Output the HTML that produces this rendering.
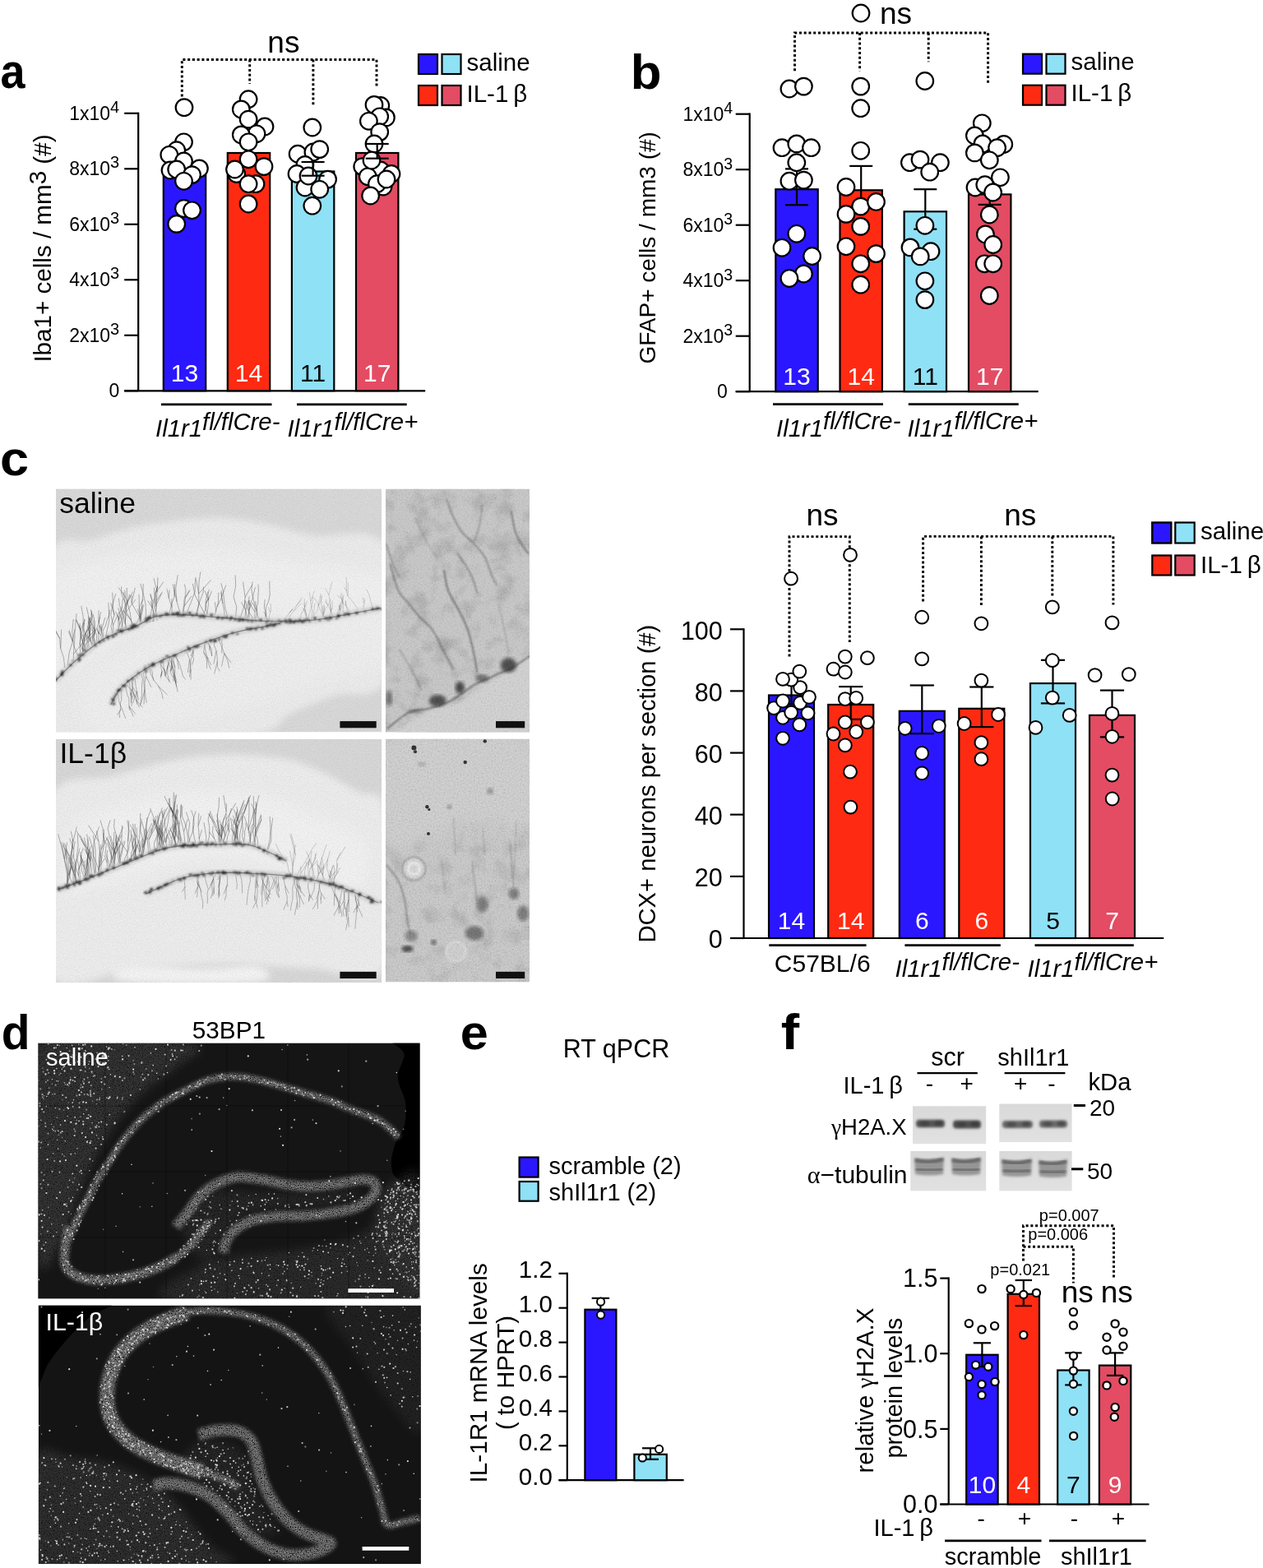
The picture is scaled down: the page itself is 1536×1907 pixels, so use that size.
<!DOCTYPE html><html><head><meta charset="utf-8"><style>html,body{margin:0;padding:0;background:#fff;}svg{display:block;}</style></head><body><svg width="1536" height="1907" viewBox="0 0 1536 1907" font-family="Liberation Sans, Arial, sans-serif"><text x="0.6" y="107.5" font-size="60" font-weight="bold" transform="translate(0.6 0) scale(0.9 1) translate(-0.6 0)">a</text>
<line x1="151.2" y1="475.3" x2="168.2" y2="475.3" stroke="#000" stroke-width="2.2"/>
<text x="145.2" y="483.1" font-size="23" text-anchor="end">0</text>
<line x1="151.2" y1="407.8" x2="168.2" y2="407.8" stroke="#000" stroke-width="2.2"/>
<text x="145.2" y="415.6" font-size="23" text-anchor="end">2x10<tspan font-size="20" dy="-9">3</tspan></text>
<line x1="151.2" y1="340.3" x2="168.2" y2="340.3" stroke="#000" stroke-width="2.2"/>
<text x="145.2" y="348.1" font-size="23" text-anchor="end">4x10<tspan font-size="20" dy="-9">3</tspan></text>
<line x1="151.2" y1="272.8" x2="168.2" y2="272.8" stroke="#000" stroke-width="2.2"/>
<text x="145.2" y="280.6" font-size="23" text-anchor="end">6x10<tspan font-size="20" dy="-9">3</tspan></text>
<line x1="151.2" y1="205.3" x2="168.2" y2="205.3" stroke="#000" stroke-width="2.2"/>
<text x="145.2" y="213.1" font-size="23" text-anchor="end">8x10<tspan font-size="20" dy="-9">3</tspan></text>
<line x1="151.2" y1="137.8" x2="168.2" y2="137.8" stroke="#000" stroke-width="2.2"/>
<text x="145.2" y="145.6" font-size="23" text-anchor="end">1x10<tspan font-size="20" dy="-9">4</tspan></text>
<line x1="168.2" y1="136.7" x2="168.2" y2="475.3" stroke="#000" stroke-width="2.2"/>
<line x1="151.2" y1="475.3" x2="517.2" y2="475.3" stroke="#000" stroke-width="2.2"/>
<text x="62.5" y="440.6" font-size="29.6" transform="rotate(-90 62.5 440.6)">Iba1+ cells / mm<tspan dy="-6">3</tspan><tspan dy="6"> (#)</tspan></text>
<rect x="198.8" y="209" width="51.4" height="266.3" fill="#2b17ff" stroke="#000" stroke-width="2.2"/>
<rect x="276.8" y="186" width="51.4" height="289.3" fill="#ff2a12" stroke="#000" stroke-width="2.2"/>
<rect x="354.9" y="208.5" width="51.4" height="266.8" fill="#8fe1f5" stroke="#000" stroke-width="2.2"/>
<rect x="433" y="186" width="51.4" height="289.3" fill="#e34c63" stroke="#000" stroke-width="2.2"/>
<circle cx="224" cy="130.7" r="10.3" fill="#fff" stroke="#000" stroke-width="2.2"/>
<circle cx="223.5" cy="172.8" r="10.3" fill="#fff" stroke="#000" stroke-width="2.2"/>
<circle cx="214.7" cy="182.7" r="10.3" fill="#fff" stroke="#000" stroke-width="2.2"/>
<circle cx="205.8" cy="188.3" r="10.3" fill="#fff" stroke="#000" stroke-width="2.2"/>
<circle cx="223.5" cy="196" r="10.3" fill="#fff" stroke="#000" stroke-width="2.2"/>
<circle cx="207" cy="207" r="10.3" fill="#fff" stroke="#000" stroke-width="2.2"/>
<circle cx="214.7" cy="206" r="10.3" fill="#fff" stroke="#000" stroke-width="2.2"/>
<circle cx="242.4" cy="204.9" r="10.3" fill="#fff" stroke="#000" stroke-width="2.2"/>
<circle cx="233.5" cy="212.6" r="10.3" fill="#fff" stroke="#000" stroke-width="2.2"/>
<circle cx="223.5" cy="220.3" r="10.3" fill="#fff" stroke="#000" stroke-width="2.2"/>
<circle cx="223.5" cy="253.5" r="10.3" fill="#fff" stroke="#000" stroke-width="2.2"/>
<circle cx="233.5" cy="255.8" r="10.3" fill="#fff" stroke="#000" stroke-width="2.2"/>
<circle cx="214.7" cy="272.4" r="10.3" fill="#fff" stroke="#000" stroke-width="2.2"/>
<circle cx="302.1" cy="120.7" r="10.3" fill="#fff" stroke="#000" stroke-width="2.2"/>
<circle cx="293.3" cy="132.9" r="10.3" fill="#fff" stroke="#000" stroke-width="2.2"/>
<circle cx="302.1" cy="145.1" r="10.3" fill="#fff" stroke="#000" stroke-width="2.2"/>
<circle cx="322" cy="154" r="10.3" fill="#fff" stroke="#000" stroke-width="2.2"/>
<circle cx="312" cy="162.8" r="10.3" fill="#fff" stroke="#000" stroke-width="2.2"/>
<circle cx="293.3" cy="163.9" r="10.3" fill="#fff" stroke="#000" stroke-width="2.2"/>
<circle cx="302.1" cy="172.8" r="10.3" fill="#fff" stroke="#000" stroke-width="2.2"/>
<circle cx="302.1" cy="193.8" r="10.3" fill="#fff" stroke="#000" stroke-width="2.2"/>
<circle cx="287.7" cy="211.5" r="10.3" fill="#fff" stroke="#000" stroke-width="2.2"/>
<circle cx="285.5" cy="206" r="10.3" fill="#fff" stroke="#000" stroke-width="2.2"/>
<circle cx="321" cy="202.6" r="10.3" fill="#fff" stroke="#000" stroke-width="2.2"/>
<circle cx="311" cy="223.7" r="10.3" fill="#fff" stroke="#000" stroke-width="2.2"/>
<circle cx="302.1" cy="223.7" r="10.3" fill="#fff" stroke="#000" stroke-width="2.2"/>
<circle cx="302.1" cy="248" r="10.3" fill="#fff" stroke="#000" stroke-width="2.2"/>
<circle cx="379.8" cy="155" r="10.3" fill="#fff" stroke="#000" stroke-width="2.2"/>
<circle cx="362.1" cy="187.2" r="10.3" fill="#fff" stroke="#000" stroke-width="2.2"/>
<circle cx="380.9" cy="185" r="10.3" fill="#fff" stroke="#000" stroke-width="2.2"/>
<circle cx="388.7" cy="181.6" r="10.3" fill="#fff" stroke="#000" stroke-width="2.2"/>
<circle cx="370.9" cy="200.4" r="10.3" fill="#fff" stroke="#000" stroke-width="2.2"/>
<circle cx="361" cy="211.5" r="10.3" fill="#fff" stroke="#000" stroke-width="2.2"/>
<circle cx="398.6" cy="218.1" r="10.3" fill="#fff" stroke="#000" stroke-width="2.2"/>
<circle cx="371" cy="228" r="10.3" fill="#fff" stroke="#000" stroke-width="2.2"/>
<circle cx="388.7" cy="230.3" r="10.3" fill="#fff" stroke="#000" stroke-width="2.2"/>
<circle cx="379.8" cy="250.2" r="10.3" fill="#fff" stroke="#000" stroke-width="2.2"/>
<circle cx="375" cy="214" r="10.3" fill="#fff" stroke="#000" stroke-width="2.2"/>
<circle cx="462.8" cy="128.5" r="10.3" fill="#fff" stroke="#000" stroke-width="2.2"/>
<circle cx="455" cy="127.4" r="10.3" fill="#fff" stroke="#000" stroke-width="2.2"/>
<circle cx="469.4" cy="142.9" r="10.3" fill="#fff" stroke="#000" stroke-width="2.2"/>
<circle cx="461.7" cy="141.8" r="10.3" fill="#fff" stroke="#000" stroke-width="2.2"/>
<circle cx="448.4" cy="147.3" r="10.3" fill="#fff" stroke="#000" stroke-width="2.2"/>
<circle cx="461.7" cy="160.6" r="10.3" fill="#fff" stroke="#000" stroke-width="2.2"/>
<circle cx="455" cy="175" r="10.3" fill="#fff" stroke="#000" stroke-width="2.2"/>
<circle cx="440.7" cy="202.6" r="10.3" fill="#fff" stroke="#000" stroke-width="2.2"/>
<circle cx="456.2" cy="204.9" r="10.3" fill="#fff" stroke="#000" stroke-width="2.2"/>
<circle cx="462.8" cy="207" r="10.3" fill="#fff" stroke="#000" stroke-width="2.2"/>
<circle cx="476" cy="211.5" r="10.3" fill="#fff" stroke="#000" stroke-width="2.2"/>
<circle cx="447.3" cy="214.8" r="10.3" fill="#fff" stroke="#000" stroke-width="2.2"/>
<circle cx="466.1" cy="227" r="10.3" fill="#fff" stroke="#000" stroke-width="2.2"/>
<circle cx="458.4" cy="223.7" r="10.3" fill="#fff" stroke="#000" stroke-width="2.2"/>
<circle cx="450.6" cy="238" r="10.3" fill="#fff" stroke="#000" stroke-width="2.2"/>
<circle cx="470" cy="218" r="10.3" fill="#fff" stroke="#000" stroke-width="2.2"/>
<circle cx="452" cy="195" r="10.3" fill="#fff" stroke="#000" stroke-width="2.2"/>
<line x1="380.6" y1="197" x2="380.6" y2="213.7" stroke="#000" stroke-width="2.2"/>
<line x1="366.6" y1="197" x2="394.6" y2="197" stroke="#000" stroke-width="2.2"/>
<line x1="366.6" y1="213.7" x2="394.6" y2="213.7" stroke="#000" stroke-width="2.2"/>
<line x1="458.7" y1="175" x2="458.7" y2="192.7" stroke="#000" stroke-width="2.2"/>
<line x1="444.7" y1="175" x2="472.7" y2="175" stroke="#000" stroke-width="2.2"/>
<line x1="444.7" y1="192.7" x2="472.7" y2="192.7" stroke="#000" stroke-width="2.2"/>
<text x="224.5" y="463.7" font-size="30" text-anchor="middle" fill="#fff">13</text>
<text x="302.5" y="463.7" font-size="30" text-anchor="middle" fill="#fff">14</text>
<text x="380.6" y="463.7" font-size="30" text-anchor="middle">11</text>
<text x="458.7" y="463.7" font-size="30" text-anchor="middle" fill="#fff">17</text>
<line x1="196" y1="491.8" x2="330.5" y2="491.8" stroke="#000" stroke-width="2.8"/>
<line x1="361" y1="491.8" x2="494.7" y2="491.8" stroke="#000" stroke-width="2.8"/>
<text x="189" y="530.9" font-size="29.3" font-style="italic">Il1r1<tspan dy="-8.4">fl/flCre-</tspan></text>
<text x="349.5" y="530.9" font-size="29.3" font-style="italic">Il1r1<tspan dy="-8.4">fl/flCre+</tspan></text>
<path d="M221.3 117.4 L221.3 72.5 L458 72.5 L458 105" fill="none" stroke="#000" stroke-width="2.9" stroke-dasharray="3 2.75"/>
<path d="M303.7 72.5 L303.7 102" fill="none" stroke="#000" stroke-width="2.9" stroke-dasharray="3 2.75"/>
<path d="M380.9 72.5 L380.9 127.4" fill="none" stroke="#000" stroke-width="2.9" stroke-dasharray="3 2.75"/>
<text x="344.9" y="64" font-size="37" text-anchor="middle">ns</text>
<rect x="509" y="66" width="23" height="24" fill="#2b17ff" stroke="#000" stroke-width="2.2"/>
<rect x="537.5" y="66" width="23" height="24" fill="#8fe1f5" stroke="#000" stroke-width="2.2"/>
<rect x="509" y="104" width="23" height="24" fill="#ff2a12" stroke="#000" stroke-width="2.2"/>
<rect x="537.5" y="104" width="23" height="24" fill="#e34c63" stroke="#000" stroke-width="2.2"/>
<text x="567.5" y="85.5" font-size="29.5">saline</text>
<text x="567.5" y="123.5" font-size="29.5">IL-1 β</text>
<text x="766.8" y="107.8" font-size="60" font-weight="bold" transform="translate(766.8 0) scale(1.03 1) translate(-766.8 0)">b</text>
<line x1="894.7" y1="476.2" x2="911.7" y2="476.2" stroke="#000" stroke-width="2.2"/>
<text x="884.7" y="484" font-size="23" text-anchor="end">0</text>
<line x1="894.7" y1="408.7" x2="911.7" y2="408.7" stroke="#000" stroke-width="2.2"/>
<text x="891.2" y="416.5" font-size="23" text-anchor="end">2x10<tspan font-size="19.5" dy="-8.5">3</tspan></text>
<line x1="894.7" y1="341.2" x2="911.7" y2="341.2" stroke="#000" stroke-width="2.2"/>
<text x="891.2" y="349" font-size="23" text-anchor="end">4x10<tspan font-size="19.5" dy="-8.5">3</tspan></text>
<line x1="894.7" y1="273.7" x2="911.7" y2="273.7" stroke="#000" stroke-width="2.2"/>
<text x="891.2" y="281.5" font-size="23" text-anchor="end">6x10<tspan font-size="19.5" dy="-8.5">3</tspan></text>
<line x1="894.7" y1="206.2" x2="911.7" y2="206.2" stroke="#000" stroke-width="2.2"/>
<text x="891.2" y="214" font-size="23" text-anchor="end">8x10<tspan font-size="19.5" dy="-8.5">3</tspan></text>
<line x1="894.7" y1="138.7" x2="911.7" y2="138.7" stroke="#000" stroke-width="2.2"/>
<text x="891.2" y="146.5" font-size="23" text-anchor="end">1x10<tspan font-size="19.5" dy="-8.5">4</tspan></text>
<line x1="911.7" y1="137.6" x2="911.7" y2="476.2" stroke="#000" stroke-width="2.2"/>
<line x1="894.7" y1="476.2" x2="1262.7" y2="476.2" stroke="#000" stroke-width="2.2"/>
<text x="796.6" y="442.5" font-size="28" transform="rotate(-90 796.6 442.5)">GFAP+ cells / mm3 (#)</text>
<rect x="943.3" y="230.2" width="51.4" height="246" fill="#2b17ff" stroke="#000" stroke-width="2.2"/>
<rect x="1021.5" y="231.3" width="51.4" height="244.9" fill="#ff2a12" stroke="#000" stroke-width="2.2"/>
<rect x="1099.6" y="257.3" width="51.4" height="218.9" fill="#8fe1f5" stroke="#000" stroke-width="2.2"/>
<rect x="1178" y="236.4" width="51.4" height="239.8" fill="#e34c63" stroke="#000" stroke-width="2.2"/>
<line x1="969" y1="205.4" x2="969" y2="249.3" stroke="#000" stroke-width="2.2"/>
<line x1="955" y1="205.4" x2="983" y2="205.4" stroke="#000" stroke-width="2.2"/>
<line x1="955" y1="249.3" x2="983" y2="249.3" stroke="#000" stroke-width="2.2"/>
<line x1="1047.2" y1="201.9" x2="1047.2" y2="260" stroke="#000" stroke-width="2.2"/>
<line x1="1033.2" y1="201.9" x2="1061.2" y2="201.9" stroke="#000" stroke-width="2.2"/>
<line x1="1125.3" y1="230.2" x2="1125.3" y2="278.7" stroke="#000" stroke-width="2.2"/>
<line x1="1111.3" y1="230.2" x2="1139.3" y2="230.2" stroke="#000" stroke-width="2.2"/>
<line x1="1111.3" y1="278.7" x2="1139.3" y2="278.7" stroke="#000" stroke-width="2.2"/>
<line x1="1203.7" y1="222" x2="1203.7" y2="248.9" stroke="#000" stroke-width="2.2"/>
<line x1="1189.7" y1="222" x2="1217.7" y2="222" stroke="#000" stroke-width="2.2"/>
<line x1="1189.7" y1="248.9" x2="1217.7" y2="248.9" stroke="#000" stroke-width="2.2"/>
<circle cx="959.9" cy="108" r="10.3" fill="#fff" stroke="#000" stroke-width="2.2"/>
<circle cx="977.4" cy="105.1" r="10.3" fill="#fff" stroke="#000" stroke-width="2.2"/>
<circle cx="951" cy="179.7" r="10.3" fill="#fff" stroke="#000" stroke-width="2.2"/>
<circle cx="968.8" cy="174.9" r="10.3" fill="#fff" stroke="#000" stroke-width="2.2"/>
<circle cx="986.5" cy="179.7" r="10.3" fill="#fff" stroke="#000" stroke-width="2.2"/>
<circle cx="968.8" cy="197.7" r="10.3" fill="#fff" stroke="#000" stroke-width="2.2"/>
<circle cx="959.9" cy="220.2" r="10.3" fill="#fff" stroke="#000" stroke-width="2.2"/>
<circle cx="977.4" cy="219.1" r="10.3" fill="#fff" stroke="#000" stroke-width="2.2"/>
<circle cx="968.8" cy="284.3" r="10.3" fill="#fff" stroke="#000" stroke-width="2.2"/>
<circle cx="951" cy="301.3" r="10.3" fill="#fff" stroke="#000" stroke-width="2.2"/>
<circle cx="987.6" cy="311.5" r="10.3" fill="#fff" stroke="#000" stroke-width="2.2"/>
<circle cx="977.4" cy="333" r="10.3" fill="#fff" stroke="#000" stroke-width="2.2"/>
<circle cx="959.9" cy="338.5" r="10.3" fill="#fff" stroke="#000" stroke-width="2.2"/>
<circle cx="1047" cy="16" r="10.3" fill="#fff" stroke="#000" stroke-width="2.2"/>
<circle cx="1046.7" cy="105.1" r="10.3" fill="#fff" stroke="#000" stroke-width="2.2"/>
<circle cx="1046.7" cy="131.7" r="10.3" fill="#fff" stroke="#000" stroke-width="2.2"/>
<circle cx="1046.7" cy="183.3" r="10.3" fill="#fff" stroke="#000" stroke-width="2.2"/>
<circle cx="1029" cy="227.5" r="10.3" fill="#fff" stroke="#000" stroke-width="2.2"/>
<circle cx="1046.7" cy="251.1" r="10.3" fill="#fff" stroke="#000" stroke-width="2.2"/>
<circle cx="1065.5" cy="245.5" r="10.3" fill="#fff" stroke="#000" stroke-width="2.2"/>
<circle cx="1029" cy="260.4" r="10.3" fill="#fff" stroke="#000" stroke-width="2.2"/>
<circle cx="1046.7" cy="275.4" r="10.3" fill="#fff" stroke="#000" stroke-width="2.2"/>
<circle cx="1029" cy="299.8" r="10.3" fill="#fff" stroke="#000" stroke-width="2.2"/>
<circle cx="1065.5" cy="308.6" r="10.3" fill="#fff" stroke="#000" stroke-width="2.2"/>
<circle cx="1046.7" cy="320.8" r="10.3" fill="#fff" stroke="#000" stroke-width="2.2"/>
<circle cx="1046.7" cy="346.2" r="10.3" fill="#fff" stroke="#000" stroke-width="2.2"/>
<circle cx="1124.8" cy="98.5" r="10.3" fill="#fff" stroke="#000" stroke-width="2.2"/>
<circle cx="1106.4" cy="197.7" r="10.3" fill="#fff" stroke="#000" stroke-width="2.2"/>
<circle cx="1119" cy="194.1" r="10.3" fill="#fff" stroke="#000" stroke-width="2.2"/>
<circle cx="1143.4" cy="197.7" r="10.3" fill="#fff" stroke="#000" stroke-width="2.2"/>
<circle cx="1130.7" cy="209.2" r="10.3" fill="#fff" stroke="#000" stroke-width="2.2"/>
<circle cx="1124.9" cy="274.3" r="10.3" fill="#fff" stroke="#000" stroke-width="2.2"/>
<circle cx="1107" cy="300.9" r="10.3" fill="#fff" stroke="#000" stroke-width="2.2"/>
<circle cx="1132" cy="305.7" r="10.3" fill="#fff" stroke="#000" stroke-width="2.2"/>
<circle cx="1119.2" cy="311.9" r="10.3" fill="#fff" stroke="#000" stroke-width="2.2"/>
<circle cx="1124.9" cy="341.8" r="10.3" fill="#fff" stroke="#000" stroke-width="2.2"/>
<circle cx="1124.9" cy="364.6" r="10.3" fill="#fff" stroke="#000" stroke-width="2.2"/>
<circle cx="1194.3" cy="149.8" r="10.3" fill="#fff" stroke="#000" stroke-width="2.2"/>
<circle cx="1185.4" cy="164.9" r="10.3" fill="#fff" stroke="#000" stroke-width="2.2"/>
<circle cx="1195" cy="174.9" r="10.3" fill="#fff" stroke="#000" stroke-width="2.2"/>
<circle cx="1220.8" cy="175.5" r="10.3" fill="#fff" stroke="#000" stroke-width="2.2"/>
<circle cx="1212.6" cy="179.7" r="10.3" fill="#fff" stroke="#000" stroke-width="2.2"/>
<circle cx="1185.4" cy="185.9" r="10.3" fill="#fff" stroke="#000" stroke-width="2.2"/>
<circle cx="1203.3" cy="194.8" r="10.3" fill="#fff" stroke="#000" stroke-width="2.2"/>
<circle cx="1216.4" cy="215.8" r="10.3" fill="#fff" stroke="#000" stroke-width="2.2"/>
<circle cx="1186" cy="228" r="10.3" fill="#fff" stroke="#000" stroke-width="2.2"/>
<circle cx="1197.8" cy="224.7" r="10.3" fill="#fff" stroke="#000" stroke-width="2.2"/>
<circle cx="1207.6" cy="234" r="10.3" fill="#fff" stroke="#000" stroke-width="2.2"/>
<circle cx="1203.3" cy="261" r="10.3" fill="#fff" stroke="#000" stroke-width="2.2"/>
<circle cx="1198.4" cy="284.9" r="10.3" fill="#fff" stroke="#000" stroke-width="2.2"/>
<circle cx="1207.7" cy="297.5" r="10.3" fill="#fff" stroke="#000" stroke-width="2.2"/>
<circle cx="1197.3" cy="320.8" r="10.3" fill="#fff" stroke="#000" stroke-width="2.2"/>
<circle cx="1207.7" cy="320.8" r="10.3" fill="#fff" stroke="#000" stroke-width="2.2"/>
<circle cx="1203.3" cy="359.5" r="10.3" fill="#fff" stroke="#000" stroke-width="2.2"/>
<text x="969" y="467.8" font-size="30" text-anchor="middle" fill="#fff">13</text>
<text x="1047.2" y="467.8" font-size="30" text-anchor="middle" fill="#fff">14</text>
<text x="1125.3" y="467.8" font-size="30" text-anchor="middle">11</text>
<text x="1203.7" y="467.8" font-size="30" text-anchor="middle" fill="#fff">17</text>
<line x1="940" y1="491.7" x2="1073.9" y2="491.7" stroke="#000" stroke-width="2.8"/>
<line x1="1104.8" y1="491.7" x2="1238.7" y2="491.7" stroke="#000" stroke-width="2.8"/>
<text x="944" y="530.8" font-size="29.3" font-style="italic">Il1r1<tspan dy="-8.4">fl/flCre-</tspan></text>
<text x="1103.5" y="530.8" font-size="29.3" font-style="italic">Il1r1<tspan dy="-8.4">fl/flCre+</tspan></text>
<path d="M966.5 86.3 L966.5 40 L1201.6 40 L1201.6 101.8" fill="none" stroke="#000" stroke-width="2.9" stroke-dasharray="3 2.75"/>
<path d="M1045.6 40 L1045.6 86.3" fill="none" stroke="#000" stroke-width="2.9" stroke-dasharray="3 2.75"/>
<path d="M1129.2 40 L1129.2 75.3" fill="none" stroke="#000" stroke-width="2.9" stroke-dasharray="3 2.75"/>
<text x="1089.6" y="29.4" font-size="37" text-anchor="middle">ns</text>
<rect x="1244" y="65.7" width="23" height="24" fill="#2b17ff" stroke="#000" stroke-width="2.2"/>
<rect x="1272.5" y="65.7" width="23" height="24" fill="#8fe1f5" stroke="#000" stroke-width="2.2"/>
<rect x="1244" y="103.7" width="23" height="24" fill="#ff2a12" stroke="#000" stroke-width="2.2"/>
<rect x="1272.5" y="103.7" width="23" height="24" fill="#e34c63" stroke="#000" stroke-width="2.2"/>
<text x="1302.5" y="85.2" font-size="29.5">saline</text>
<text x="1302.5" y="123.2" font-size="29.5">IL-1 β</text>
<line x1="888" y1="1141" x2="904.5" y2="1141" stroke="#000" stroke-width="2.2"/>
<text x="878.8" y="1153.2" font-size="30.5" text-anchor="end">0</text>
<line x1="888" y1="1065.9" x2="904.5" y2="1065.9" stroke="#000" stroke-width="2.2"/>
<text x="878.8" y="1078.1" font-size="30.5" text-anchor="end">20</text>
<line x1="888" y1="990.7" x2="904.5" y2="990.7" stroke="#000" stroke-width="2.2"/>
<text x="878.8" y="1002.9" font-size="30.5" text-anchor="end">40</text>
<line x1="888" y1="915.6" x2="904.5" y2="915.6" stroke="#000" stroke-width="2.2"/>
<text x="878.8" y="927.8" font-size="30.5" text-anchor="end">60</text>
<line x1="888" y1="840.4" x2="904.5" y2="840.4" stroke="#000" stroke-width="2.2"/>
<text x="878.8" y="852.6" font-size="30.5" text-anchor="end">80</text>
<line x1="888" y1="765.3" x2="904.5" y2="765.3" stroke="#000" stroke-width="2.2"/>
<text x="878.8" y="777.5" font-size="30.5" text-anchor="end">100</text>
<line x1="904.5" y1="764.2" x2="904.5" y2="1141" stroke="#000" stroke-width="2.2"/>
<line x1="888" y1="1141" x2="1415.3" y2="1141" stroke="#000" stroke-width="2.2"/>
<text x="796.8" y="1146.6" font-size="29.2" transform="rotate(-90 796.8 1146.6)">DCX+ neurons per section (#)</text>
<path d="M960 798.6 L960 652.6 L1033.3 652.6 L1033.3 781" fill="none" stroke="#000" stroke-width="2.9" stroke-dasharray="3 2.75"/>
<path d="M1122.6 731.4 L1122.6 652.4 L1353.9 652.4 L1353.9 735.5" fill="none" stroke="#000" stroke-width="2.9" stroke-dasharray="3 2.75"/>
<path d="M1193.4 652.4 L1193.4 738.2" fill="none" stroke="#000" stroke-width="2.9" stroke-dasharray="3 2.75"/>
<path d="M1279.8 652.4 L1279.8 726.5" fill="none" stroke="#000" stroke-width="2.9" stroke-dasharray="3 2.75"/>
<text x="1000" y="639" font-size="37" text-anchor="middle">ns</text>
<text x="1240.8" y="639" font-size="37" text-anchor="middle">ns</text>
<rect x="935" y="845.5" width="55" height="295.5" fill="#2b17ff" stroke="#000" stroke-width="2.2"/>
<rect x="1007.2" y="857" width="55" height="284" fill="#ff2a12" stroke="#000" stroke-width="2.2"/>
<rect x="1093.8" y="864.8" width="55" height="276.2" fill="#2b17ff" stroke="#000" stroke-width="2.2"/>
<rect x="1166.3" y="861.8" width="55" height="279.2" fill="#ff2a12" stroke="#000" stroke-width="2.2"/>
<rect x="1253" y="831.1" width="55" height="309.9" fill="#8fe1f5" stroke="#000" stroke-width="2.2"/>
<rect x="1325" y="869.9" width="55" height="271.1" fill="#e34c63" stroke="#000" stroke-width="2.2"/>
<line x1="962.5" y1="832.5" x2="962.5" y2="856.4" stroke="#000" stroke-width="2.2"/>
<line x1="947.9" y1="832.5" x2="977.1" y2="832.5" stroke="#000" stroke-width="2.2"/>
<line x1="947.9" y1="856.4" x2="977.1" y2="856.4" stroke="#000" stroke-width="2.2"/>
<circle cx="962" cy="703.7" r="7.9" fill="#fff" stroke="#000" stroke-width="2.0"/>
<circle cx="952" cy="897.8" r="7.9" fill="#fff" stroke="#000" stroke-width="2.0"/>
<circle cx="972.3" cy="881.4" r="7.9" fill="#fff" stroke="#000" stroke-width="2.0"/>
<circle cx="952" cy="872.8" r="7.9" fill="#fff" stroke="#000" stroke-width="2.0"/>
<circle cx="982.5" cy="867.3" r="7.9" fill="#fff" stroke="#000" stroke-width="2.0"/>
<circle cx="962.2" cy="866.6" r="7.9" fill="#fff" stroke="#000" stroke-width="2.0"/>
<circle cx="941.1" cy="861.1" r="7.9" fill="#fff" stroke="#000" stroke-width="2.0"/>
<circle cx="952" cy="852.5" r="7.9" fill="#fff" stroke="#000" stroke-width="2.0"/>
<circle cx="973.1" cy="854.8" r="7.9" fill="#fff" stroke="#000" stroke-width="2.0"/>
<circle cx="984" cy="847.8" r="7.9" fill="#fff" stroke="#000" stroke-width="2.0"/>
<circle cx="973.1" cy="836.1" r="7.9" fill="#fff" stroke="#000" stroke-width="2.0"/>
<circle cx="962.2" cy="826.7" r="7.9" fill="#fff" stroke="#000" stroke-width="2.0"/>
<circle cx="952" cy="825.9" r="7.9" fill="#fff" stroke="#000" stroke-width="2.0"/>
<circle cx="972.3" cy="816.6" r="7.9" fill="#fff" stroke="#000" stroke-width="2.0"/>
<text x="962.5" y="1130.2" font-size="30" text-anchor="middle" fill="#fff">14</text>
<line x1="1034.7" y1="835.1" x2="1034.7" y2="874.9" stroke="#000" stroke-width="2.2"/>
<line x1="1020.1" y1="835.1" x2="1049.3" y2="835.1" stroke="#000" stroke-width="2.2"/>
<line x1="1020.1" y1="874.9" x2="1049.3" y2="874.9" stroke="#000" stroke-width="2.2"/>
<circle cx="1034" cy="674.9" r="7.9" fill="#fff" stroke="#000" stroke-width="2.0"/>
<circle cx="1027.8" cy="798.6" r="7.9" fill="#fff" stroke="#000" stroke-width="2.0"/>
<circle cx="1054.9" cy="800.2" r="7.9" fill="#fff" stroke="#000" stroke-width="2.0"/>
<circle cx="1013.5" cy="813.7" r="7.9" fill="#fff" stroke="#000" stroke-width="2.0"/>
<circle cx="1027.8" cy="817.5" r="7.9" fill="#fff" stroke="#000" stroke-width="2.0"/>
<circle cx="1027.8" cy="850.1" r="7.9" fill="#fff" stroke="#000" stroke-width="2.0"/>
<circle cx="1041.2" cy="848.9" r="7.9" fill="#fff" stroke="#000" stroke-width="2.0"/>
<circle cx="1027.8" cy="878.3" r="7.9" fill="#fff" stroke="#000" stroke-width="2.0"/>
<circle cx="1054.9" cy="878.3" r="7.9" fill="#fff" stroke="#000" stroke-width="2.0"/>
<circle cx="1013.5" cy="892.5" r="7.9" fill="#fff" stroke="#000" stroke-width="2.0"/>
<circle cx="1041.2" cy="890" r="7.9" fill="#fff" stroke="#000" stroke-width="2.0"/>
<circle cx="1027.8" cy="906.4" r="7.9" fill="#fff" stroke="#000" stroke-width="2.0"/>
<circle cx="1034" cy="938.7" r="7.9" fill="#fff" stroke="#000" stroke-width="2.0"/>
<circle cx="1034.4" cy="981.6" r="7.9" fill="#fff" stroke="#000" stroke-width="2.0"/>
<text x="1034.7" y="1130.2" font-size="30" text-anchor="middle" fill="#fff">14</text>
<line x1="1121.3" y1="833.5" x2="1121.3" y2="892.2" stroke="#000" stroke-width="2.2"/>
<line x1="1106.7" y1="833.5" x2="1135.9" y2="833.5" stroke="#000" stroke-width="2.2"/>
<line x1="1106.7" y1="892.2" x2="1135.9" y2="892.2" stroke="#000" stroke-width="2.2"/>
<circle cx="1121.2" cy="750.7" r="7.9" fill="#fff" stroke="#000" stroke-width="2.0"/>
<circle cx="1121.2" cy="801.4" r="7.9" fill="#fff" stroke="#000" stroke-width="2.0"/>
<circle cx="1100.7" cy="885.8" r="7.9" fill="#fff" stroke="#000" stroke-width="2.0"/>
<circle cx="1141.8" cy="883" r="7.9" fill="#fff" stroke="#000" stroke-width="2.0"/>
<circle cx="1121.2" cy="916" r="7.9" fill="#fff" stroke="#000" stroke-width="2.0"/>
<circle cx="1121.2" cy="940.3" r="7.9" fill="#fff" stroke="#000" stroke-width="2.0"/>
<text x="1121.3" y="1130.2" font-size="30" text-anchor="middle" fill="#fff">6</text>
<line x1="1193.8" y1="835.5" x2="1193.8" y2="884.1" stroke="#000" stroke-width="2.2"/>
<line x1="1179.2" y1="835.5" x2="1208.4" y2="835.5" stroke="#000" stroke-width="2.2"/>
<line x1="1179.2" y1="884.1" x2="1208.4" y2="884.1" stroke="#000" stroke-width="2.2"/>
<circle cx="1193.4" cy="758.3" r="7.9" fill="#fff" stroke="#000" stroke-width="2.0"/>
<circle cx="1193.4" cy="827.6" r="7.9" fill="#fff" stroke="#000" stroke-width="2.0"/>
<circle cx="1214" cy="869" r="7.9" fill="#fff" stroke="#000" stroke-width="2.0"/>
<circle cx="1172.6" cy="880" r="7.9" fill="#fff" stroke="#000" stroke-width="2.0"/>
<circle cx="1193.4" cy="903.1" r="7.9" fill="#fff" stroke="#000" stroke-width="2.0"/>
<circle cx="1193.4" cy="923.2" r="7.9" fill="#fff" stroke="#000" stroke-width="2.0"/>
<text x="1193.8" y="1130.2" font-size="30" text-anchor="middle" fill="#fff">6</text>
<line x1="1280.5" y1="802.8" x2="1280.5" y2="855.4" stroke="#000" stroke-width="2.2"/>
<line x1="1265.9" y1="802.8" x2="1295.1" y2="802.8" stroke="#000" stroke-width="2.2"/>
<line x1="1265.9" y1="855.4" x2="1295.1" y2="855.4" stroke="#000" stroke-width="2.2"/>
<circle cx="1279.8" cy="738.4" r="7.9" fill="#fff" stroke="#000" stroke-width="2.0"/>
<circle cx="1279.8" cy="803.2" r="7.9" fill="#fff" stroke="#000" stroke-width="2.0"/>
<circle cx="1279.8" cy="848.6" r="7.9" fill="#fff" stroke="#000" stroke-width="2.0"/>
<circle cx="1300.7" cy="869.9" r="7.9" fill="#fff" stroke="#000" stroke-width="2.0"/>
<circle cx="1259.5" cy="884.9" r="7.9" fill="#fff" stroke="#000" stroke-width="2.0"/>
<text x="1280.5" y="1130.2" font-size="30" text-anchor="middle">5</text>
<line x1="1352.5" y1="839.6" x2="1352.5" y2="896.4" stroke="#000" stroke-width="2.2"/>
<line x1="1337.9" y1="839.6" x2="1367.1" y2="839.6" stroke="#000" stroke-width="2.2"/>
<line x1="1337.9" y1="896.4" x2="1367.1" y2="896.4" stroke="#000" stroke-width="2.2"/>
<circle cx="1352.5" cy="757.4" r="7.9" fill="#fff" stroke="#000" stroke-width="2.0"/>
<circle cx="1331.6" cy="821.1" r="7.9" fill="#fff" stroke="#000" stroke-width="2.0"/>
<circle cx="1372.8" cy="820.1" r="7.9" fill="#fff" stroke="#000" stroke-width="2.0"/>
<circle cx="1352.5" cy="867.9" r="7.9" fill="#fff" stroke="#000" stroke-width="2.0"/>
<circle cx="1352.5" cy="895.8" r="7.9" fill="#fff" stroke="#000" stroke-width="2.0"/>
<circle cx="1352.5" cy="942.6" r="7.9" fill="#fff" stroke="#000" stroke-width="2.0"/>
<circle cx="1352.7" cy="971.5" r="7.9" fill="#fff" stroke="#000" stroke-width="2.0"/>
<text x="1352.5" y="1130.2" font-size="30" text-anchor="middle" fill="#fff">7</text>
<line x1="935.3" y1="1149.6" x2="1053.5" y2="1149.6" stroke="#000" stroke-width="2.8"/>
<line x1="1100.4" y1="1149.6" x2="1216.8" y2="1149.6" stroke="#000" stroke-width="2.8"/>
<line x1="1258.5" y1="1149.6" x2="1378.8" y2="1149.6" stroke="#000" stroke-width="2.8"/>
<text x="1000.2" y="1182" font-size="30" text-anchor="middle">C57BL/6</text>
<text x="1088.5" y="1188" font-size="29.3" font-style="italic">Il1r1<tspan dy="-8.4">fl/flCre-</tspan></text>
<text x="1249.5" y="1188" font-size="29.3" font-style="italic">Il1r1<tspan dy="-8.4">fl/flCre+</tspan></text>
<rect x="1401.3" y="635.5" width="23" height="25" fill="#2b17ff" stroke="#000" stroke-width="2.4"/>
<rect x="1429.3" y="635.5" width="23.4" height="25" fill="#8fe1f5" stroke="#000" stroke-width="2.2"/>
<rect x="1401.3" y="675.5" width="23" height="24" fill="#ff2a12" stroke="#000" stroke-width="2.2"/>
<rect x="1429.3" y="675.5" width="23.4" height="24" fill="#e34c63" stroke="#000" stroke-width="2.2"/>
<text x="1460" y="655.8" font-size="29.5">saline</text>
<text x="1460" y="697" font-size="29.5">IL-1 β</text>
<text x="0" y="578.5" font-size="60" font-weight="bold" transform="scale(1.05 1)">c</text>
<text x="559.8" y="1276.4" font-size="60" font-weight="bold" transform="translate(559.8 0) scale(1.02 1) translate(-559.8 0)">e</text>
<text x="749.5" y="1285.5" font-size="30.5" text-anchor="middle">RT qPCR</text>
<rect x="631.6" y="1407.5" width="23" height="24.1" fill="#2b17ff" stroke="#000" stroke-width="2.2"/>
<rect x="631.6" y="1437" width="23" height="23.7" fill="#8fe1f5" stroke="#000" stroke-width="2.2"/>
<text x="667.5" y="1427.5" font-size="29">scramble (2)</text>
<text x="667.5" y="1459.5" font-size="29">shIl1r1 (2)</text>
<line x1="679.5" y1="1800.2" x2="689.8" y2="1800.2" stroke="#000" stroke-width="2.2"/>
<text x="671.8" y="1805.8" font-size="29.5" text-anchor="end">0.0</text>
<line x1="679.5" y1="1758.3" x2="689.8" y2="1758.3" stroke="#000" stroke-width="2.2"/>
<text x="671.8" y="1763.9" font-size="29.5" text-anchor="end">0.2</text>
<line x1="679.5" y1="1716.4" x2="689.8" y2="1716.4" stroke="#000" stroke-width="2.2"/>
<text x="671.8" y="1722" font-size="29.5" text-anchor="end">0.4</text>
<line x1="679.5" y1="1674.5" x2="689.8" y2="1674.5" stroke="#000" stroke-width="2.2"/>
<text x="671.8" y="1680.1" font-size="29.5" text-anchor="end">0.6</text>
<line x1="679.5" y1="1632.6" x2="689.8" y2="1632.6" stroke="#000" stroke-width="2.2"/>
<text x="671.8" y="1638.2" font-size="29.5" text-anchor="end">0.8</text>
<line x1="679.5" y1="1590.7" x2="689.8" y2="1590.7" stroke="#000" stroke-width="2.2"/>
<text x="671.8" y="1596.3" font-size="29.5" text-anchor="end">1.0</text>
<line x1="679.5" y1="1548.8" x2="689.8" y2="1548.8" stroke="#000" stroke-width="2.2"/>
<text x="671.8" y="1554.4" font-size="29.5" text-anchor="end">1.2</text>
<line x1="689.8" y1="1547.7" x2="689.8" y2="1800.2" stroke="#000" stroke-width="2.2"/>
<line x1="679.5" y1="1800.2" x2="831.6" y2="1800.2" stroke="#000" stroke-width="2.2"/>
<text x="592.2" y="1803.5" font-size="29.7" transform="rotate(-90 592.2 1803.5)">IL-1R1 mRNA levels</text>
<text x="624.5" y="1739" font-size="29.2" transform="rotate(-90 624.5 1739)">( to HPRT)</text>
<rect x="711.4" y="1592.7" width="38" height="207.5" fill="#2b17ff" stroke="#000" stroke-width="2.2"/>
<rect x="771.4" y="1768.8" width="39.4" height="31.4" fill="#8fe1f5" stroke="#000" stroke-width="2.2"/>
<line x1="730.4" y1="1578.9" x2="730.4" y2="1600" stroke="#000" stroke-width="2.2"/>
<line x1="719.7" y1="1578.9" x2="741.1" y2="1578.9" stroke="#000" stroke-width="2.2"/>
<circle cx="730.6" cy="1583.2" r="4.6" fill="#fff" stroke="#000" stroke-width="2"/>
<circle cx="730.6" cy="1599.1" r="4.6" fill="#fff" stroke="#000" stroke-width="2"/>
<line x1="791" y1="1761.3" x2="791" y2="1774.8" stroke="#000" stroke-width="2.2"/>
<line x1="781" y1="1761.3" x2="801" y2="1761.3" stroke="#000" stroke-width="2.2"/>
<line x1="781" y1="1774.8" x2="801" y2="1774.8" stroke="#000" stroke-width="2.2"/>
<circle cx="781.3" cy="1773" r="4.6" fill="#fff" stroke="#000" stroke-width="2"/>
<circle cx="801.6" cy="1762.4" r="4.6" fill="#fff" stroke="#000" stroke-width="2"/>
<text x="949.8" y="1276" font-size="61" font-weight="bold" transform="translate(949.8 0) scale(1.1 1) translate(-949.8 0)">f</text>
<text x="1152.7" y="1296.3" font-size="30.5" text-anchor="middle">scr</text>
<text x="1256.8" y="1296.1" font-size="29" text-anchor="middle">shIl1r1</text>
<line x1="1115.5" y1="1305.1" x2="1188.8" y2="1305.1" stroke="#000" stroke-width="2.4"/>
<line x1="1221.6" y1="1305.1" x2="1295.4" y2="1305.1" stroke="#000" stroke-width="2.4"/>
<text x="1098" y="1330.2" font-size="29" text-anchor="end">IL-1 β</text>
<text x="1130.5" y="1327" font-size="28" text-anchor="middle">-</text>
<text x="1175.6" y="1327" font-size="28" text-anchor="middle">+</text>
<text x="1241.3" y="1327" font-size="28" text-anchor="middle">+</text>
<text x="1279" y="1327" font-size="28" text-anchor="middle">-</text>
<text x="1323.5" y="1325.8" font-size="29.2">kDa</text>
<defs><filter id="blur2" x="-20%" y="-50%" width="140%" height="200%"><feGaussianBlur stdDeviation="1.6"/></filter></defs>
<defs><linearGradient id="blg" x1="0" y1="0" x2="0" y2="1"><stop offset="0" stop-color="#d9d9d9"/><stop offset="1" stop-color="#e1e1e1"/></linearGradient></defs>
<rect x="1110" y="1345.3" width="89.2" height="45.9" fill="url(#blg)"/>
<rect x="1215.3" y="1342.5" width="88.3" height="46.5" fill="url(#blg)"/>
<rect x="1107.3" y="1400" width="91.9" height="48.4" fill="url(#blg)"/>
<rect x="1215.3" y="1400" width="88.3" height="48.4" fill="url(#blg)"/>
<rect x="1114" y="1361.8" width="35" height="9.5" rx="4" fill="#555" filter="url(#blur2)"/>
<ellipse cx="1124.5" cy="1366.5" rx="6" ry="3" fill="#333" opacity="0.5" filter="url(#blur2)"/>
<ellipse cx="1141.3" cy="1366" rx="5" ry="3" fill="#2a2a2a" opacity="0.5" filter="url(#blur2)"/>
<rect x="1159" y="1362.5" width="34" height="10" rx="4" fill="#505050" filter="url(#blur2)"/>
<ellipse cx="1169.2" cy="1367.5" rx="6" ry="3" fill="#333" opacity="0.5" filter="url(#blur2)"/>
<ellipse cx="1185.5" cy="1367" rx="5" ry="3" fill="#2a2a2a" opacity="0.5" filter="url(#blur2)"/>
<rect x="1219" y="1363" width="37" height="9" rx="4" fill="#666" filter="url(#blur2)"/>
<ellipse cx="1230.1" cy="1367.5" rx="6" ry="3" fill="#333" opacity="0.5" filter="url(#blur2)"/>
<ellipse cx="1247.9" cy="1367" rx="5" ry="3" fill="#2a2a2a" opacity="0.5" filter="url(#blur2)"/>
<rect x="1264" y="1362.5" width="34" height="9" rx="4" fill="#6a6a6a" filter="url(#blur2)"/>
<ellipse cx="1274.2" cy="1367" rx="6" ry="3" fill="#333" opacity="0.5" filter="url(#blur2)"/>
<ellipse cx="1290.5" cy="1366.5" rx="5" ry="3" fill="#2a2a2a" opacity="0.5" filter="url(#blur2)"/>
<path d="M1112 1408 Q1130.0 1413 1148 1407 L1147 1428 Q1130.0 1431 1113 1428 Z" fill="#959595" filter="url(#blur2)"/>
<path d="M1113 1411 Q1130.0 1415 1147 1410" fill="none" stroke="#626262" stroke-width="4" filter="url(#blur2)"/>
<path d="M1114 1422 Q1130.0 1424.5 1146 1422" fill="none" stroke="#6e6e6e" stroke-width="4.5" filter="url(#blur2)"/>
<path d="M1157 1408 Q1175.0 1413 1193 1407 L1192 1428 Q1175.0 1431 1158 1428 Z" fill="#959595" filter="url(#blur2)"/>
<path d="M1158 1411 Q1175.0 1415 1192 1410" fill="none" stroke="#626262" stroke-width="4" filter="url(#blur2)"/>
<path d="M1159 1422 Q1175.0 1424.5 1191 1422" fill="none" stroke="#6e6e6e" stroke-width="4.5" filter="url(#blur2)"/>
<path d="M1218 1409.5 Q1236.5 1414.5 1255 1408.5 L1254 1429.5 Q1236.5 1432.5 1219 1429.5 Z" fill="#959595" filter="url(#blur2)"/>
<path d="M1219 1412.5 Q1236.5 1416.5 1254 1411.5" fill="none" stroke="#626262" stroke-width="4" filter="url(#blur2)"/>
<path d="M1220 1423.5 Q1236.5 1426.0 1253 1423.5" fill="none" stroke="#6e6e6e" stroke-width="4.5" filter="url(#blur2)"/>
<path d="M1263 1410.5 Q1280.5 1415.5 1298 1409.5 L1297 1430.5 Q1280.5 1433.5 1264 1430.5 Z" fill="#959595" filter="url(#blur2)"/>
<path d="M1264 1413.5 Q1280.5 1417.5 1297 1412.5" fill="none" stroke="#626262" stroke-width="4" filter="url(#blur2)"/>
<path d="M1265 1424.5 Q1280.5 1427.0 1296 1424.5" fill="none" stroke="#6e6e6e" stroke-width="4.5" filter="url(#blur2)"/>
<text x="1102.6" y="1380" font-size="27.5" text-anchor="end"><tspan font-family="Liberation Serif, serif">γ</tspan>H2A.X</text>
<text x="1103.5" y="1438.5" font-size="30" text-anchor="end"><tspan font-family="Liberation Serif, serif">α</tspan>−tubulin</text>
<line x1="1305.8" y1="1344.5" x2="1320" y2="1344.5" stroke="#000" stroke-width="3"/>
<text x="1325" y="1357" font-size="28">20</text>
<line x1="1303" y1="1421.8" x2="1317.3" y2="1421.8" stroke="#000" stroke-width="3"/>
<text x="1322" y="1433.6" font-size="28">50</text>
<line x1="1143.3" y1="1829.5" x2="1153.7" y2="1829.5" stroke="#000" stroke-width="2.2"/>
<text x="1140.5" y="1840.3" font-size="30.5" text-anchor="end">0.0</text>
<line x1="1143.3" y1="1737.9" x2="1153.7" y2="1737.9" stroke="#000" stroke-width="2.2"/>
<text x="1140.5" y="1748.7" font-size="30.5" text-anchor="end">0.5</text>
<line x1="1143.3" y1="1646.2" x2="1153.7" y2="1646.2" stroke="#000" stroke-width="2.2"/>
<text x="1140.5" y="1657" font-size="30.5" text-anchor="end">1.0</text>
<line x1="1143.3" y1="1554.6" x2="1153.7" y2="1554.6" stroke="#000" stroke-width="2.2"/>
<text x="1140.5" y="1565.4" font-size="30.5" text-anchor="end">1.5</text>
<line x1="1153.7" y1="1553.5" x2="1153.7" y2="1829.5" stroke="#000" stroke-width="2.2"/>
<line x1="1143.3" y1="1829.5" x2="1397.5" y2="1829.5" stroke="#000" stroke-width="2.2"/>
<text x="1062" y="1791.5" font-size="29.4" transform="rotate(-90 1062 1791.5)">relative <tspan font-family="Liberation Serif, serif">γ</tspan>H2A.X</text>
<text x="1096.6" y="1773.5" font-size="29" transform="rotate(-90 1096.6 1773.5)">protein levels</text>
<path d="M1244.5 1533.6 L1244.5 1490.7 L1354.5 1490.7 L1354.5 1556.1" fill="none" stroke="#000" stroke-width="2.9" stroke-dasharray="3 2.75"/>
<path d="M1244.5 1516.2 L1305.4 1516.2 L1305.4 1560.6" fill="none" stroke="#000" stroke-width="2.9" stroke-dasharray="3 2.75"/>
<text x="1300.3" y="1484.5" font-size="20" text-anchor="middle">p=0.007</text>
<text x="1286.7" y="1508.4" font-size="20" text-anchor="middle">p=0.006</text>
<text x="1240.8" y="1550.6" font-size="20" text-anchor="middle">p=0.021</text>
<text x="1310.2" y="1584" font-size="37" text-anchor="middle">ns</text>
<text x="1358.2" y="1584" font-size="37" text-anchor="middle">ns</text>
<rect x="1175.2" y="1647.7" width="38.4" height="181.8" fill="#2b17ff" stroke="#000" stroke-width="2.2"/>
<rect x="1225.6" y="1573.8" width="38.4" height="255.7" fill="#ff2a12" stroke="#000" stroke-width="2.2"/>
<rect x="1286.2" y="1666.5" width="38.4" height="163" fill="#8fe1f5" stroke="#000" stroke-width="2.2"/>
<rect x="1336.9" y="1660.6" width="38.4" height="168.9" fill="#e34c63" stroke="#000" stroke-width="2.2"/>
<line x1="1194.4" y1="1633.3" x2="1194.4" y2="1662" stroke="#000" stroke-width="2.2"/>
<line x1="1183.8" y1="1633.3" x2="1205" y2="1633.3" stroke="#000" stroke-width="2.2"/>
<line x1="1183.8" y1="1662" x2="1205" y2="1662" stroke="#000" stroke-width="2.2"/>
<line x1="1244.8" y1="1557" x2="1244.8" y2="1588.1" stroke="#000" stroke-width="2.2"/>
<line x1="1234.6" y1="1557" x2="1255" y2="1557" stroke="#000" stroke-width="2.2"/>
<line x1="1234.6" y1="1588.1" x2="1255" y2="1588.1" stroke="#000" stroke-width="2.2"/>
<line x1="1305.4" y1="1645.4" x2="1305.4" y2="1684.4" stroke="#000" stroke-width="2.2"/>
<line x1="1295.2" y1="1645.4" x2="1315.6" y2="1645.4" stroke="#000" stroke-width="2.2"/>
<line x1="1295.2" y1="1684.4" x2="1315.6" y2="1684.4" stroke="#000" stroke-width="2.2"/>
<line x1="1356.1" y1="1645.4" x2="1356.1" y2="1672.9" stroke="#000" stroke-width="2.2"/>
<line x1="1345.9" y1="1645.4" x2="1366.3" y2="1645.4" stroke="#000" stroke-width="2.2"/>
<line x1="1345.9" y1="1672.9" x2="1366.3" y2="1672.9" stroke="#000" stroke-width="2.2"/>
<circle cx="1194" cy="1567.6" r="4.6" fill="#fff" stroke="#000" stroke-width="2.2"/>
<circle cx="1178.4" cy="1609.6" r="4.6" fill="#fff" stroke="#000" stroke-width="2.2"/>
<circle cx="1194" cy="1616.9" r="4.6" fill="#fff" stroke="#000" stroke-width="2.2"/>
<circle cx="1209.6" cy="1612.6" r="4.6" fill="#fff" stroke="#000" stroke-width="2.2"/>
<circle cx="1186.6" cy="1660.1" r="4.6" fill="#fff" stroke="#000" stroke-width="2.2"/>
<circle cx="1201.8" cy="1662.2" r="4.6" fill="#fff" stroke="#000" stroke-width="2.2"/>
<circle cx="1178.4" cy="1674.5" r="4.6" fill="#fff" stroke="#000" stroke-width="2.2"/>
<circle cx="1194" cy="1683.5" r="4.6" fill="#fff" stroke="#000" stroke-width="2.2"/>
<circle cx="1210" cy="1680.6" r="4.6" fill="#fff" stroke="#000" stroke-width="2.2"/>
<circle cx="1194" cy="1696.8" r="4.6" fill="#fff" stroke="#000" stroke-width="2.2"/>
<circle cx="1229.1" cy="1567.7" r="4.6" fill="#fff" stroke="#000" stroke-width="2.2"/>
<circle cx="1244.8" cy="1574.5" r="4.6" fill="#fff" stroke="#000" stroke-width="2.2"/>
<circle cx="1260.4" cy="1572.4" r="4.6" fill="#fff" stroke="#000" stroke-width="2.2"/>
<circle cx="1244.8" cy="1623.6" r="4.6" fill="#fff" stroke="#000" stroke-width="2.2"/>
<circle cx="1305.4" cy="1595.6" r="4.6" fill="#fff" stroke="#000" stroke-width="2.2"/>
<circle cx="1305.4" cy="1612" r="4.6" fill="#fff" stroke="#000" stroke-width="2.2"/>
<circle cx="1305.4" cy="1649.1" r="4.6" fill="#fff" stroke="#000" stroke-width="2.2"/>
<circle cx="1305.4" cy="1667.1" r="4.6" fill="#fff" stroke="#000" stroke-width="2.2"/>
<circle cx="1305.4" cy="1683.2" r="4.6" fill="#fff" stroke="#000" stroke-width="2.2"/>
<circle cx="1305.4" cy="1716.2" r="4.6" fill="#fff" stroke="#000" stroke-width="2.2"/>
<circle cx="1305.6" cy="1746.4" r="4.6" fill="#fff" stroke="#000" stroke-width="2.2"/>
<circle cx="1356.1" cy="1609.9" r="4.6" fill="#fff" stroke="#000" stroke-width="2.2"/>
<circle cx="1366" cy="1620.1" r="4.6" fill="#fff" stroke="#000" stroke-width="2.2"/>
<circle cx="1346" cy="1626.3" r="4.6" fill="#fff" stroke="#000" stroke-width="2.2"/>
<circle cx="1366" cy="1637.2" r="4.6" fill="#fff" stroke="#000" stroke-width="2.2"/>
<circle cx="1346" cy="1642" r="4.6" fill="#fff" stroke="#000" stroke-width="2.2"/>
<circle cx="1366" cy="1679.4" r="4.6" fill="#fff" stroke="#000" stroke-width="2.2"/>
<circle cx="1346" cy="1684.9" r="4.6" fill="#fff" stroke="#000" stroke-width="2.2"/>
<circle cx="1356.1" cy="1711.5" r="4.6" fill="#fff" stroke="#000" stroke-width="2.2"/>
<circle cx="1355.3" cy="1723.3" r="4.6" fill="#fff" stroke="#000" stroke-width="2.2"/>
<text x="1194.4" y="1815.5" font-size="30" text-anchor="middle" fill="#fff">10</text>
<text x="1244.8" y="1815.5" font-size="30" text-anchor="middle" fill="#fff">4</text>
<text x="1305.4" y="1815.5" font-size="30" text-anchor="middle">7</text>
<text x="1356.1" y="1815.5" font-size="30" text-anchor="middle" fill="#fff">9</text>
<text x="1135" y="1867.7" font-size="29" text-anchor="end">IL-1 β</text>
<text x="1193.1" y="1856" font-size="28" text-anchor="middle">-</text>
<text x="1246" y="1856" font-size="28" text-anchor="middle">+</text>
<text x="1306.3" y="1856" font-size="28" text-anchor="middle">-</text>
<text x="1359.9" y="1856" font-size="28" text-anchor="middle">+</text>
<line x1="1149.1" y1="1873.9" x2="1266.5" y2="1873.9" stroke="#000" stroke-width="2.8"/>
<line x1="1276" y1="1873.9" x2="1393.6" y2="1873.9" stroke="#000" stroke-width="2.8"/>
<text x="1207.7" y="1903" font-size="29" text-anchor="middle">scramble</text>
<text x="1333.4" y="1903" font-size="29" text-anchor="middle">shIl1r1</text>
<defs><clipPath id="cdt"><rect x="46.3" y="1268.7" width="464.2" height="310.7"/></clipPath><clipPath id="cdb"><rect x="46.9" y="1587.8" width="465" height="314.2"/></clipPath></defs>
<text x="1.8" y="1276.2" font-size="60" font-weight="bold" transform="translate(1.8 0) scale(0.95 1) translate(-1.8 0)">d</text>
<text x="278.4" y="1263" font-size="29.7" text-anchor="middle">53BP1</text>
<defs><filter id="grainD" x="0" y="0" width="100%" height="100%"><feTurbulence type="fractalNoise" baseFrequency="0.75" numOctaves="2" seed="5"/><feColorMatrix type="matrix" values="2 0 0 0 -0.55  2 0 0 0 -0.55  2 0 0 0 -0.55  0 0 0 0 1"/></filter><filter id="bl3"><feGaussianBlur stdDeviation="3"/></filter><filter id="bl2"><feGaussianBlur stdDeviation="2"/></filter><filter id="bl6"><feGaussianBlur stdDeviation="6"/></filter><mask id="mbt"><g filter="url(#bl2)"><path d="M485.3 1383.4 C481.4 1380.1 471 1368.6 461.9 1363.1 C452.8 1357.7 441 1354.8 430.6 1350.6 C420.2 1346.5 409.8 1341.8 399.4 1338.1 C389 1334.5 378.5 1331.9 368.1 1328.8 C357.7 1325.6 347.3 1322.2 336.9 1319.4 C326.5 1316.5 315.5 1313.2 305.6 1311.6 C295.7 1309.9 286.4 1309 277.5 1309.4 C268.6 1309.7 260.8 1311.1 252.5 1313.8 C244.2 1316.4 235.8 1320.9 227.5 1325 C219.2 1329.1 209.8 1333.8 202.5 1338.1 C195.2 1342.5 190 1346.1 183.8 1351.2 C177.5 1356.4 171.2 1362 165 1368.8 C158.8 1375.5 152 1384 146.2 1391.9 C140.5 1399.8 135.8 1408 130.6 1416.2 C125.4 1424.5 119.7 1432.9 115 1441.2 C110.3 1449.6 106.7 1457.9 102.5 1466.2 C98.3 1474.6 93.5 1483.4 90 1491.2 C86.5 1499.1 83.2 1506.4 81.2 1513.1 C79.3 1519.9 77.2 1526 78.1 1531.9 C79.1 1537.7 81.8 1544.1 86.9 1548.1 C92 1552.2 99.9 1555 108.8 1556.2 C117.6 1557.5 129.6 1556.8 140 1555.6 C150.4 1554.4 161.9 1551.7 171.2 1549.1 C180.6 1546.4 189 1543.1 196.2 1539.7 C203.5 1536.3 209.3 1532.7 215 1528.8 C220.7 1524.8 225.9 1520.9 230.6 1516.2 C235.3 1511.6 239 1505.8 243.1 1500.6 C247.3 1495.4 253.5 1487.6 255.6 1485" fill="none" stroke="#fff" stroke-width="8"/><path d="M83.8 1491.2 C82.8 1498 77.6 1522.4 78.1 1531.9 C78.6 1541.4 81.8 1544.1 86.9 1548.1 C92 1552.2 99.9 1555 108.8 1556.2 C117.6 1557.5 129.6 1556.8 140 1555.6 C150.4 1554.4 161.9 1551.7 171.2 1549.1 C180.6 1546.4 189 1543.1 196.2 1539.7 C203.5 1536.3 211.9 1530.6 215 1528.8" fill="none" stroke="#fff" stroke-width="11"/><path d="M213.4 1491.9 C215.8 1489.2 222.6 1481.9 227.5 1475.6 C232.4 1469.4 236.9 1460.5 243.1 1454.4 C249.4 1448.2 257.2 1442.6 265 1438.8 C272.8 1434.9 280.6 1431.9 290 1431.2 C299.4 1430.6 310.8 1433.3 321.2 1435 C331.7 1436.7 342.1 1439.9 352.5 1441.2 C362.9 1442.6 373.3 1443.2 383.8 1442.8 C394.2 1442.4 405.6 1440.2 415 1438.8 C424.4 1437.3 433.3 1434.5 440 1434.4 C446.7 1434.3 452.3 1435.4 455 1438.1 C457.7 1440.8 457.8 1446.7 456.2 1450.6 C454.7 1454.5 449.9 1458.4 445.6 1461.6 C441.4 1464.7 438.3 1467 430.6 1469.4 C422.9 1471.7 409.8 1474.1 399.4 1475.6 C389 1477.2 378.5 1478.1 368.1 1478.8 C357.7 1479.4 346.8 1478.5 336.9 1479.4 C327 1480.2 317.1 1481.1 308.8 1483.8 C300.4 1486.4 292.5 1490.6 286.9 1495 C281.2 1499.4 277.5 1505.2 275 1510 C272.5 1514.8 272.4 1521.7 271.9 1524.1" fill="none" stroke="#fff" stroke-width="12"/></g></mask><mask id="mht"><g filter="url(#bl6)"><path d="M46.2 1269.4 C77.5 1226.1 205.6 1264.7 233.8 1269.4 C261.9 1274.1 224.4 1288.1 215 1297.5 C205.6 1306.9 189.5 1314.7 177.5 1325.6 C165.5 1336.6 153.5 1349.1 143.1 1363.1 C132.7 1377.2 123.3 1393.9 115 1410 C106.7 1426.1 99.9 1443.3 93.1 1460 C86.4 1476.7 82.2 1498.5 74.4 1510 C66.6 1521.5 50.9 1568.9 46.2 1528.8 C41.6 1488.6 15 1312.6 46.2 1269.4Z" fill="#fff"/><path d="M208.8 1581.9 C163.4 1575.1 228.5 1550.1 240 1541.2 C251.5 1532.4 261.4 1531.9 277.5 1528.8 C293.6 1525.6 316.6 1525.1 336.9 1522.5 C357.2 1519.9 381.1 1517.3 399.4 1513.1 C417.6 1509 433.8 1505.3 446.2 1497.5 C458.8 1489.7 468.1 1476.7 474.4 1466.2 C480.6 1455.8 477.5 1440.2 483.8 1435 C490 1429.8 507.2 1410.5 511.9 1435 C516.6 1459.5 562.4 1557.4 511.9 1581.9 C461.4 1606.4 254.1 1588.6 208.8 1581.9Z" fill="#bbb"/><path d="M465 1453.8 C469.7 1443.3 475.9 1438.1 483.8 1435 C491.6 1431.9 507.2 1412.1 511.9 1435 C516.6 1457.9 517.6 1554.8 511.9 1572.5 C506.1 1590.2 486.9 1553.8 477.5 1541.2 C468.1 1528.8 457.7 1512.1 455.6 1497.5 C453.5 1482.9 460.3 1464.2 465 1453.8Z" fill="#fff"/><path d="M227.5 1478.8 C232.2 1470.4 244.2 1459 252.5 1453.8 C260.8 1448.5 266 1448 277.5 1447.5 C289 1447 303.5 1449.8 321.2 1450.6 C339 1451.4 365.5 1452.7 383.8 1452.2 C402 1451.7 422.3 1446.2 430.6 1447.5 C439 1448.8 441.6 1456.6 433.8 1460 C425.9 1463.4 402.5 1465.7 383.8 1467.8 C365 1469.9 337.4 1469.6 321.2 1472.5 C305.1 1475.4 295.7 1478.8 286.9 1485 C278 1491.2 272.8 1502.7 268.1 1510 C263.4 1517.3 263.4 1525.6 258.8 1528.8 C254.1 1531.9 245.7 1532.9 240 1528.8 C234.3 1524.6 226.5 1512.1 224.4 1503.8 C222.3 1495.4 222.8 1487.1 227.5 1478.8Z" fill="#999"/></g></mask><mask id="mhb"><g filter="url(#bl6)"><path d="M43.1 1771.2 C50.4 1749.3 71.8 1771.7 86.9 1773.1 C102 1774.6 119.7 1776.2 133.8 1780 C147.8 1783.8 160.8 1790.4 171.2 1795.6 C181.7 1800.8 188.7 1805.5 196.2 1811.2 C203.8 1817 210.1 1822.7 216.6 1830 C223.1 1837.3 228.8 1846.7 235.3 1855 C241.8 1863.3 249.6 1871.7 255.6 1880 C261.6 1888.3 306.7 1900.8 271.2 1905 C235.8 1909.2 81.1 1927.3 43.1 1905 C5.1 1882.7 35.8 1793.2 43.1 1771.2Z" fill="#fff"/><path d="M240 1755 C250.4 1749.8 267.1 1751.9 277.5 1755 C287.9 1758.1 297.3 1765.4 302.5 1773.8 C307.7 1782.1 305.6 1794.6 308.8 1805 C311.9 1815.4 316 1826.9 321.2 1836.2 C326.5 1845.6 341 1856 340 1861.2 C339 1866.5 323.9 1870.1 315 1867.5 C306.1 1864.9 295.2 1853.4 286.9 1845.6 C278.5 1837.8 272.8 1828.4 265 1820.6 C257.2 1812.8 248.3 1804.5 240 1798.8 C231.7 1793 215 1793.5 215 1786.2 C215 1779 229.6 1760.2 240 1755Z" fill="#aaa"/><path d="M399.4 1586.2 C413.4 1576.9 495.7 1561.2 515 1586.2 C534.3 1611.2 521.2 1715.4 515 1736.2 C508.8 1757.1 491.6 1726.9 477.5 1711.2 C463.4 1695.6 443.6 1663.3 430.6 1642.5 C417.6 1621.7 385.3 1595.6 399.4 1586.2Z" fill="#888"/></g></mask><mask id="mbb"><g filter="url(#bl2)"><path d="M510.3 1846.2 C506.9 1847.1 496.5 1849.9 490 1851.2 C483.5 1852.6 475.4 1856.9 471.2 1854.4 C467.1 1851.9 467.6 1844.5 465 1836.2 C462.4 1828 459.3 1815.4 455.6 1805 C452 1794.6 447.3 1784.2 443.1 1773.8 C439 1763.3 434.8 1752.9 430.6 1742.5 C426.5 1732.1 422.3 1721.1 418.1 1711.2 C414 1701.4 410.3 1692 405.6 1683.1 C400.9 1674.3 396.2 1666.4 390 1658.1 C383.8 1649.9 376.5 1641 368.1 1633.8 C359.8 1626.5 349.9 1619.7 340 1614.4 C330.1 1609.1 319.2 1605 308.8 1601.9 C298.3 1598.8 287.9 1596.9 277.5 1595.6 C267.1 1594.3 256.7 1593.5 246.2 1594.1 C235.8 1594.6 224.4 1595.9 215 1598.8 C205.6 1601.6 198.3 1606.6 190 1611.2 C181.7 1615.9 172.3 1621 165 1626.9 C157.7 1632.7 151.4 1639 146.2 1646.2 C141.1 1653.5 137.1 1661.9 134.4 1670.6 C131.7 1679.4 130 1689.9 130 1698.8 C130 1707.6 131.6 1716.4 134.4 1723.8 C137.2 1731.1 141.8 1737.4 146.9 1743.1 C152 1748.9 157.8 1753.5 165 1758.1 C172.2 1762.7 181.1 1766.9 190 1770.6 C198.9 1774.4 208.8 1777.4 218.1 1780.6 C227.5 1783.9 236.9 1786.9 246.2 1790 C255.6 1793.1 267.1 1796.2 274.4 1799.4 C281.7 1802.5 287.4 1807.2 290 1808.8" fill="none" stroke="#fff" stroke-width="8"/><path d="M227.5 1596.2 C221.2 1598.8 200.4 1606.1 190 1611.2 C179.6 1616.4 172.3 1621 165 1626.9 C157.7 1632.7 151.4 1639 146.2 1646.2 C141.1 1653.5 137.1 1661.9 134.4 1670.6 C131.7 1679.4 130 1689.9 130 1698.8 C130 1707.6 131.6 1716.4 134.4 1723.8 C137.2 1731.1 141.8 1737.4 146.9 1743.1 C152 1748.9 157.8 1753.5 165 1758.1 C172.2 1762.7 181.1 1766.9 190 1770.6 C198.9 1774.4 208.8 1777.4 218.1 1780.6 C227.5 1783.9 241.6 1788.4 246.2 1790" fill="none" stroke="#fff" stroke-width="18"/><path d="M241.6 1745 C245.5 1744.1 256.9 1740.1 265 1739.4 C273.1 1738.7 283.2 1738.8 290 1740.9 C296.8 1743.1 301.9 1746.9 305.6 1752.5 C309.4 1758.1 310.3 1766.6 312.5 1774.4 C314.7 1782.2 315.7 1791 318.8 1799.4 C321.8 1807.7 325.5 1816.1 330.6 1824.4 C335.7 1832.6 342.6 1842.1 349.4 1848.8 C356.1 1855.4 364.1 1860.5 371.2 1864.4 C378.4 1868.3 387.4 1870 392.5 1872.2 C397.6 1874.4 403.3 1874.9 401.9 1877.5 C400.4 1880.1 392 1885.6 383.8 1887.8 C375.5 1890.1 362.9 1892.1 352.5 1890.9 C342.1 1889.7 330.6 1885.5 321.2 1880.6 C311.9 1875.8 304.1 1869.2 296.2 1861.9 C288.4 1854.6 281.7 1844.2 274.4 1836.9 C267.1 1829.6 260.3 1823 252.5 1818.1 C244.7 1813.2 235.8 1809.9 227.5 1807.5 C219.2 1805.1 209.3 1803.9 202.5 1803.8 C195.7 1803.6 189.5 1806.1 186.9 1806.6" fill="none" stroke="#fff" stroke-width="14"/></g></mask></defs>
<rect x="46.3" y="1268.7" width="464.2" height="310.7" fill="#151515"/>
<path d="M477.5 1266.2 C481.4 1263.6 508.8 1237.9 515 1266.2 C521.2 1294.6 520.2 1408.7 515 1436.6 C509.8 1464.4 490.3 1436.8 483.8 1433.4 C477.2 1430.1 476.5 1423.3 475.9 1416.2 C475.4 1409.2 478 1399.1 480.6 1391.2 C483.2 1383.4 489.5 1377.7 491.6 1369.4 C493.6 1361 494.4 1351.1 493.1 1341.2 C491.8 1331.4 484 1319.9 483.8 1310 C483.5 1300.1 492.6 1289.2 491.6 1281.9 C490.5 1274.6 473.6 1268.9 477.5 1266.2Z" fill="#000" clip-path="url(#cdt)"/>
<rect x="46.3" y="1268.7" width="464.2" height="310.7" filter="url(#grainD)" mask="url(#mht)" opacity="0.16"/>
<rect x="46.3" y="1268.7" width="464.2" height="310.7" filter="url(#grainD)" mask="url(#mbt)" opacity="0.5"/>
<g clip-path="url(#cdt)"><path d="M490.6 1373.3h0M83.3 1341.0h0M125.7 1495.2h0M414.0 1399.9h0M170.2 1467.8h0M453.9 1562.9h0M249.7 1429.5h0M304.3 1491.9h0M119.4 1567.2h0M354.2 1560.4h0M415.5 1339.4h0M493.1 1351.2h0M233.1 1360.6h0M186.0 1438.9h0M394.9 1508.0h0M58.9 1468.4h0M80.7 1464.3h0M127.0 1292.0h0M83.8 1457.7h0M49.9 1500.8h0M72.0 1307.3h0M86.6 1476.6h0M149.7 1269.8h0M53.6 1332.7h0M72.3 1271.6h0M90.6 1432.8h0M171.5 1309.9h0M85.6 1310.3h0M71.2 1380.3h0M77.6 1350.2h0M60.0 1481.0h0M93.2 1362.5h0M139.0 1276.7h0M130.4 1299.0h0M75.5 1383.5h0M76.0 1337.6h0M83.5 1320.6h0M51.9 1299.1h0M117.5 1342.6h0M112.4 1339.1h0M65.2 1370.6h0M108.8 1299.6h0M63.5 1318.2h0M112.1 1305.0h0M81.8 1282.7h0M486.1 1524.6h0M391.1 1551.2h0M489.7 1537.7h0M504.5 1522.4h0M336.2 1538.5h0M490.8 1521.2h0M301.0 1540.5h0M489.2 1447.9h0M392.3 1515.5h0M242.7 1562.4h0M391.6 1548.6h0M379.3 1551.7h0M456.8 1524.3h0M435.0 1539.2h0M288.4 1572.5h0M498.4 1487.0h0M444.1 1553.7h0M374.8 1554.7h0M467.9 1519.9h0M440.3 1569.2h0M242.5 1569.1h0M380.4 1521.2h0M344.3 1540.8h0M464.0 1541.0h0M478.1 1499.5h0M507.3 1496.0h0M444.9 1577.1h0M249.4 1570.7h0M338.5 1538.8h0M446.7 1518.4h0M447.1 1532.9h0M260.9 1567.7h0M279.8 1534.8h0M460.5 1490.0h0M499.4 1475.0h0M504.8 1544.1h0M466.6 1508.7h0M491.6 1551.9h0M507.3 1449.2h0M467.6 1479.4h0M487.1 1442.3h0M487.0 1468.5h0M505.0 1473.9h0M463.9 1468.3h0M479.0 1485.8h0M480.5 1440.6h0M491.2 1450.0h0M501.5 1478.3h0M492.9 1547.2h0M500.8 1537.7h0M489.0 1521.7h0M497.1 1508.1h0M458.6 1501.1h0M505.1 1518.6h0M504.7 1500.8h0M464.9 1511.0h0M507.1 1567.1h0M476.8 1530.7h0M468.3 1463.8h0M494.9 1482.2h0M468.8 1485.8h0M346.8 1467.8h0M239.9 1483.9h0M258.8 1454.7h0M307.5 1466.0h0M231.3 1506.7h0M276.2 1492.6h0M299.9 1469.5h0M302.5 1454.3h0M279.7 1484.8h0M279.7 1465.7h0M478.6 1380.7h0M380.5 1333.6h0M299.3 1310.8h0M248.2 1313.3h0M222.8 1324.6h0M217.4 1327.8h0M216.4 1328.0h0M158.1 1377.3h0M136.3 1413.6h0M131.0 1412.8h0M125.0 1419.9h0M124.6 1434.2h0M119.6 1432.2h0M111.2 1442.8h0M109.6 1459.4h0M104.0 1461.2h0M100.1 1463.9h0M80.0 1517.3h0M74.7 1516.9h0M75.1 1518.2h0M108.2 1559.8h0M134.0 1558.7h0M151.7 1549.9h0M175.7 1548.4h0M193.6 1543.1h0M195.2 1534.7h0M222.3 1528.3h0M218.7 1521.7h0M227.6 1511.9h0M239.0 1515.4h0" stroke="#878787" stroke-width="1.6" stroke-linecap="round" fill="none"/><path d="M88.5 1283.3h0M46.6 1369.4h0M242.9 1354.7h0M244.8 1271.7h0M234.9 1461.5h0M415.8 1321.4h0M163.4 1294.1h0M55.8 1316.0h0M96.6 1341.3h0M85.7 1285.0h0M116.3 1287.9h0M151.5 1311.4h0M208.6 1277.0h0M66.6 1330.7h0M102.6 1331.1h0M55.1 1366.2h0M50.6 1445.2h0M82.6 1444.0h0M67.3 1375.7h0M49.4 1440.1h0M58.5 1378.7h0M110.3 1387.9h0M66.1 1411.9h0M93.3 1332.6h0M88.6 1437.8h0M151.3 1352.1h0M184.9 1302.3h0M67.6 1319.7h0M117.6 1368.9h0M110.8 1320.2h0M72.3 1348.9h0M59.0 1304.8h0M133.5 1274.7h0M110.1 1328.7h0M46.4 1314.3h0M108.6 1291.0h0M135.9 1276.1h0M49.2 1324.4h0M48.4 1341.9h0M105.0 1349.6h0M118.0 1337.4h0M103.7 1303.0h0M90.3 1373.4h0M52.7 1303.5h0M344.1 1549.1h0M437.6 1551.6h0M324.3 1574.1h0M506.1 1532.9h0M316.7 1575.6h0M361.2 1575.8h0M494.6 1547.6h0M469.7 1472.0h0M261.3 1543.7h0M497.4 1447.9h0M341.7 1572.4h0M435.7 1503.2h0M381.6 1518.0h0M409.9 1576.0h0M246.6 1578.1h0M498.9 1507.0h0M417.0 1531.6h0M489.2 1447.5h0M478.4 1450.4h0M502.7 1552.9h0M461.9 1502.4h0M500.2 1440.6h0M485.1 1522.5h0M483.8 1480.6h0M470.6 1524.8h0M492.4 1480.2h0M469.2 1469.3h0M495.5 1483.8h0M468.2 1498.6h0M479.7 1535.2h0M478.5 1488.9h0M478.7 1450.0h0M496.0 1454.1h0M483.9 1545.6h0M494.0 1490.4h0M496.3 1554.1h0M472.3 1461.3h0M252.4 1476.9h0M246.2 1500.2h0M351.6 1468.1h0M262.3 1482.9h0M288.5 1453.4h0M229.7 1479.0h0M417.8 1460.0h0M254.7 1467.5h0M227.1 1489.0h0M248.7 1475.1h0M460.6 1365.2h0M434.0 1350.5h0M402.2 1339.3h0M379.2 1330.6h0M345.3 1319.4h0M336.1 1322.2h0M324.8 1316.8h0M266.0 1308.7h0M252.6 1310.3h0M242.9 1314.1h0M222.9 1327.1h0M214.9 1334.2h0M211.7 1336.9h0M202.4 1340.1h0M199.3 1337.3h0M117.4 1428.5h0M108.6 1455.5h0M98.0 1486.4h0M88.4 1502.3h0M81.7 1506.1h0M80.3 1509.9h0M111.1 1551.0h0M111.9 1551.3h0M130.3 1551.1h0M163.0 1548.5h0M166.8 1547.4h0M178.9 1541.2h0M189.9 1541.8h0M195.1 1544.0h0M197.7 1535.1h0M199.0 1532.9h0M208.3 1532.9h0M223.1 1515.2h0M235.3 1516.4h0M242.5 1503.9h0M244.3 1496.0h0" stroke="#878787" stroke-width="2.2" stroke-linecap="round" fill="none"/><path d="M343.1 1276.5h0M420.4 1485.6h0M373.4 1282.9h0M341.4 1382.1h0M437.6 1509.8h0M470.8 1411.3h0M454.2 1527.1h0M203.2 1451.5h0M91.3 1402.6h0M134.6 1408.1h0M271.7 1335.1h0M322.5 1478.5h0M141.1 1491.2h0M455.2 1541.9h0M149.6 1522.4h0M390.7 1477.1h0M380.4 1362.0h0M358.6 1338.5h0M82.3 1357.5h0M148.7 1336.9h0M69.6 1386.5h0M163.0 1306.2h0M177.7 1299.9h0M64.8 1402.9h0M112.7 1412.0h0M113.5 1309.1h0M53.2 1514.1h0M49.9 1362.4h0M78.0 1406.1h0M72.4 1426.3h0M120.0 1384.5h0M97.9 1358.2h0M53.9 1428.8h0M80.2 1287.3h0M109.9 1372.2h0M98.6 1319.2h0M68.9 1498.8h0M95.8 1270.3h0M75.7 1403.8h0M112.1 1365.6h0M123.3 1312.0h0M192.3 1312.1h0M49.3 1396.1h0M162.1 1289.8h0M117.6 1380.8h0M63.8 1330.7h0M99.2 1301.7h0M215.0 1285.6h0M149.0 1335.0h0M121.4 1335.3h0M125.0 1279.9h0M79.4 1319.0h0M153.6 1270.9h0M78.3 1316.9h0M123.7 1324.7h0M118.1 1280.4h0M69.2 1359.2h0M59.8 1323.3h0M100.9 1315.1h0M95.5 1285.4h0M128.3 1280.9h0M62.4 1367.2h0M73.8 1305.6h0M52.8 1336.1h0M91.5 1375.9h0M90.5 1287.0h0M71.0 1314.9h0M65.1 1374.9h0M218.7 1576.6h0M323.8 1529.5h0M423.6 1525.8h0M398.6 1543.3h0M434.0 1535.5h0M493.4 1460.1h0M324.6 1572.2h0M378.9 1547.4h0M242.0 1576.1h0M500.1 1470.0h0M432.2 1558.2h0M495.5 1473.3h0M393.9 1557.7h0M443.7 1519.9h0M496.4 1463.5h0M490.7 1455.8h0M508.3 1485.2h0M284.8 1564.6h0M314.5 1566.8h0M448.7 1523.2h0M318.5 1533.4h0M459.8 1509.2h0M303.0 1563.5h0M390.6 1556.6h0M384.1 1560.7h0M365.2 1544.4h0M444.8 1505.0h0M346.3 1566.7h0M240.0 1577.5h0M421.1 1540.5h0M360.0 1533.5h0M460.6 1503.5h0M422.3 1546.2h0M264.9 1553.7h0M302.3 1562.8h0M374.2 1531.2h0M484.1 1477.9h0M509.5 1560.6h0M401.8 1517.7h0M363.0 1527.9h0M476.8 1501.5h0M481.3 1555.0h0M265.4 1534.7h0M367.8 1523.5h0M497.5 1546.4h0M500.7 1551.6h0M510.1 1542.7h0M505.7 1465.1h0M489.7 1439.4h0M484.2 1518.4h0M485.7 1443.6h0M470.6 1457.8h0M506.4 1504.0h0M492.8 1450.7h0M481.3 1482.1h0M470.1 1484.7h0M483.5 1446.1h0M498.5 1487.5h0M498.3 1466.2h0M497.7 1476.4h0M475.3 1515.7h0M481.3 1484.9h0M507.5 1551.0h0M481.2 1473.7h0M499.6 1530.2h0M496.5 1473.7h0M484.6 1534.3h0M485.3 1515.1h0M481.2 1460.5h0M495.9 1496.1h0M481.1 1532.1h0M491.7 1481.6h0M492.7 1509.2h0M474.9 1458.2h0M497.9 1499.5h0M501.5 1454.7h0M468.7 1490.0h0M466.6 1486.3h0M465.6 1513.8h0M499.2 1472.2h0M470.8 1487.4h0M458.1 1500.1h0M495.0 1552.5h0M476.9 1505.3h0M490.8 1488.2h0M480.6 1509.7h0M485.7 1484.3h0M499.7 1504.5h0M489.1 1491.7h0M301.9 1466.8h0M262.1 1510.9h0M337.7 1457.5h0M350.9 1465.2h0M240.9 1484.6h0M235.6 1488.0h0M238.4 1470.3h0M307.7 1464.9h0M425.7 1457.5h0M335.5 1471.0h0M422.9 1453.2h0M262.1 1500.1h0M413.2 1454.7h0M393.5 1458.6h0M267.2 1465.6h0M323.9 1462.1h0M399.8 1454.9h0M409.5 1458.2h0M252.8 1475.8h0M471.1 1371.3h0M458.7 1364.8h0M404.9 1343.3h0M335.2 1317.9h0M327.4 1315.1h0M323.3 1318.4h0M267.4 1311.5h0M240.3 1318.3h0M239.7 1321.7h0M237.4 1321.6h0M207.4 1333.1h0M191.7 1341.1h0M153.7 1380.5h0M131.9 1408.5h0M133.6 1410.8h0M124.6 1416.0h0M130.0 1428.0h0M115.6 1452.1h0M96.7 1465.7h0M97.1 1467.0h0M98.7 1484.4h0M96.5 1491.1h0M89.8 1489.0h0M84.2 1538.1h0M86.1 1550.5h0M87.6 1550.0h0M103.7 1552.9h0M114.9 1561.2h0M117.3 1552.5h0M118.2 1555.0h0M138.5 1561.4h0M149.1 1559.8h0M165.3 1553.6h0M169.6 1550.2h0M172.9 1546.8h0M174.3 1547.5h0M178.0 1552.1h0M178.7 1543.8h0M205.8 1534.7h0M210.8 1535.1h0M213.3 1528.0h0M213.7 1526.9h0M224.6 1522.9h0M225.5 1519.3h0M224.5 1515.3h0M231.8 1517.5h0M245.5 1507.4h0M251.9 1493.2h0" stroke="#a3a3a3" stroke-width="1.6" stroke-linecap="round" fill="none"/><path d="M242.2 1278.0h0M295.2 1571.0h0M192.7 1351.9h0M266.9 1439.5h0M79.3 1464.8h0M445.3 1290.7h0M162.3 1555.6h0M222.2 1574.8h0M358.1 1361.9h0M80.3 1334.9h0M96.0 1440.6h0M115.0 1308.3h0M57.8 1497.6h0M225.1 1447.8h0M354.6 1371.3h0M251.6 1335.1h0M238.7 1464.4h0M162.0 1532.3h0M266.6 1349.2h0M297.0 1311.7h0M374.2 1288.7h0M239.3 1333.0h0M222.9 1270.5h0M96.5 1276.7h0M65.0 1503.7h0M52.8 1435.4h0M199.3 1306.7h0M99.8 1275.2h0M83.5 1474.0h0M81.1 1466.8h0M58.5 1440.8h0M91.2 1358.9h0M110.4 1333.1h0M101.2 1364.0h0M72.5 1425.3h0M149.0 1314.0h0M117.0 1371.2h0M50.5 1425.8h0M91.0 1315.0h0M82.0 1319.2h0M82.0 1346.9h0M57.7 1301.2h0M73.9 1377.7h0M123.1 1391.8h0M86.3 1403.7h0M172.2 1292.9h0M172.5 1291.9h0M88.6 1345.8h0M176.2 1311.3h0M129.8 1367.8h0M88.2 1341.0h0M103.8 1278.2h0M202.1 1296.4h0M110.1 1330.9h0M127.4 1281.0h0M50.4 1476.5h0M48.5 1345.2h0M78.2 1296.7h0M95.7 1291.2h0M132.6 1300.5h0M50.2 1389.5h0M53.3 1352.5h0M51.5 1331.2h0M105.5 1360.1h0M126.3 1284.2h0M102.4 1312.6h0M109.9 1326.5h0M58.8 1269.5h0M85.8 1313.2h0M55.5 1370.0h0M76.2 1331.9h0M99.0 1328.3h0M392.8 1562.0h0M461.4 1544.9h0M254.8 1537.9h0M493.5 1478.5h0M247.1 1577.9h0M491.8 1503.1h0M502.1 1455.0h0M457.3 1492.0h0M311.5 1559.4h0M464.1 1496.5h0M229.0 1562.5h0M497.7 1484.2h0M319.0 1575.8h0M467.2 1475.3h0M325.7 1538.7h0M498.7 1488.5h0M452.2 1567.6h0M447.4 1577.6h0M506.0 1557.4h0M302.4 1536.5h0M383.0 1576.2h0M348.7 1557.7h0M438.5 1564.5h0M491.5 1577.2h0M353.3 1572.1h0M453.0 1500.2h0M390.3 1571.1h0M305.7 1566.2h0M467.4 1567.8h0M436.5 1555.6h0M482.9 1555.3h0M483.3 1511.1h0M361.2 1535.1h0M387.3 1576.0h0M250.0 1543.8h0M295.0 1535.8h0M387.9 1515.0h0M338.2 1557.0h0M298.9 1574.2h0M286.0 1560.9h0M422.7 1516.1h0M284.9 1534.1h0M492.0 1505.4h0M392.3 1578.2h0M457.8 1510.2h0M285.0 1564.3h0M233.9 1569.7h0M485.3 1528.6h0M503.8 1465.4h0M504.5 1525.5h0M471.1 1499.9h0M475.6 1469.2h0M506.3 1450.0h0M491.1 1451.5h0M467.5 1492.6h0M505.5 1442.9h0M508.7 1494.2h0M494.0 1516.2h0M470.7 1467.5h0M484.4 1517.0h0M476.7 1446.1h0M476.3 1486.8h0M493.5 1516.7h0M482.6 1447.6h0M466.8 1516.5h0M479.2 1454.6h0M485.1 1501.2h0M491.8 1466.9h0M475.5 1450.5h0M486.4 1525.7h0M470.3 1502.9h0M490.3 1461.8h0M469.9 1499.4h0M499.5 1447.2h0M505.7 1523.3h0M469.1 1503.3h0M506.6 1465.3h0M503.7 1553.7h0M487.4 1515.2h0M507.8 1485.3h0M499.5 1556.5h0M487.2 1468.6h0M294.6 1468.9h0M234.8 1489.6h0M259.9 1523.3h0M372.7 1466.4h0M412.1 1456.5h0M337.9 1463.9h0M347.1 1466.3h0M246.5 1500.5h0M360.4 1465.0h0M237.5 1484.1h0M300.0 1471.1h0M260.5 1509.6h0M377.4 1464.2h0M232.5 1512.4h0M302.8 1463.0h0M289.4 1478.0h0M296.0 1469.3h0M233.9 1501.0h0M290.7 1474.9h0M296.0 1470.0h0M272.3 1501.3h0M456.6 1362.8h0M449.5 1359.3h0M412.3 1344.0h0M410.8 1339.6h0M405.9 1343.7h0M369.2 1332.3h0M367.6 1330.4h0M342.2 1319.4h0M337.9 1319.6h0M333.4 1316.5h0M315.4 1316.6h0M297.5 1308.7h0M284.2 1310.5h0M273.6 1312.9h0M269.4 1311.1h0M268.1 1308.9h0M240.7 1321.5h0M229.3 1321.8h0M223.3 1330.2h0M215.6 1328.9h0M206.9 1334.2h0M196.0 1340.2h0M190.0 1349.1h0M181.4 1353.0h0M166.0 1365.2h0M143.2 1391.0h0M140.0 1407.4h0M136.2 1408.7h0M131.4 1421.6h0M117.8 1437.1h0M103.2 1459.7h0M100.8 1460.8h0M104.2 1464.8h0M94.2 1470.2h0M94.7 1471.7h0M89.9 1484.6h0M91.0 1490.6h0M78.5 1506.0h0M76.8 1509.7h0M79.8 1523.6h0M83.3 1537.5h0M87.3 1540.3h0M82.8 1549.0h0M100.4 1552.8h0M116.1 1556.9h0M119.2 1554.0h0M120.2 1551.8h0M121.2 1558.7h0M155.6 1553.3h0M159.7 1552.4h0M173.6 1553.0h0M182.3 1544.7h0M213.2 1533.3h0M224.5 1524.4h0M240.1 1500.8h0M250.6 1498.1h0M248.5 1486.4h0M254.9 1490.3h0" stroke="#a3a3a3" stroke-width="2.2" stroke-linecap="round" fill="none"/><path d="M453.1 1366.5h0M184.8 1467.2h0M379.4 1332.0h0M245.9 1448.9h0M275.8 1344.5h0M127.9 1566.3h0M401.8 1430.7h0M89.5 1337.6h0M129.6 1273.1h0M142.8 1334.3h0M170.4 1324.8h0M76.9 1298.1h0M162.2 1303.9h0M120.4 1370.4h0M173.2 1306.6h0M70.7 1397.1h0M51.6 1471.8h0M115.9 1370.6h0M84.7 1278.3h0M212.6 1288.4h0M79.2 1387.7h0M84.6 1435.4h0M75.9 1490.0h0M94.1 1447.0h0M120.1 1365.4h0M62.7 1488.7h0M87.2 1459.6h0M106.1 1387.9h0M124.7 1382.6h0M183.4 1280.9h0M88.1 1427.7h0M93.9 1396.8h0M88.5 1456.4h0M108.8 1423.7h0M58.0 1313.9h0M133.1 1322.7h0M131.7 1289.9h0M81.3 1274.5h0M91.7 1310.3h0M51.8 1334.2h0M148.8 1284.4h0M107.7 1294.3h0M106.8 1310.6h0M56.9 1333.6h0M56.3 1345.6h0M107.4 1331.7h0M69.0 1314.8h0M98.1 1323.0h0M94.2 1291.4h0M63.4 1312.7h0M140.2 1308.2h0M67.4 1347.5h0M106.2 1330.7h0M291.3 1554.7h0M503.7 1511.7h0M267.5 1548.8h0M232.4 1554.9h0M323.9 1562.6h0M398.6 1555.0h0M470.2 1493.1h0M348.5 1556.6h0M318.4 1548.6h0M444.2 1549.9h0M390.1 1559.9h0M484.0 1528.8h0M386.4 1520.5h0M361.0 1576.4h0M365.7 1565.3h0M351.4 1523.6h0M322.3 1532.7h0M504.1 1516.8h0M507.0 1452.4h0M430.0 1505.9h0M449.2 1564.7h0M425.4 1523.5h0M430.9 1517.7h0M410.4 1530.6h0M415.5 1547.9h0M506.0 1528.2h0M500.6 1534.7h0M345.8 1546.2h0M501.8 1519.9h0M221.6 1575.9h0M487.2 1454.5h0M500.2 1485.7h0M264.8 1571.2h0M470.9 1471.7h0M336.6 1563.2h0M396.8 1515.6h0M509.2 1465.1h0M410.9 1573.4h0M327.0 1551.4h0M495.5 1464.9h0M407.5 1513.9h0M438.9 1512.0h0M502.8 1534.7h0M509.4 1456.2h0M501.7 1512.4h0M486.1 1494.8h0M500.4 1462.6h0M484.0 1492.1h0M497.8 1486.2h0M479.9 1538.6h0M488.5 1515.6h0M504.8 1558.9h0M501.5 1446.3h0M470.0 1497.6h0M506.9 1479.6h0M461.2 1483.4h0M509.8 1540.0h0M477.3 1470.6h0M478.4 1488.8h0M501.1 1481.5h0M489.0 1470.9h0M493.2 1479.3h0M480.9 1501.1h0M474.8 1467.6h0M476.4 1447.5h0M510.1 1550.8h0M482.7 1503.9h0M492.4 1445.4h0M503.3 1449.2h0M498.2 1518.6h0M494.2 1540.9h0M480.3 1486.0h0M477.9 1456.6h0M504.0 1498.5h0M494.5 1458.4h0M482.1 1535.2h0M282.2 1488.6h0M261.2 1487.5h0M251.3 1520.5h0M268.9 1470.3h0M259.2 1511.3h0M333.5 1451.9h0M260.0 1515.0h0M318.1 1459.6h0M282.2 1461.0h0M311.2 1452.5h0M373.0 1465.5h0M282.0 1489.9h0M326.9 1452.1h0M485.0 1380.2h0M433.4 1355.1h0M415.6 1346.8h0M412.6 1340.7h0M411.7 1339.9h0M377.1 1330.6h0M362.5 1326.1h0M347.6 1326.0h0M303.0 1314.2h0M302.8 1309.0h0M300.3 1311.0h0M281.3 1308.2h0M248.1 1316.0h0M180.0 1354.4h0M174.3 1361.5h0M169.8 1359.8h0M139.7 1398.7h0M123.5 1421.3h0M127.1 1428.5h0M118.0 1447.6h0M110.6 1447.3h0M110.0 1448.1h0M102.6 1462.8h0M87.8 1504.3h0M78.0 1526.2h0M80.0 1533.5h0M81.2 1534.2h0M78.6 1547.5h0M87.8 1551.5h0M88.9 1553.6h0M93.3 1556.7h0M96.3 1555.0h0M124.4 1561.4h0M127.6 1559.2h0M128.5 1556.2h0M136.5 1551.6h0M156.1 1550.7h0M156.9 1549.4h0M162.7 1556.1h0M167.0 1544.3h0M212.6 1536.1h0M217.9 1531.2h0M220.4 1529.2h0M223.4 1518.3h0M240.9 1511.5h0M240.7 1500.0h0M248.1 1503.3h0M241.2 1496.4h0M251.5 1494.4h0" stroke="#bfbfbf" stroke-width="1.6" stroke-linecap="round" fill="none"/><path d="M58.6 1330.5h0M170.2 1559.7h0M505.6 1467.5h0M306.9 1350.3h0M51.6 1492.6h0M242.7 1334.5h0M496.0 1448.7h0M72.8 1450.2h0M459.6 1345.2h0M240.9 1450.0h0M433.3 1487.3h0M342.0 1350.1h0M384.5 1366.2h0M47.1 1556.3h0M356.2 1575.6h0M460.1 1459.1h0M132.2 1335.9h0M123.3 1364.3h0M180.3 1307.3h0M63.5 1424.8h0M69.1 1457.1h0M127.8 1309.8h0M109.3 1409.6h0M127.2 1285.0h0M114.3 1330.0h0M200.7 1282.5h0M207.6 1288.9h0M59.5 1282.8h0M210.1 1284.4h0M108.3 1316.3h0M159.0 1331.9h0M54.3 1521.3h0M84.4 1316.6h0M99.2 1443.9h0M51.2 1349.1h0M127.3 1318.5h0M47.4 1509.2h0M116.6 1396.6h0M86.5 1299.9h0M98.6 1423.9h0M102.0 1317.7h0M139.8 1309.2h0M46.9 1388.6h0M125.3 1385.4h0M156.6 1284.1h0M174.1 1313.4h0M212.8 1277.7h0M105.9 1389.1h0M99.9 1378.1h0M54.1 1477.9h0M103.5 1270.3h0M101.0 1270.9h0M131.7 1275.9h0M119.5 1297.1h0M90.7 1381.1h0M75.7 1376.0h0M89.2 1285.8h0M131.4 1298.1h0M96.5 1346.6h0M91.0 1292.5h0M111.5 1303.5h0M84.5 1317.7h0M100.5 1322.1h0M123.4 1316.1h0M69.9 1271.1h0M107.2 1359.9h0M97.8 1301.6h0M250.6 1558.0h0M346.1 1537.8h0M361.0 1576.9h0M257.0 1560.1h0M484.3 1509.7h0M509.6 1578.9h0M482.3 1451.2h0M324.8 1573.6h0M371.5 1537.6h0M469.1 1500.5h0M328.2 1568.4h0M401.1 1542.7h0M349.8 1539.0h0M361.9 1540.9h0M499.7 1444.2h0M456.8 1519.6h0M504.2 1560.4h0M279.4 1538.3h0M499.3 1577.5h0M393.1 1522.2h0M305.6 1539.9h0M361.6 1533.8h0M356.2 1566.7h0M387.0 1555.8h0M486.4 1549.7h0M502.7 1447.7h0M462.9 1547.8h0M308.2 1547.5h0M469.8 1507.0h0M485.2 1527.7h0M375.6 1550.1h0M370.7 1552.3h0M429.5 1528.1h0M510.0 1455.0h0M391.2 1543.2h0M416.9 1514.2h0M329.5 1577.2h0M255.8 1542.3h0M468.2 1486.3h0M500.8 1500.7h0M500.0 1459.4h0M469.9 1455.0h0M497.7 1513.2h0M503.7 1456.6h0M475.0 1456.7h0M483.8 1440.2h0M490.7 1537.1h0M509.6 1500.1h0M491.7 1447.2h0M478.6 1534.6h0M482.5 1543.6h0M495.2 1476.8h0M459.9 1478.2h0M499.9 1480.7h0M493.7 1445.6h0M468.7 1493.3h0M504.2 1564.0h0M478.6 1453.5h0M506.0 1535.3h0M471.6 1461.6h0M505.1 1476.6h0M470.1 1498.2h0M508.1 1502.5h0M478.8 1514.5h0M509.6 1528.4h0M485.4 1439.7h0M502.9 1446.7h0M478.4 1536.1h0M460.1 1492.4h0M481.2 1465.5h0M500.8 1476.7h0M498.1 1476.1h0M494.4 1492.2h0M419.6 1460.0h0M372.4 1453.2h0M258.4 1519.4h0M281.9 1448.2h0M426.0 1451.4h0M257.0 1484.5h0M402.4 1462.4h0M241.8 1517.1h0M386.2 1457.0h0M363.3 1465.1h0M246.3 1492.4h0M288.8 1461.1h0M322.6 1459.0h0M322.0 1471.0h0M371.3 1462.1h0M261.8 1485.5h0M244.4 1472.5h0M250.2 1459.0h0M480.1 1380.5h0M472.5 1373.1h0M447.9 1354.8h0M408.0 1341.2h0M358.1 1323.1h0M321.4 1313.5h0M291.9 1312.5h0M269.9 1306.6h0M243.4 1317.8h0M231.2 1320.8h0M148.3 1387.0h0M147.9 1388.0h0M141.0 1395.8h0M137.8 1410.9h0M118.3 1425.3h0M110.5 1441.2h0M104.0 1459.0h0M96.8 1478.8h0M85.2 1502.1h0M89.6 1507.1h0M78.1 1520.1h0M82.8 1534.7h0M77.1 1538.7h0M97.6 1548.9h0M100.9 1555.0h0M103.7 1557.6h0M105.1 1556.9h0M190.8 1541.4h0M225.0 1528.5h0M219.6 1519.7h0M235.8 1501.4h0M254.4 1486.5h0" stroke="#bfbfbf" stroke-width="2.2" stroke-linecap="round" fill="none"/><path d="M388.2 1479.0h0M148.6 1451.8h0M256.9 1565.1h0M78.4 1505.0h0M265.7 1512.5h0M384.7 1477.9h0M233.2 1374.1h0M496.1 1556.5h0M349.9 1271.1h0M273.1 1550.0h0M415.9 1536.1h0M418.7 1537.2h0M198.7 1537.3h0M482.3 1304.5h0M160.0 1416.3h0M222.2 1277.6h0M131.9 1284.7h0M203.5 1304.5h0M134.4 1306.7h0M142.5 1335.8h0M96.9 1425.2h0M99.2 1427.1h0M130.0 1335.2h0M63.8 1373.3h0M164.0 1273.7h0M209.5 1281.9h0M190.7 1305.2h0M88.5 1427.3h0M96.0 1363.4h0M75.3 1300.3h0M68.8 1299.6h0M90.7 1310.2h0M56.4 1288.7h0M133.2 1355.7h0M55.6 1511.1h0M186.2 1295.6h0M121.0 1337.3h0M88.6 1313.9h0M58.5 1392.1h0M87.7 1271.2h0M70.8 1375.4h0M107.8 1356.0h0M85.5 1313.8h0M121.5 1291.7h0M101.7 1354.8h0M73.5 1368.0h0M59.4 1282.7h0M103.7 1297.8h0M68.1 1274.3h0M338.7 1539.3h0M370.1 1544.5h0M308.9 1548.4h0M328.5 1538.1h0M290.4 1551.5h0M507.0 1440.5h0M455.9 1516.3h0M399.2 1523.4h0M325.8 1564.4h0M504.4 1505.3h0M477.5 1549.2h0M294.9 1531.9h0M479.5 1468.5h0M364.1 1539.1h0M369.7 1541.9h0M305.5 1566.2h0M442.4 1570.6h0M305.9 1530.2h0M300.3 1569.8h0M472.2 1555.3h0M328.5 1543.2h0M395.9 1544.5h0M257.5 1569.5h0M249.6 1547.4h0M361.0 1535.4h0M448.7 1554.1h0M401.9 1553.4h0M491.9 1436.4h0M247.5 1558.4h0M281.9 1545.2h0M452.4 1501.9h0M494.6 1506.9h0M499.8 1466.9h0M349.4 1543.0h0M390.4 1539.8h0M250.6 1572.3h0M494.4 1499.2h0M483.7 1458.1h0M462.1 1503.2h0M490.1 1521.8h0M485.5 1447.0h0M475.0 1531.7h0M495.0 1521.3h0M496.3 1506.8h0M478.7 1456.0h0M474.2 1463.7h0M506.9 1515.9h0M476.2 1516.7h0M496.8 1557.1h0M490.3 1495.4h0M474.5 1452.5h0M508.7 1441.6h0M505.5 1563.0h0M482.7 1524.1h0M470.1 1501.7h0M492.0 1513.6h0M485.2 1499.2h0M471.7 1447.8h0M494.6 1507.8h0M509.3 1500.7h0M502.1 1454.5h0M490.7 1536.8h0M491.9 1520.0h0M469.3 1459.3h0M485.4 1488.5h0M303.5 1477.9h0M239.3 1495.8h0M252.8 1455.0h0M287.5 1484.4h0M266.1 1481.9h0M256.5 1468.9h0M317.3 1466.8h0M232.1 1509.0h0M289.5 1466.9h0M326.5 1459.8h0M363.9 1466.8h0M322.3 1464.9h0M255.6 1462.0h0M475.7 1377.9h0M475.7 1374.7h0M466.8 1367.5h0M451.4 1360.0h0M425.8 1348.9h0M424.5 1349.3h0M420.3 1348.8h0M381.2 1334.7h0M371.3 1328.9h0M354.7 1327.3h0M355.0 1322.9h0M350.2 1324.7h0M330.3 1316.3h0M318.6 1316.3h0M286.2 1308.5h0M250.3 1313.3h0M243.0 1319.2h0M240.4 1316.1h0M238.3 1321.2h0M214.3 1328.6h0M214.0 1334.7h0M170.6 1363.7h0M161.6 1377.6h0M159.2 1376.9h0M151.6 1382.9h0M150.2 1384.5h0M116.5 1431.5h0M114.4 1433.9h0M120.6 1442.2h0M110.3 1454.0h0M101.5 1466.9h0M96.9 1480.0h0M93.5 1482.9h0M78.4 1544.6h0M87.2 1546.2h0M107.5 1556.4h0M114.0 1560.6h0M133.1 1560.7h0M139.4 1559.8h0M197.7 1537.6h0M229.2 1512.2h0M229.0 1509.5h0M247.2 1496.9h0M247.5 1494.1h0M246.9 1492.2h0" stroke="#dbdbdb" stroke-width="1.6" stroke-linecap="round" fill="none"/><path d="M439.7 1456.3h0M431.3 1460.9h0M231.7 1336.8h0M508.7 1433.1h0M278.7 1324.2h0M400.3 1436.3h0M139.7 1365.6h0M145.7 1309.8h0M301.8 1284.4h0M257.5 1400.1h0M80.0 1411.1h0M465.9 1438.2h0M162.1 1300.6h0M447.6 1572.0h0M411.8 1302.3h0M344.1 1392.9h0M482.8 1479.1h0M340.1 1372.8h0M431.9 1438.9h0M317.4 1484.8h0M78.1 1464.8h0M125.2 1293.2h0M50.7 1518.7h0M149.1 1288.3h0M204.0 1270.6h0M65.9 1274.5h0M112.0 1377.4h0M220.3 1277.5h0M110.2 1357.8h0M83.1 1348.2h0M104.1 1383.0h0M86.3 1364.8h0M189.5 1275.9h0M73.1 1412.4h0M73.6 1279.2h0M86.1 1460.9h0M139.5 1366.3h0M50.6 1484.8h0M111.2 1272.4h0M56.5 1451.0h0M93.4 1417.7h0M133.5 1334.4h0M59.7 1328.6h0M47.6 1477.4h0M76.7 1477.0h0M86.9 1285.6h0M109.6 1390.2h0M101.2 1340.3h0M96.7 1331.6h0M55.5 1306.4h0M104.7 1341.0h0M132.4 1274.5h0M79.0 1363.1h0M98.5 1285.6h0M92.5 1366.7h0M101.3 1367.4h0M95.9 1326.1h0M78.6 1302.5h0M124.8 1284.7h0M66.2 1305.4h0M57.6 1410.0h0M66.0 1302.2h0M502.6 1518.9h0M297.4 1566.4h0M461.9 1487.2h0M483.2 1572.3h0M415.6 1539.9h0M369.7 1528.6h0M274.4 1556.3h0M510.2 1522.5h0M244.9 1558.1h0M367.4 1539.6h0M503.3 1473.5h0M244.9 1561.3h0M285.4 1578.8h0M389.3 1564.1h0M453.4 1533.9h0M497.3 1435.7h0M474.9 1554.5h0M471.6 1474.3h0M475.7 1535.0h0M408.4 1512.9h0M345.1 1534.7h0M465.4 1576.2h0M376.0 1545.6h0M342.8 1568.7h0M502.5 1523.6h0M313.7 1556.8h0M313.4 1533.8h0M393.3 1544.7h0M460.9 1555.4h0M505.3 1502.8h0M452.9 1564.1h0M261.2 1559.6h0M292.6 1543.1h0M497.1 1524.5h0M453.6 1505.8h0M474.5 1544.2h0M405.2 1547.7h0M326.3 1576.2h0M360.5 1538.1h0M259.5 1552.3h0M402.1 1512.9h0M501.8 1471.7h0M308.7 1571.4h0M473.9 1520.6h0M488.4 1515.0h0M463.8 1460.3h0M484.9 1494.1h0M506.5 1468.5h0M467.7 1470.7h0M482.9 1438.4h0M476.1 1472.3h0M489.8 1496.4h0M474.5 1469.2h0M484.2 1477.0h0M478.5 1449.2h0M484.4 1444.7h0M490.7 1462.0h0M483.0 1481.5h0M489.1 1477.5h0M485.7 1517.1h0M475.9 1520.6h0M495.6 1519.1h0M474.0 1522.2h0M481.8 1463.9h0M489.6 1470.3h0M466.0 1510.0h0M483.4 1479.9h0M471.0 1456.1h0M499.7 1510.0h0M504.2 1555.5h0M500.0 1482.5h0M492.7 1465.8h0M490.9 1553.0h0M468.6 1454.5h0M480.8 1519.4h0M467.0 1491.4h0M501.7 1542.0h0M234.5 1484.5h0M239.1 1484.2h0M361.5 1464.8h0M319.0 1459.9h0M268.0 1496.3h0M305.9 1462.7h0M239.8 1490.4h0M331.1 1457.4h0M279.4 1471.6h0M244.5 1483.6h0M429.1 1455.1h0M410.2 1455.5h0M407.7 1460.1h0M379.3 1464.3h0M236.9 1504.9h0M260.7 1524.5h0M481.3 1376.5h0M478.7 1373.2h0M465.1 1366.0h0M459.0 1362.3h0M455.5 1362.7h0M450.4 1359.7h0M436.5 1352.5h0M430.2 1349.0h0M403.9 1337.4h0M389.5 1331.8h0M382.1 1335.2h0M363.7 1325.9h0M360.4 1329.6h0M346.5 1322.6h0M325.8 1317.3h0M221.9 1329.7h0M213.6 1329.5h0M209.9 1331.3h0M195.5 1345.0h0M189.8 1345.5h0M169.2 1363.7h0M141.4 1397.4h0M139.3 1405.8h0M131.5 1416.8h0M125.3 1418.9h0M108.8 1449.9h0M113.6 1456.8h0M112.3 1459.5h0M96.7 1468.0h0M97.1 1469.4h0M95.9 1488.7h0M93.6 1496.5h0M81.9 1496.1h0M88.0 1499.9h0M79.6 1504.3h0M123.4 1562.5h0M131.4 1551.8h0M141.2 1557.4h0M142.3 1550.0h0M149.8 1557.5h0M150.6 1555.6h0M152.1 1557.7h0M152.8 1550.1h0M165.8 1551.6h0M177.5 1543.6h0M180.6 1543.0h0M184.0 1546.3h0M185.2 1540.7h0M193.0 1536.9h0M202.8 1531.5h0M207.4 1535.5h0M228.0 1525.5h0M232.0 1507.2h0M252.8 1491.2h0" stroke="#dbdbdb" stroke-width="2.2" stroke-linecap="round" fill="none"/></g>
<line x1="128" y1="1269" x2="128" y2="1579" stroke="#000" stroke-width="1.2" opacity="0.3"/>
<line x1="202" y1="1269" x2="202" y2="1579" stroke="#000" stroke-width="1.2" opacity="0.3"/>
<line x1="276" y1="1269" x2="276" y2="1579" stroke="#000" stroke-width="1.2" opacity="0.3"/>
<line x1="350" y1="1269" x2="350" y2="1579" stroke="#000" stroke-width="1.2" opacity="0.3"/>
<line x1="424" y1="1269" x2="424" y2="1579" stroke="#000" stroke-width="1.2" opacity="0.3"/>
<line x1="46.3" y1="1345" x2="510.5" y2="1345" stroke="#000" stroke-width="1.2" opacity="0.3"/>
<line x1="46.3" y1="1425" x2="510.5" y2="1425" stroke="#000" stroke-width="1.2" opacity="0.3"/>
<line x1="46.3" y1="1505" x2="510.5" y2="1505" stroke="#000" stroke-width="1.2" opacity="0.3"/>
<text x="56" y="1296" font-size="29" fill="#fff">saline</text>
<rect x="423.4" y="1567.2" width="55.6" height="4.8" fill="#fff"/>
<rect x="46.9" y="1587.8" width="465" height="314.2" fill="#141414"/>
<path d="M43.1 1584.7 C58.2 1567.8 122.8 1581.8 133.8 1584.7 C144.7 1587.6 117.6 1594.3 108.8 1601.9 C99.9 1609.4 89 1620.6 80.6 1630 C72.3 1639.4 65 1648.8 58.8 1658.1 C52.5 1667.5 45.7 1698.5 43.1 1686.2 C40.5 1674 28 1601.6 43.1 1584.7Z" fill="#000" clip-path="url(#cdb)"/>
<rect x="46.9" y="1587.8" width="465" height="314.2" filter="url(#grainD)" mask="url(#mhb)" opacity="0.14"/>
<rect x="46.9" y="1587.8" width="465" height="314.2" filter="url(#grainD)" mask="url(#mbb)" opacity="0.5"/>
<g clip-path="url(#cdb)"><path d="M120.3 1880.1h0M91.4 1828.0h0M351.7 1601.3h0M81.4 1796.7h0M50.5 1744.1h0M324.3 1702.1h0M180.0 1677.7h0M137.3 1672.7h0M182.0 1634.1h0M186.5 1662.5h0M396.8 1789.4h0M402.5 1766.9h0M430.9 1708.4h0M69.0 1844.8h0M173.7 1799.1h0M94.5 1887.7h0M163.2 1890.3h0M172.4 1855.1h0M243.3 1865.0h0M133.3 1801.3h0M154.9 1859.5h0M125.5 1795.6h0M181.9 1859.6h0M242.0 1881.0h0M166.5 1890.4h0M227.7 1858.6h0M197.1 1837.4h0M160.8 1898.7h0M150.6 1860.4h0M118.0 1883.5h0M203.8 1888.0h0M158.4 1884.8h0M166.9 1815.1h0M103.7 1895.9h0M174.7 1824.4h0M55.5 1874.3h0M116.0 1847.3h0M143.2 1848.9h0M133.0 1868.9h0M75.7 1784.1h0M121.0 1832.0h0M226.3 1897.9h0M127.7 1791.7h0M98.6 1894.5h0M232.8 1866.4h0M82.6 1864.9h0M149.1 1850.3h0M117.3 1794.5h0M156.6 1896.8h0M208.3 1840.9h0M273.0 1826.5h0M277.3 1822.9h0M305.5 1796.3h0M294.1 1782.2h0M296.7 1838.0h0M328.6 1847.6h0M316.4 1863.2h0M285.5 1831.7h0M286.8 1810.9h0M321.0 1839.5h0M318.0 1830.4h0M236.8 1786.1h0M307.8 1850.1h0M308.1 1809.8h0M265.1 1788.5h0M316.4 1850.6h0M283.3 1760.7h0M509.3 1602.7h0M452.0 1608.5h0M507.5 1631.2h0M470.0 1614.6h0M214.0 1609.2h0M193.4 1612.0h0M186.2 1613.9h0M182.6 1620.6h0M168.0 1617.8h0M165.9 1623.3h0M142.9 1642.5h0M135.7 1675.1h0M126.1 1677.1h0M131.1 1683.6h0M125.4 1694.6h0M126.1 1708.7h0M134.4 1710.7h0M126.1 1726.8h0M142.1 1734.3h0M162.2 1747.7h0M167.3 1749.0h0M181.7 1760.6h0M208.8 1769.4h0M212.6 1777.5h0M215.4 1782.4h0M220.8 1772.9h0M233.9 1780.6h0M237.1 1781.9h0M464.5 1836.4h0M459.8 1825.0h0M421.5 1718.5h0M398.0 1664.0h0M390.1 1658.1h0M384.4 1653.7h0M368.1 1638.3h0M295.3 1595.0h0M282.5 1596.3h0M175.5 1616.9h0M160.2 1634.2h0M146.0 1640.8h0M142.5 1736.4h0M158.4 1754.4h0M167.3 1760.0h0M290.3 1805.1h0" stroke="#878787" stroke-width="1.6" stroke-linecap="round" fill="none"/><path d="M485.2 1781.4h0M330.5 1841.4h0M50.5 1589.6h0M371.4 1759.5h0M155.6 1592.7h0M302.0 1765.2h0M137.8 1708.2h0M315.5 1875.0h0M256.1 1684.1h0M117.8 1652.4h0M457.1 1897.3h0M304.6 1813.6h0M176.2 1865.4h0M85.7 1770.4h0M98.5 1871.1h0M159.8 1894.3h0M169.4 1832.5h0M101.3 1832.9h0M104.0 1779.7h0M119.7 1845.7h0M162.3 1843.1h0M71.0 1879.0h0M107.7 1788.6h0M60.9 1821.0h0M111.0 1784.5h0M224.8 1884.3h0M208.1 1865.8h0M81.1 1869.3h0M196.3 1822.7h0M94.3 1866.9h0M146.0 1872.3h0M63.4 1896.0h0M129.2 1794.5h0M215.3 1890.5h0M179.6 1805.2h0M101.7 1790.4h0M116.6 1872.6h0M89.0 1798.7h0M218.2 1901.3h0M109.3 1786.2h0M193.1 1830.8h0M193.3 1845.9h0M83.9 1900.7h0M152.9 1813.3h0M80.7 1894.9h0M281.4 1808.5h0M292.9 1832.5h0M241.0 1756.5h0M308.2 1825.7h0M274.4 1777.3h0M299.7 1798.0h0M305.1 1792.8h0M234.4 1765.9h0M315.9 1832.0h0M279.8 1826.6h0M290.7 1773.6h0M264.4 1813.1h0M255.4 1788.1h0M225.4 1781.3h0M309.2 1819.6h0M271.1 1755.2h0M285.8 1810.6h0M310.2 1811.1h0M300.7 1827.9h0M474.6 1625.9h0M468.1 1681.5h0M507.6 1730.3h0M488.9 1689.1h0M473.6 1614.8h0M491.5 1699.5h0M511.4 1611.4h0M507.3 1713.5h0M444.1 1593.0h0M470.8 1646.2h0M494.0 1642.4h0M225.2 1593.3h0M218.8 1606.0h0M200.3 1615.1h0M191.9 1611.1h0M175.8 1615.0h0M174.1 1628.1h0M159.8 1642.3h0M147.8 1638.2h0M153.0 1645.1h0M153.5 1649.1h0M147.2 1649.3h0M138.8 1657.0h0M137.2 1671.5h0M136.0 1678.3h0M131.0 1681.4h0M133.3 1685.0h0M135.4 1693.3h0M129.8 1720.0h0M136.6 1728.4h0M141.9 1733.3h0M153.1 1741.3h0M146.2 1752.5h0M152.7 1758.3h0M157.1 1756.2h0M155.1 1760.8h0M159.8 1757.9h0M167.5 1759.6h0M168.2 1764.3h0M176.0 1763.0h0M179.9 1764.4h0M181.6 1763.4h0M185.9 1766.6h0M193.0 1779.6h0M203.2 1782.7h0M212.6 1771.2h0M211.5 1787.5h0M221.6 1780.5h0M232.7 1780.4h0M236.2 1794.7h0M245.9 1782.8h0M459.2 1828.4h0M410.8 1689.6h0M408.4 1687.4h0M390.7 1662.8h0M387.7 1653.7h0M326.0 1610.6h0M310.9 1601.6h0M265.6 1591.6h0M248.3 1596.6h0M206.6 1600.6h0M146.3 1648.7h0M143.3 1649.1h0M161.0 1758.2h0M175.2 1766.8h0M205.5 1775.7h0" stroke="#878787" stroke-width="2.2" stroke-linecap="round" fill="none"/><path d="M118.2 1770.0h0M365.8 1801.1h0M103.7 1774.7h0M434.6 1645.3h0M220.2 1610.7h0M464.4 1804.6h0M209.8 1811.3h0M92.8 1734.6h0M490.1 1590.0h0M182.3 1879.7h0M277.8 1666.5h0M469.0 1628.8h0M120.2 1847.5h0M261.2 1797.8h0M439.6 1845.7h0M318.7 1694.1h0M251.7 1794.3h0M361.7 1628.9h0M387.8 1718.6h0M151.9 1661.5h0M455.0 1616.7h0M131.5 1656.0h0M469.0 1792.8h0M126.7 1689.7h0M53.9 1781.8h0M122.3 1834.9h0M113.5 1789.4h0M59.9 1838.4h0M158.3 1881.3h0M161.3 1815.9h0M168.1 1845.0h0M97.7 1889.1h0M91.0 1821.9h0M117.7 1829.6h0M103.1 1870.7h0M62.2 1843.3h0M77.7 1900.0h0M219.2 1875.4h0M156.6 1841.1h0M90.3 1881.8h0M70.9 1782.2h0M229.8 1899.5h0M137.6 1844.0h0M58.9 1898.3h0M191.3 1881.7h0M100.1 1878.4h0M256.6 1894.6h0M185.5 1894.8h0M180.2 1820.1h0M72.6 1895.4h0M131.5 1886.2h0M68.0 1778.2h0M66.2 1848.4h0M151.6 1793.7h0M108.5 1891.9h0M143.3 1801.6h0M129.3 1792.6h0M117.9 1834.3h0M226.5 1851.1h0M194.0 1877.3h0M122.8 1897.3h0M164.8 1901.5h0M83.7 1877.0h0M214.4 1850.5h0M206.9 1825.5h0M77.4 1810.5h0M262.9 1899.5h0M62.4 1830.3h0M172.6 1893.8h0M57.4 1811.9h0M171.1 1822.3h0M228.1 1884.7h0M143.9 1830.0h0M213.3 1885.9h0M82.9 1869.3h0M93.3 1782.7h0M172.4 1805.4h0M64.5 1838.1h0M119.3 1846.9h0M202.4 1877.5h0M109.8 1813.6h0M250.7 1878.2h0M213.2 1886.4h0M109.2 1889.3h0M174.9 1813.0h0M109.2 1794.0h0M186.8 1828.0h0M61.9 1880.0h0M124.9 1842.4h0M283.7 1800.1h0M288.5 1791.5h0M301.5 1777.6h0M295.1 1773.9h0M236.7 1792.6h0M285.5 1807.1h0M264.5 1773.0h0M250.7 1784.5h0M277.4 1762.2h0M294.1 1833.5h0M237.3 1789.7h0M261.6 1761.1h0M265.1 1787.2h0M241.9 1783.5h0M256.9 1787.0h0M295.0 1814.8h0M294.0 1834.8h0M296.2 1781.0h0M249.5 1756.2h0M265.1 1791.8h0M297.7 1835.9h0M291.5 1817.3h0M263.7 1784.2h0M300.2 1796.4h0M490.5 1667.6h0M483.5 1630.3h0M479.3 1617.7h0M498.2 1613.1h0M406.0 1595.6h0M482.1 1647.6h0M499.3 1668.9h0M508.2 1697.9h0M511.5 1619.1h0M459.0 1645.8h0M227.4 1597.5h0M219.6 1593.9h0M214.7 1592.3h0M212.6 1602.2h0M206.2 1595.4h0M201.1 1598.9h0M198.7 1616.7h0M190.7 1606.0h0M178.8 1609.6h0M177.5 1615.9h0M172.6 1617.6h0M161.1 1620.3h0M159.7 1633.6h0M160.8 1634.9h0M153.0 1634.2h0M139.2 1642.6h0M136.9 1646.3h0M133.9 1673.6h0M128.3 1675.4h0M133.3 1682.9h0M124.3 1685.8h0M133.2 1690.1h0M124.6 1690.3h0M133.0 1694.1h0M129.7 1703.0h0M121.6 1704.6h0M136.1 1712.4h0M124.3 1717.0h0M141.4 1717.6h0M136.6 1724.0h0M138.9 1730.5h0M149.8 1733.2h0M147.1 1736.5h0M158.3 1746.6h0M168.2 1754.8h0M172.8 1754.3h0M182.2 1764.5h0M186.5 1760.2h0M188.9 1762.6h0M191.4 1762.0h0M189.4 1777.3h0M197.6 1767.8h0M198.8 1779.3h0M204.1 1776.7h0M209.2 1784.4h0M220.0 1781.6h0M221.1 1789.1h0M239.6 1781.1h0M241.6 1784.8h0M241.0 1795.2h0M245.8 1787.6h0M509.8 1849.3h0M483.0 1855.3h0M471.1 1854.7h0M460.2 1830.1h0M443.2 1778.1h0M441.9 1772.0h0M423.5 1718.8h0M412.9 1695.3h0M403.1 1674.0h0M386.8 1659.3h0M326.6 1611.8h0M200.1 1601.7h0M186.5 1611.1h0M179.2 1619.0h0M168.9 1625.6h0M160.2 1629.5h0M141.0 1660.3h0M129.9 1688.7h0M132.4 1700.8h0M139.2 1732.6h0M150.8 1744.9h0M150.4 1751.1h0M158.4 1751.0h0M196.7 1773.0h0M230.2 1783.2h0M257.9 1795.8h0" stroke="#a3a3a3" stroke-width="1.6" stroke-linecap="round" fill="none"/><path d="M214.4 1751.2h0M442.2 1894.2h0M316.3 1647.7h0M206.3 1889.3h0M249.3 1624.0h0M292.9 1872.3h0M144.0 1857.1h0M204.9 1748.0h0M345.1 1896.3h0M193.3 1608.6h0M424.5 1726.0h0M416.9 1714.1h0M209.7 1660.1h0M116.1 1781.7h0M498.5 1736.5h0M170.2 1768.7h0M156.0 1694.5h0M383.7 1616.6h0M150.8 1862.9h0M105.0 1803.0h0M55.5 1824.2h0M51.2 1779.0h0M58.3 1802.9h0M115.6 1820.0h0M69.7 1847.1h0M144.9 1788.7h0M199.9 1816.4h0M184.4 1901.9h0M138.9 1828.2h0M168.6 1863.9h0M66.8 1807.5h0M226.4 1885.4h0M127.2 1784.3h0M221.1 1868.6h0M200.6 1881.9h0M109.5 1779.5h0M76.9 1827.6h0M179.8 1897.6h0M168.5 1827.5h0M182.4 1865.0h0M49.0 1803.6h0M115.0 1888.9h0M220.9 1895.9h0M89.0 1782.0h0M253.2 1877.8h0M197.9 1827.0h0M192.8 1894.2h0M48.4 1872.1h0M121.6 1879.5h0M166.5 1835.5h0M239.1 1896.5h0M129.6 1862.1h0M70.6 1848.7h0M185.2 1891.9h0M158.2 1795.6h0M126.8 1798.9h0M180.5 1869.1h0M92.7 1786.3h0M97.6 1899.4h0M90.2 1798.0h0M154.3 1873.8h0M178.2 1810.1h0M115.4 1829.9h0M74.0 1856.7h0M124.1 1879.5h0M103.5 1777.5h0M84.4 1869.5h0M47.8 1867.0h0M301.0 1843.2h0M298.8 1819.5h0M339.1 1861.4h0M315.2 1845.2h0M252.3 1767.9h0M288.8 1804.5h0M263.1 1775.5h0M276.5 1789.4h0M288.8 1841.2h0M303.3 1808.0h0M281.9 1823.4h0M229.3 1787.5h0M261.2 1799.7h0M277.8 1814.9h0M275.1 1831.8h0M272.5 1776.9h0M289.9 1789.2h0M268.3 1807.1h0M291.8 1839.2h0M323.4 1854.7h0M242.6 1781.4h0M319.4 1859.9h0M338.1 1861.7h0M288.5 1841.4h0M268.6 1768.4h0M248.5 1794.9h0M292.5 1843.9h0M262.9 1784.7h0M258.7 1810.7h0M280.1 1780.5h0M489.6 1627.6h0M454.5 1616.1h0M483.7 1670.0h0M488.8 1710.7h0M472.7 1634.7h0M464.5 1661.5h0M495.4 1668.2h0M417.3 1593.9h0M438.3 1628.0h0M480.9 1662.2h0M465.8 1672.4h0M462.4 1594.2h0M485.2 1607.8h0M445.3 1599.9h0M447.8 1662.8h0M217.0 1607.6h0M213.3 1600.9h0M186.3 1606.4h0M186.7 1619.6h0M185.4 1619.4h0M183.7 1620.5h0M174.0 1623.2h0M161.0 1627.1h0M157.9 1633.2h0M156.2 1633.0h0M152.2 1643.2h0M136.0 1652.0h0M132.2 1656.2h0M128.2 1661.7h0M136.2 1668.0h0M139.6 1670.3h0M133.3 1692.1h0M128.6 1696.8h0M137.6 1700.7h0M123.1 1702.2h0M121.6 1705.8h0M136.4 1712.4h0M131.6 1718.5h0M127.4 1721.8h0M138.2 1719.5h0M126.7 1724.3h0M143.0 1726.1h0M131.0 1736.4h0M143.1 1737.2h0M148.2 1736.9h0M156.2 1761.1h0M170.5 1766.7h0M174.2 1764.2h0M183.9 1768.5h0M198.5 1771.0h0M200.3 1781.4h0M225.3 1787.6h0M235.0 1784.7h0M485.2 1850.7h0M478.7 1852.6h0M473.7 1852.4h0M437.1 1758.6h0M435.9 1758.0h0M415.8 1705.3h0M406.4 1686.1h0M401.4 1673.8h0M401.9 1670.0h0M369.7 1635.1h0M363.1 1629.0h0M345.6 1614.8h0M300.4 1600.8h0M244.3 1595.0h0M235.2 1597.3h0M232.9 1595.5h0M229.7 1595.6h0M192.8 1611.9h0M130.7 1699.8h0M132.1 1708.0h0M150.4 1746.6h0M151.7 1752.7h0M192.5 1769.7h0M197.4 1776.8h0M204.7 1774.9h0M260.8 1797.5h0M283.6 1807.0h0" stroke="#a3a3a3" stroke-width="2.2" stroke-linecap="round" fill="none"/><path d="M240.8 1615.0h0M450.9 1758.9h0M304.2 1612.8h0M441.3 1664.7h0M483.5 1854.8h0M178.5 1811.9h0M142.2 1623.4h0M221.1 1776.4h0M276.7 1596.1h0M282.7 1862.6h0M214.8 1649.8h0M195.6 1753.6h0M235.5 1649.1h0M411.4 1701.2h0M319.2 1660.9h0M252.5 1667.4h0M350.0 1783.2h0M471.4 1775.6h0M67.4 1873.7h0M200.7 1846.4h0M200.8 1844.7h0M195.6 1901.7h0M179.7 1897.0h0M78.2 1809.9h0M185.5 1822.4h0M106.7 1885.9h0M87.2 1871.5h0M158.0 1804.8h0M99.1 1819.0h0M177.3 1830.3h0M80.6 1823.5h0M56.4 1894.0h0M244.2 1877.9h0M121.2 1849.2h0M83.7 1852.8h0M192.1 1890.8h0M96.5 1840.6h0M113.7 1856.1h0M169.6 1836.8h0M98.8 1895.3h0M219.6 1881.3h0M145.3 1872.8h0M67.6 1774.7h0M225.8 1892.4h0M132.4 1888.2h0M127.7 1896.4h0M143.2 1898.8h0M98.1 1797.0h0M115.2 1853.5h0M213.8 1854.4h0M169.3 1875.2h0M114.6 1858.6h0M219.0 1871.4h0M190.9 1859.6h0M76.1 1815.8h0M121.0 1847.8h0M142.4 1886.5h0M228.9 1870.3h0M218.8 1855.1h0M177.1 1887.0h0M135.2 1856.3h0M76.3 1872.7h0M241.4 1863.3h0M105.1 1871.5h0M116.5 1858.9h0M166.6 1843.7h0M60.8 1820.4h0M297.8 1771.1h0M285.9 1825.9h0M242.0 1798.1h0M258.1 1790.1h0M292.5 1817.0h0M283.1 1802.2h0M334.3 1857.6h0M309.9 1817.0h0M280.9 1836.8h0M300.6 1827.4h0M256.9 1807.9h0M323.5 1856.8h0M306.5 1804.7h0M228.8 1781.3h0M250.1 1755.1h0M319.6 1832.1h0M267.1 1809.9h0M309.7 1827.0h0M232.8 1779.2h0M304.3 1849.9h0M224.3 1788.0h0M240.3 1787.2h0M232.2 1770.3h0M248.6 1803.6h0M300.9 1821.7h0M329.6 1856.3h0M233.0 1792.5h0M297.7 1837.5h0M326.1 1843.2h0M425.7 1612.5h0M503.5 1630.1h0M498.7 1677.4h0M455.2 1632.3h0M420.4 1613.5h0M466.8 1600.6h0M501.8 1698.7h0M475.2 1696.9h0M506.6 1638.6h0M440.8 1612.2h0M492.4 1592.9h0M472.7 1622.7h0M496.4 1634.5h0M466.6 1613.6h0M222.7 1590.5h0M212.6 1605.4h0M207.9 1609.6h0M197.1 1604.6h0M196.5 1608.8h0M194.0 1608.6h0M195.8 1615.0h0M190.7 1612.7h0M172.9 1612.4h0M171.1 1620.5h0M171.2 1627.2h0M159.9 1622.3h0M148.2 1655.5h0M137.9 1654.2h0M139.3 1661.7h0M145.5 1665.5h0M143.1 1672.4h0M137.4 1672.6h0M134.6 1675.9h0M126.8 1678.4h0M131.9 1680.5h0M126.5 1707.6h0M124.0 1718.2h0M137.3 1716.9h0M136.0 1726.4h0M130.5 1730.1h0M136.5 1740.8h0M144.2 1741.5h0M148.5 1739.1h0M147.2 1746.9h0M158.8 1749.0h0M172.1 1753.6h0M175.0 1754.2h0M175.7 1754.9h0M184.7 1759.3h0M192.7 1774.6h0M198.5 1783.3h0M207.7 1775.9h0M218.1 1783.9h0M220.1 1788.4h0M226.2 1777.4h0M229.6 1778.6h0M227.1 1786.0h0M227.4 1792.8h0M235.9 1789.1h0M240.7 1793.4h0M507.8 1848.1h0M465.1 1827.7h0M457.9 1814.4h0M449.6 1791.0h0M430.4 1745.9h0M416.2 1699.5h0M396.1 1667.7h0M375.0 1635.7h0M361.0 1630.0h0M352.2 1625.1h0M315.0 1605.4h0M307.9 1601.0h0M299.6 1599.8h0M275.4 1596.0h0M210.3 1601.3h0M187.9 1615.7h0M132.4 1723.4h0M137.1 1735.2h0M152.1 1750.7h0M154.2 1753.1h0M173.9 1762.5h0M207.5 1776.6h0" stroke="#bfbfbf" stroke-width="1.6" stroke-linecap="round" fill="none"/><path d="M363.2 1838.0h0M342.5 1713.1h0M71.7 1783.6h0M288.5 1858.3h0M264.7 1848.4h0M388.1 1763.5h0M349.3 1711.2h0M353.9 1595.7h0M60.4 1739.9h0M367.6 1755.0h0M260.1 1641.7h0M146.9 1815.5h0M426.1 1664.0h0M137.8 1778.3h0M227.0 1643.7h0M467.3 1662.8h0M240.2 1721.6h0M177.4 1853.9h0M205.5 1841.8h0M169.9 1897.7h0M243.6 1865.7h0M97.1 1778.2h0M212.2 1838.9h0M159.0 1795.5h0M58.8 1875.7h0M51.1 1896.9h0M93.5 1848.1h0M78.4 1878.4h0M118.7 1817.6h0M90.7 1879.8h0M142.5 1869.6h0M121.9 1818.1h0M171.2 1900.4h0M254.0 1883.0h0M113.3 1791.3h0M127.5 1881.2h0M57.5 1895.7h0M187.9 1879.1h0M226.2 1862.9h0M128.9 1834.1h0M183.1 1894.4h0M51.8 1892.4h0M137.8 1880.7h0M99.6 1786.3h0M133.3 1809.0h0M199.5 1847.0h0M218.9 1835.8h0M168.4 1892.1h0M132.6 1782.1h0M113.7 1858.9h0M55.2 1782.3h0M209.8 1895.1h0M177.2 1876.3h0M98.0 1825.8h0M191.2 1884.4h0M89.0 1887.0h0M142.5 1863.9h0M135.0 1836.4h0M152.1 1861.1h0M112.3 1791.9h0M55.7 1900.0h0M75.0 1891.4h0M174.6 1886.1h0M73.6 1779.7h0M144.8 1848.0h0M161.9 1899.1h0M146.0 1849.8h0M99.2 1884.3h0M97.9 1816.8h0M103.7 1896.8h0M193.1 1818.3h0M212.9 1892.9h0M101.2 1780.9h0M204.3 1876.1h0M246.2 1876.5h0M118.0 1888.7h0M172.5 1892.3h0M246.7 1874.3h0M101.4 1808.7h0M269.9 1811.4h0M289.4 1823.0h0M273.5 1806.4h0M297.1 1784.0h0M252.9 1785.4h0M307.0 1830.2h0M254.5 1803.2h0M258.4 1758.7h0M251.2 1807.3h0M245.2 1790.4h0M292.2 1806.3h0M253.0 1788.2h0M320.1 1845.6h0M291.5 1820.3h0M227.4 1785.2h0M279.9 1773.0h0M244.5 1766.3h0M279.5 1795.4h0M290.2 1828.2h0M271.2 1790.7h0M279.7 1809.2h0M301.7 1779.4h0M307.7 1839.9h0M289.8 1794.3h0M446.7 1646.5h0M445.3 1600.1h0M494.6 1620.6h0M467.3 1675.9h0M477.5 1639.6h0M429.1 1638.6h0M439.9 1589.5h0M457.0 1680.8h0M443.1 1596.3h0M483.7 1682.4h0M490.6 1699.6h0M433.5 1637.5h0M467.0 1641.6h0M226.9 1605.9h0M224.2 1601.2h0M218.1 1607.3h0M207.7 1602.6h0M204.6 1604.5h0M205.0 1611.8h0M198.7 1599.1h0M191.5 1602.7h0M189.0 1607.1h0M189.2 1615.0h0M183.2 1605.7h0M174.8 1619.1h0M165.5 1621.2h0M163.5 1631.7h0M159.3 1628.4h0M161.4 1639.9h0M161.6 1640.1h0M156.9 1644.8h0M139.1 1648.9h0M144.9 1655.8h0M145.5 1659.3h0M144.4 1660.9h0M139.9 1660.9h0M139.5 1665.0h0M136.3 1697.9h0M127.2 1699.8h0M129.2 1709.4h0M133.0 1725.4h0M149.5 1740.8h0M148.9 1744.0h0M153.4 1750.7h0M159.5 1758.4h0M159.3 1762.6h0M168.7 1752.4h0M176.6 1769.0h0M182.1 1767.3h0M195.9 1769.4h0M198.9 1775.9h0M220.8 1782.7h0M223.5 1789.1h0M231.6 1779.9h0M234.1 1783.6h0M240.6 1784.8h0M242.4 1795.9h0M469.0 1849.5h0M464.5 1849.9h0M460.5 1812.4h0M459.4 1807.1h0M450.7 1791.7h0M445.9 1787.0h0M439.5 1765.3h0M438.6 1762.4h0M422.0 1711.8h0M359.0 1622.5h0M350.1 1622.9h0M301.4 1601.1h0M278.6 1594.7h0M191.4 1611.6h0M174.4 1617.1h0M166.0 1629.9h0M137.5 1657.5h0M132.3 1668.9h0M132.8 1680.7h0M127.9 1684.1h0M132.4 1707.0h0M135.8 1723.2h0M169.2 1758.7h0M174.5 1766.0h0M219.8 1781.9h0M223.8 1779.7h0M253.0 1793.2h0" stroke="#bfbfbf" stroke-width="2.2" stroke-linecap="round" fill="none"/><path d="M421.0 1790.6h0M510.8 1823.0h0M148.6 1859.2h0M491.1 1837.0h0M451.5 1734.4h0M338.5 1639.1h0M228.4 1637.5h0M175.2 1702.1h0M269.2 1678.5h0M122.0 1622.8h0M47.9 1733.8h0M503.3 1792.3h0M456.5 1634.0h0M204.1 1721.3h0M161.6 1853.0h0M239.0 1883.0h0M142.6 1801.1h0M120.0 1880.8h0M105.6 1804.4h0M49.5 1885.1h0M193.6 1835.2h0M119.5 1892.6h0M209.3 1862.7h0M73.4 1819.3h0M105.0 1883.0h0M165.6 1810.9h0M109.9 1859.5h0M166.6 1808.2h0M134.5 1881.0h0M114.4 1878.6h0M161.9 1831.6h0M163.0 1825.9h0M129.4 1879.5h0M149.6 1817.3h0M105.3 1794.5h0M219.8 1836.5h0M160.1 1875.0h0M108.2 1881.0h0M69.6 1896.8h0M63.0 1774.4h0M154.7 1878.6h0M61.4 1856.9h0M196.2 1854.8h0M126.2 1868.2h0M101.2 1785.2h0M79.0 1774.8h0M67.5 1852.2h0M61.3 1834.8h0M151.8 1822.9h0M101.9 1783.6h0M307.3 1854.0h0M323.0 1855.4h0M261.5 1787.0h0M260.0 1776.9h0M300.5 1791.1h0M267.3 1819.0h0M250.9 1786.5h0M302.1 1790.3h0M290.3 1784.3h0M312.2 1854.9h0M286.7 1779.1h0M271.1 1763.6h0M282.3 1784.9h0M229.1 1788.9h0M301.9 1791.1h0M298.7 1818.2h0M305.3 1810.9h0M250.1 1771.2h0M275.1 1831.7h0M292.6 1787.9h0M297.3 1830.1h0M264.1 1760.3h0M306.0 1814.0h0M240.8 1785.2h0M299.6 1804.1h0M272.5 1767.4h0M294.8 1843.4h0M259.0 1760.5h0M278.1 1820.7h0M296.4 1794.9h0M460.9 1665.3h0M470.6 1675.4h0M493.0 1640.7h0M493.1 1616.6h0M505.6 1614.0h0M486.1 1707.2h0M470.8 1687.5h0M476.7 1611.8h0M499.9 1610.1h0M477.6 1600.1h0M223.6 1591.1h0M218.8 1594.5h0M221.9 1605.5h0M212.4 1608.3h0M203.8 1614.9h0M192.3 1601.9h0M189.0 1621.7h0M175.1 1617.8h0M174.9 1622.9h0M168.4 1621.7h0M167.8 1627.3h0M167.4 1633.2h0M159.7 1635.1h0M154.6 1638.7h0M147.8 1642.2h0M146.7 1650.1h0M148.7 1652.5h0M128.9 1659.5h0M133.5 1664.9h0M129.8 1664.6h0M140.2 1674.4h0M123.5 1684.5h0M122.2 1686.6h0M134.9 1696.1h0M130.6 1714.5h0M128.4 1718.2h0M139.0 1724.1h0M141.3 1745.2h0M144.6 1746.6h0M148.1 1747.5h0M150.1 1749.9h0M156.9 1743.9h0M150.2 1757.9h0M163.9 1757.8h0M173.2 1763.8h0M178.0 1761.3h0M189.4 1764.0h0M186.9 1775.2h0M188.3 1774.6h0M194.3 1768.1h0M201.3 1781.7h0M213.5 1784.7h0M215.9 1783.8h0M241.1 1783.1h0M239.6 1793.8h0M246.5 1787.6h0M426.9 1734.0h0M411.6 1699.2h0M336.0 1611.0h0M310.6 1599.3h0M281.3 1598.1h0M221.0 1599.0h0M205.9 1606.3h0M171.4 1623.9h0M130.5 1672.7h0M133.3 1677.6h0M134.4 1683.1h0M132.0 1686.9h0M132.2 1717.3h0M139.0 1730.4h0M171.2 1765.3h0M184.3 1770.2h0M207.7 1779.1h0M257.3 1790.4h0" stroke="#dbdbdb" stroke-width="1.6" stroke-linecap="round" fill="none"/><path d="M327.8 1897.3h0M495.9 1777.1h0M478.5 1664.0h0M112.3 1891.7h0M254.3 1622.6h0M185.9 1739.7h0M173.9 1886.6h0M84.2 1665.2h0M145.4 1641.6h0M100.0 1596.1h0M239.0 1823.4h0M240.2 1900.4h0M125.8 1809.2h0M160.4 1830.6h0M110.1 1806.9h0M119.5 1863.1h0M165.8 1867.6h0M77.1 1838.9h0M202.6 1876.4h0M205.0 1831.9h0M185.1 1842.6h0M247.6 1897.2h0M68.9 1874.5h0M131.0 1841.0h0M160.1 1797.3h0M250.5 1899.1h0M116.0 1807.7h0M161.4 1829.1h0M204.6 1898.9h0M107.4 1838.9h0M142.0 1793.3h0M121.3 1877.5h0M51.5 1891.0h0M232.8 1884.8h0M53.4 1773.2h0M174.2 1863.3h0M175.3 1866.0h0M150.5 1897.5h0M48.0 1804.6h0M74.4 1829.1h0M134.6 1829.8h0M170.7 1850.0h0M72.7 1892.3h0M156.1 1878.5h0M110.4 1836.9h0M223.3 1861.8h0M126.4 1792.1h0M208.4 1857.9h0M92.0 1851.8h0M158.9 1811.4h0M69.1 1877.2h0M183.4 1808.1h0M53.3 1831.3h0M167.1 1873.2h0M67.6 1845.4h0M234.8 1873.0h0M136.3 1851.3h0M166.0 1829.2h0M165.6 1794.2h0M48.2 1870.7h0M155.9 1862.0h0M100.7 1900.2h0M284.1 1776.8h0M231.5 1773.4h0M313.9 1860.3h0M304.4 1801.2h0M237.9 1772.7h0M298.4 1841.8h0M275.7 1818.8h0M263.7 1776.6h0M276.6 1792.7h0M328.4 1854.6h0M266.9 1771.2h0M264.0 1781.9h0M272.4 1804.8h0M298.8 1804.2h0M292.1 1822.9h0M251.1 1799.8h0M262.3 1781.3h0M222.8 1786.6h0M298.0 1834.9h0M250.1 1764.7h0M303.7 1833.8h0M302.9 1842.2h0M241.4 1791.4h0M257.0 1776.0h0M242.4 1761.9h0M274.0 1799.1h0M309.7 1814.3h0M474.2 1658.6h0M488.9 1703.8h0M466.1 1624.2h0M487.0 1617.8h0M463.6 1602.0h0M420.7 1589.3h0M504.1 1623.5h0M510.6 1710.1h0M463.9 1622.0h0M489.6 1640.8h0M414.3 1593.5h0M417.0 1596.9h0M429.2 1627.3h0M222.9 1600.1h0M218.9 1600.4h0M209.0 1609.3h0M203.6 1611.4h0M202.4 1614.5h0M189.3 1620.0h0M179.5 1617.2h0M180.4 1626.1h0M173.5 1617.1h0M163.5 1625.0h0M155.0 1625.2h0M161.6 1634.2h0M150.4 1630.1h0M156.0 1641.4h0M148.9 1636.2h0M143.8 1640.5h0M142.9 1643.8h0M148.4 1656.7h0M132.9 1657.7h0M131.2 1670.7h0M133.6 1686.1h0M126.7 1688.3h0M128.3 1698.7h0M130.3 1706.1h0M125.7 1711.0h0M133.6 1710.9h0M134.3 1711.8h0M135.4 1722.4h0M139.4 1723.9h0M132.8 1732.7h0M137.1 1733.9h0M137.3 1735.0h0M133.9 1741.3h0M144.9 1743.5h0M153.0 1744.0h0M156.4 1745.9h0M168.5 1756.1h0M180.6 1758.3h0M183.3 1767.2h0M187.9 1778.3h0M197.6 1770.5h0M199.4 1771.6h0M203.3 1782.4h0M208.6 1776.5h0M207.5 1783.1h0M211.2 1784.9h0M226.4 1780.5h0M226.5 1791.4h0M437.5 1765.0h0M431.9 1754.1h0M430.7 1735.9h0M419.4 1715.0h0M410.2 1694.3h0M385.6 1654.0h0M373.1 1641.9h0M315.8 1606.1h0M273.5 1594.6h0M253.3 1591.5h0M240.3 1597.4h0M203.4 1603.4h0M192.7 1607.5h0M144.1 1644.7h0M145.5 1647.0h0M138.9 1736.5h0M161.2 1756.0h0M161.9 1758.8h0M281.6 1804.3h0" stroke="#dbdbdb" stroke-width="2.2" stroke-linecap="round" fill="none"/></g>
<text x="55.5" y="1617.9" font-size="30.3" fill="#fff">IL-1β</text>
<rect x="440.6" y="1881" width="56.7" height="4.7" fill="#fff"/>
<defs><clipPath id="cc1"><rect x="68" y="594.4" width="396.2" height="296"/></clipPath><clipPath id="cc2"><rect x="68" y="899" width="396.2" height="296"/></clipPath><clipPath id="cc3"><rect x="469" y="594.6" width="175" height="296"/></clipPath><clipPath id="cc4"><rect x="469" y="898.8" width="175" height="295.6"/></clipPath><filter id="b1"><feGaussianBlur stdDeviation="1"/></filter><filter id="b2"><feGaussianBlur stdDeviation="2"/></filter><filter id="b4"><feGaussianBlur stdDeviation="4"/></filter><filter id="b8"><feGaussianBlur stdDeviation="8"/></filter><filter id="grain" x="0" y="0" width="100%" height="100%"><feTurbulence type="fractalNoise" baseFrequency="0.9" numOctaves="2" seed="3"/><feColorMatrix type="matrix" values="0 0 0 0 0  0 0 0 0 0  0 0 0 0 0  0 0 0 -1.2 0.75"/></filter></defs>
<g clip-path="url(#cc1)">
<rect x="68" y="594.4" width="396.2" height="296" fill="#d9d9d9"/>
<path d="M60 680.8 C68.9 641.2 95.6 663.4 113.4 656.7 C131.2 650.1 149 644.7 166.8 640.7 C184.6 636.7 202.4 634.5 220.2 632.7 C238 630.9 255.8 629.2 273.6 630 C291.4 630.9 309.2 634.5 327 638.1 C344.7 641.6 356.8 646.9 380.3 651.4 C403.9 655.8 453.8 635.8 468.4 664.7 C483.1 693.7 478.7 794.7 468.4 824.9 C458.2 855.2 426.2 839.2 407 846.3 C387.9 853.4 371.4 859.6 353.6 867.6 C335.8 875.6 349.2 889.9 300.3 894.3 C251.3 898.8 100 929.9 60 894.3 C20 858.7 51.1 720.4 60 680.8Z" fill="#ececec" filter="url(#b4)"/>
<path d="M60 710.1 C73.3 685.7 113.4 685.2 140.1 678.1 C166.8 671 193.5 668.8 220.2 667.4 C246.9 666.1 273.6 667 300.3 670.1 C327 673.2 352.3 680.8 380.3 686.1 C408.4 691.4 453.8 693.2 468.4 702.1 C483.1 711 487.6 731.5 468.4 739.5 C449.3 747.5 390.6 748.4 353.6 750.2 C316.7 752 278 747.5 246.9 750.2 C215.7 752.8 197.9 753.7 166.8 766.2 C135.6 778.6 77.8 834.3 60 824.9 C42.2 815.6 46.7 734.6 60 710.1Z" fill="#f1f1f1" filter="url(#b8)"/>
<path d="M100 830.3 C108.9 811.6 142.3 793.8 166.8 782.2 C191.3 770.6 220.2 765.3 246.9 760.8 C273.6 756.4 300.3 757.3 327 755.5 C353.6 753.7 383.5 752 407 750.2 C430.6 748.4 458.2 735.9 468.4 744.8 C478.7 753.7 483.1 789.3 468.4 803.6 C453.8 817.8 408.4 821.4 380.3 830.3 C352.3 839.2 331.4 848.1 300.3 857 C269.1 865.8 224.6 877.4 193.5 883.6 C162.3 889.9 129 903.2 113.4 894.3 C97.8 885.4 91.1 848.9 100 830.3Z" fill="#efefef" filter="url(#b8)"/>
<path d="M226.3 747.8 L231.9 733.6 L237.1 719.3 L237.5 704.0M300.4 752.9 L299.9 747.1 L298.4 741.4 L297.5 735.7 L298.2 729.9M298.4 741.4L293.6 732.4M105.8 790.8 L102.4 783.6 L98.5 776.7 L98.6 768.7 L95.5 761.4 L92.5 754.0 L93.1 746.1M137.2 774.2 L135.0 760.9 L139.0 748.1 L136.9 734.9 L140.9 722.1M139.0 748.1L134.6 733.1M103.2 792.9 L102.8 785.7 L102.8 778.5 L100.2 771.8M102.8 778.5L104.7 772.4M186.1 756.0 L187.2 747.6 L185.2 739.3 L183.5 730.9M185.2 739.3L187.2 727.7M185.2 739.3L179.7 730.5M314.7 754.3 L313.8 750.5 L312.8 746.7 L312.3 742.8 L312.4 738.9 L310.9 735.3 L310.9 731.3M312.3 742.8L306.9 732.5M115.6 783.9 L114.0 774.6 L115.6 765.4 L115.1 756.0 L113.2 746.8M115.6 765.4L108.0 752.1M252.5 749.1 L249.9 739.4 L250.4 729.3 L252.8 719.5M123.3 780.4 L125.3 773.9 L125.1 767.2 L128.3 761.2 L130.1 754.7 L132.6 748.4 L133.3 741.7M100.4 795.1 L100.7 787.5 L102.4 780.1 L102.8 772.6 L106.3 765.9 L107.4 758.4 L109.2 751.0M102.4 780.1L115.6 766.2M102.8 772.6L111.6 758.4M300.7 752.9 L302.3 747.3 L303.4 741.6 L303.9 735.8 L303.6 730.0M303.9 735.8L308.1 726.2M154.9 766.2 L152.1 758.6 L150.8 750.7 L147.6 743.3 L145.3 735.6 L144.4 727.6M147.6 743.3L149.5 727.5M152.1 758.6L153.2 746.1M239.3 748.5 L240.0 741.3 L241.9 734.4 L244.3 727.7 L247.0 721.0 L247.7 713.9M292.2 752.0 L294.7 743.6 L297.4 735.3 L298.1 726.5 L302.2 718.8 L306.8 711.3M298.1 726.5L295.6 707.7M108.1 789.0 L107.6 781.2 L108.2 773.3 L110.3 765.8 L109.6 757.9 L112.3 750.5 L111.2 742.8M109.6 757.9L105.3 738.5M107.6 781.2L114.7 769.4M298.0 752.6 L298.4 748.8 L298.4 744.9 L299.4 741.2 L300.2 737.4 L301.5 733.7 L302.8 730.1M251.6 749.1 L252.4 742.6 L253.3 736.1 L253.4 729.6 L253.0 723.1 L254.3 716.7M253.4 729.6L248.9 718.1M253.4 729.6L257.5 718.8M277.0 750.5 L274.0 740.4 L272.5 729.9 L271.5 719.4 L268.8 709.2M222.4 747.6 L224.2 737.2 L225.6 726.6 L230.5 717.3M224.2 737.2L233.0 725.0M225.6 726.6L230.8 718.4M137.8 773.9 L137.6 760.4 L134.7 747.2 L137.6 734.0 L136.6 720.5M137.6 760.4L144.7 744.2M308.1 753.6 L306.4 749.9 L304.2 746.5 L302.2 743.0 L300.9 739.1 L299.7 735.3 L298.7 731.3M309.6 753.8 L310.1 744.3 L309.9 734.9 L307.3 725.8 L305.8 716.5 L307.2 707.2M310.1 744.3L301.7 731.5M307.3 725.8L310.5 714.2M153.4 766.9 L152.4 756.0 L152.8 745.1 L154.5 734.4 L159.2 724.5M154.5 734.4L154.2 715.0M152.8 745.1L164.9 729.1M187.0 755.8 L187.9 747.1 L190.4 738.8 L190.5 730.0 L189.1 721.4 L191.7 713.1M190.5 730.0L197.6 719.8M189.1 721.4L198.9 707.8M173.6 759.1 L169.7 750.3 L164.9 741.9 L160.0 733.6 L160.0 724.0M160.0 733.6L164.3 714.8M247.2 748.9 L248.6 743.8 L250.6 739.0 L250.5 733.7 L252.7 729.0M250.5 733.7L254.2 726.1M170.5 759.9 L171.4 751.6 L172.8 743.4 L174.6 735.3M171.4 751.6L167.3 740.6M101.1 794.5 L100.4 788.8 L101.3 783.1 L100.2 777.4 L98.1 772.0 L98.1 766.2 L96.3 760.7M98.1 766.2L102.9 753.6M98.1 766.2L93.0 753.8M127.8 778.4 L130.1 767.1 L132.7 755.8 L132.5 744.3 L131.8 732.8M250.4 749.0 L243.6 736.5 L237.1 723.8 L234.4 709.9M164.1 762.1 L169.3 751.4 L169.3 739.4 L174.0 728.5M286.4 751.5 L287.8 738.3 L284.0 725.6 L286.7 712.6 L286.1 699.4M102.1 793.7 L99.9 783.6 L101.7 773.3 L102.1 762.9 L103.0 752.6M99.9 783.6L105.6 765.7M175.7 758.6 L177.6 746.4 L176.9 733.9 L174.1 721.9 L170.8 709.9M112.6 785.5 L112.3 778.2 L114.1 771.0 L117.6 764.6 L120.0 757.6 L121.6 750.5M120.0 757.6L120.0 742.4M89.3 803.8 L89.4 795.4 L90.0 787.0 L90.8 778.7 L90.9 770.3 L91.7 762.0 L92.2 753.6M89.4 795.4L100.5 782.2M310.3 753.8 L312.6 746.9 L311.8 739.6 L313.8 732.6 L313.8 725.3 L314.4 718.0 L314.0 710.7M82.3 809.3 L84.0 794.5 L88.3 780.2 L90.8 765.5M88.3 780.2L84.1 766.4M88.3 780.2L83.3 768.0M115.7 783.8 L114.8 779.8 L113.9 775.7 L114.9 771.6 L115.0 767.5 L114.1 763.4M114.9 771.6L112.7 765.6M115.0 767.5L112.7 762.5M125.0 779.7 L122.7 773.0 L123.7 766.1 L123.0 759.1M122.7 773.0L119.4 767.7M123.7 766.1L121.3 760.9M143.8 771.2 L144.3 765.4 L145.6 759.8 L144.8 754.1 L143.3 748.5M145.6 759.8L149.2 750.2M144.8 754.1L140.6 743.9M142.1 772.0 L144.1 763.4 L143.9 754.5 L145.5 745.9 L148.7 737.6M143.9 754.5L149.6 742.2M185.9 756.1 L186.4 745.0 L188.3 734.2 L188.6 723.1 L191.9 712.6M188.3 734.2L187.5 714.6M161.4 763.3 L159.5 754.1 L158.1 744.9 L155.8 735.8 L152.7 727.0 L151.7 717.7M159.5 754.1L149.8 742.9M152.7 727.0L144.1 714.4M101.7 794.1 L97.2 782.6 L97.9 770.2 L97.0 757.9M98.7 796.4 L102.3 788.1 L106.4 780.1 L108.7 771.4 L109.0 762.5 L110.4 753.6 L111.4 744.7M108.7 771.4L107.6 749.6M106.5 790.3 L105.7 776.7 L101.0 764.0 L101.2 750.4 L98.8 737.0M105.7 776.7L109.7 751.0M183.0 756.8 L182.9 748.1 L185.0 739.7 L185.2 731.0 L182.9 722.6M185.2 731.0L182.7 722.7M302.6 753.1 L302.9 747.5 L302.7 742.0 L302.6 736.5 L302.3 731.0 L303.2 725.5M302.7 742.0L306.3 734.2M322.2 755.0 L323.4 746.9 L323.4 738.7 L326.7 731.2 L328.3 723.1 L327.8 714.9 L327.9 706.7M261.1 749.5 L262.5 743.9 L263.9 738.2 L265.5 732.5 L265.5 726.6 L265.9 720.8M262.5 743.9L261.4 732.3M263.9 738.2L269.3 727.1M222.9 747.6 L222.7 741.4 L223.8 735.2 L224.1 728.9 L225.7 722.9 L225.9 716.6 L224.3 710.6M273.2 750.2 L272.6 742.1 L271.0 734.2 L269.5 726.3 L269.2 718.3M269.5 726.3L274.8 711.7M271.0 734.2L268.7 720.3M238.8 748.4 L241.8 735.4 L241.7 722.0 L241.9 708.7 L243.8 695.5M241.7 722.0L256.6 705.4M241.7 722.0L237.9 702.0M115.3 784.0 L112.4 775.8 L112.4 767.1 L111.8 758.5 L112.0 749.8 L110.4 741.2M116.8 783.4 L117.8 773.3 L114.4 763.9 L113.8 753.8M120.0 781.9 L119.9 778.3 L119.9 774.8 L120.1 771.2 L121.1 767.7 L120.8 764.2 L120.5 760.6M120.1 771.2L118.4 765.3M120.1 771.2L118.1 764.4M95.1 799.2 L89.5 784.5 L87.7 768.8 L89.3 753.1M145.0 770.7 L148.9 758.9 L150.9 746.6 L154.1 734.6 L157.7 722.8M112.2 785.8 L110.2 779.9 L109.7 773.8 L108.4 767.7 L106.7 761.7M110.2 779.9L104.3 770.4M112.5 785.5 L109.0 775.9 L109.7 765.6 L107.5 755.6M98.0 797.0 L96.9 783.5 L99.6 770.2 L102.2 757.0M191.0 754.8 L189.2 737.3 L191.2 719.8 L191.9 702.3M189.2 737.3L196.4 721.9M191.2 719.8L187.0 703.2M149.9 768.4 L147.4 752.1 L152.3 736.3 L150.2 720.0M147.4 752.1L143.7 739.0M152.3 736.3L161.6 719.6M163.1 762.5 L158.4 753.1 L153.4 743.8 L152.8 733.3 L148.1 723.9 L147.5 713.4M127.0 778.8 L123.0 767.6 L120.2 756.0 L122.7 744.4M123.0 767.6L127.9 750.8M219.7 747.6 L215.1 731.9 L213.7 715.5 L216.2 699.3M215.1 731.9L210.2 710.6M170.3 760.0 L169.5 751.6 L172.7 743.8 L172.6 735.4 L173.4 727.0 L174.1 718.6 L174.2 710.2M325.3 755.3 L323.9 750.1 L323.2 744.8 L321.4 739.7 L321.6 734.3 L322.2 728.9M323.9 750.1L320.9 743.9M169.3 760.2 L170.8 756.4 L171.4 752.3 L170.9 748.3 L170.6 744.2 L171.9 740.3 L173.4 736.5M78.7 812.1 L77.5 800.1 L73.7 788.7 L72.7 776.6 L67.3 765.8M72.7 776.6L65.9 765.1M73.7 788.7L74.7 765.7M206.1 751.0 L206.8 742.3 L209.0 733.8 L212.1 725.5 L212.1 716.8M212.1 725.5L212.4 710.0M171.8 759.6 L170.3 752.3 L170.8 744.9 L169.2 737.6 L169.2 730.1 L169.0 722.7M208.9 750.3 L209.1 738.7 L205.4 727.6 L202.9 716.2M205.4 727.6L206.0 717.4M209.1 738.7L208.8 728.1" fill="none" stroke="#3c3c3c" stroke-width="0.7" opacity="0.55"/>
<path d="M214.5 795.6 L214.2 799.3 L215.5 802.8 L216.4 806.4 L216.9 810.1 L217.3 813.8M208.2 798.5 L208.7 804.1 L209.9 809.7 L208.4 815.1M209.9 809.7L206.8 816.4M171.6 819.0 L173.4 825.4 L172.7 832.0 L172.4 838.7 L172.5 845.4 L171.5 852.0 L170.3 858.5M211.4 797.0 L210.6 803.4 L211.9 809.7 L213.0 816.1 L211.2 822.3 L210.6 828.7M210.6 803.4L213.1 812.0M211.2 822.3L214.8 835.5M226.4 790.7 L230.6 802.2 L232.1 814.4 L232.1 826.6M230.6 802.2L228.4 818.2M232.1 814.4L230.3 823.4M234.8 787.8 L234.7 792.9 L233.7 798.0 L231.9 802.8 L232.0 807.9 L231.2 813.0 L230.9 818.1M182.4 810.5 L183.6 813.3 L184.8 816.0 L185.4 819.0 L185.6 822.0 L186.3 824.9 L186.8 827.9M157.5 831.2 L158.2 837.0 L158.5 842.9 L159.7 848.7 L159.6 854.6M158.5 842.9L161.9 850.6M248.9 782.8 L247.7 793.1 L251.5 802.6 L251.5 812.9M247.7 793.1L253.4 801.1M234.4 787.9 L235.0 791.3 L235.3 794.8 L234.7 798.3 L235.5 801.7 L234.7 805.1 L233.8 808.5M235.0 791.3L231.9 798.1M252.6 781.5 L254.9 785.3 L257.1 789.1 L257.6 793.5 L257.6 797.9M254.9 785.3L254.6 790.7M143.3 843.5 L145.1 854.1 L149.1 864.1 L152.9 874.2M196.1 804.1 L195.6 810.4 L197.0 816.5 L196.3 822.7M197.0 816.5L195.5 822.4M197.0 816.5L195.0 825.1M270.5 775.3 L269.6 780.1 L270.4 784.9 L269.7 789.8 L269.9 794.7M176.8 814.4 L177.7 822.5 L176.1 830.5 L176.3 838.7 L176.8 846.8 L178.4 854.8M176.3 838.7L171.4 855.9M177.7 822.5L184.0 836.0M265.5 777.0 L269.3 785.8 L272.8 794.7 L276.8 803.4 L278.8 812.7M272.8 794.7L281.1 806.2M272.8 794.7L269.5 810.6M205.2 799.9 L209.6 809.6 L212.5 819.9 L215.0 830.2M212.5 819.9L213.6 830.1M203.0 800.9 L205.1 806.6 L207.5 812.2 L207.3 818.3 L210.2 823.6M205.1 806.6L202.9 814.9M174.0 816.9 L175.2 823.4 L174.9 830.0 L175.5 836.7 L175.3 843.3 L175.5 849.9 L174.9 856.5M209.4 797.9 L209.1 803.7 L208.7 809.5 L211.0 814.9 L211.6 820.6 L212.4 826.4 L214.4 831.8M160.4 828.7 L160.6 832.1 L161.3 835.5 L161.5 839.0 L162.5 842.3 L163.5 845.6 L165.0 848.7M161.3 835.5L165.5 842.1M162.5 842.3L161.8 847.9M207.0 799.0 L204.2 809.2 L203.7 819.9 L206.4 830.1M204.2 809.2L200.9 822.9M152.9 835.2 L153.8 840.0 L154.7 844.8 L156.9 849.1 L156.9 853.9 L157.0 858.8 L157.6 863.6M157.0 858.8L162.3 871.5M157.0 858.8L164.8 868.4M164.2 825.4 L164.9 833.2 L166.5 840.8 L166.2 848.7 L166.5 856.5M166.5 840.8L161.5 855.3M166.5 840.8L168.5 851.7M194.2 805.0 L196.1 809.2 L198.8 813.0 L200.2 817.4 L201.3 821.9 L203.8 825.7 L206.7 829.3M260.2 778.9 L260.6 785.3 L263.0 791.4 L264.0 797.8 L264.4 804.3 L264.3 810.8 L267.3 816.5M263.0 791.4L259.9 807.7M264.4 804.3L260.6 819.6M162.0 827.3 L160.7 837.8 L159.7 848.3 L160.2 858.9M160.7 837.8L159.0 845.6M147.1 840.2 L147.9 845.7 L147.6 851.2 L146.3 856.7 L146.8 862.2 L145.3 867.5 L145.5 873.1M146.8 862.2L142.8 869.6M197.8 803.3 L198.7 806.3 L198.9 809.5 L199.1 812.6 L200.3 815.6 L200.3 818.7 L200.9 821.8M199.1 812.6L202.5 819.9M154.9 833.4 L161.4 841.5 L165.3 851.0 L169.5 860.4M165.3 851.0L173.6 860.3M208.8 798.2 L208.3 807.0 L209.0 815.8 L212.4 823.9 L214.3 832.5 L216.0 841.2M181.6 810.9 L183.1 819.4 L187.1 827.1 L192.3 834.1 L196.4 841.7 L198.2 850.2M192.3 834.1L203.6 845.1M253.0 781.4 L254.4 784.6 L255.6 787.9 L255.8 791.4 L256.9 794.7 L257.9 798.0M248.8 782.9 L249.7 790.9 L251.6 798.8 L253.4 806.7 L256.5 814.2M251.6 798.8L256.6 808.7M212.5 796.4 L215.4 801.1 L217.9 806.0 L219.5 811.3 L221.1 816.6 L222.3 821.9 L225.5 826.4" fill="none" stroke="#3c3c3c" stroke-width="0.7" opacity="0.50"/>
<path d="M374.2 754.3 L372.3 749.3 L371.8 743.9 L370.4 738.7 L369.5 733.4M370.4 738.7L373.7 730.6M372.3 749.3L368.4 739.2M442.3 743.1 L441.9 739.9 L442.2 736.6 L442.9 733.5 L443.5 730.3 L443.1 727.0M442.9 733.5L440.7 726.5M405.4 750.0 L403.2 746.8 L402.4 743.0 L400.8 739.5 L398.9 736.1 L397.0 732.7 L396.7 728.9M398.9 736.1L395.5 731.1M402.4 743.0L402.0 734.3M410.1 749.2 L410.9 743.9 L412.5 738.7 L414.2 733.5 L417.3 729.1 L417.9 723.7M400.3 750.9 L402.2 744.1 L404.4 737.4 L403.9 730.4M402.2 744.1L404.2 739.0M346.5 755.0 L347.4 751.3 L350.0 748.5 L352.0 745.3 L354.3 742.3 L356.8 739.4M352.0 745.3L355.8 741.3M352.0 745.3L355.6 741.0M426.7 746.2 L424.1 741.6 L420.9 737.3 L417.2 733.4 L415.4 728.4 L413.7 723.3M420.9 737.3L420.2 730.0M415.4 728.4L410.2 724.2M350.5 754.9 L352.8 748.7 L357.1 743.6 L359.8 737.5 L363.7 732.1 L367.3 726.5M359.8 737.5L366.8 729.6M357.1 743.6L366.7 733.4M411.4 749.0 L412.0 745.2 L413.0 741.5 L414.2 737.9 L416.1 734.5 L417.0 730.8M413.0 741.5L412.9 735.9M416.1 734.5L415.7 726.7M423.3 746.9 L422.9 744.3 L422.3 741.7 L421.8 739.0 L421.2 736.4 L420.4 733.9 L420.3 731.2M375.3 754.3 L375.5 748.6 L377.2 743.2 L379.0 737.7 L380.0 732.1 L380.0 726.4M393.9 751.9 L391.6 742.7 L390.7 733.2 L390.1 723.7M374.1 754.3 L372.8 750.9 L372.7 747.2 L371.4 743.7 L370.8 740.1M371.4 743.7L369.2 740.6M363.6 754.6 L365.5 751.6 L366.0 748.1 L367.2 744.7 L369.4 742.0 L370.6 738.6 L372.7 735.8M370.6 738.6L370.2 728.2M413.9 748.6 L413.6 745.6 L413.9 742.6 L413.7 739.5 L414.0 736.5 L414.2 733.5M413.9 742.6L416.6 736.6M413.9 742.6L411.9 735.3M390.4 752.5 L393.6 746.7 L395.8 740.5 L399.6 735.1 L401.6 728.8M393.6 746.7L394.2 735.4M393.6 746.7L394.7 737.2M396.5 751.5 L391.1 746.0 L388.3 738.8 L385.4 731.6 L380.4 725.7M436.7 744.2 L434.0 739.0 L430.6 734.2 L426.9 729.5 L423.0 725.0 L421.5 719.3 L418.8 714.1M421.5 719.3L421.1 701.8M423.0 725.0L423.3 708.2M378.7 754.2 L379.7 742.9 L377.6 731.8 L376.5 720.5M377.6 731.8L382.5 718.5M393.5 752.0 L393.1 749.4 L393.0 746.8 L392.5 744.2 L392.4 741.6 L392.1 739.0 L392.6 736.4M377.3 754.3 L381.2 748.6 L385.7 743.6 L387.1 737.0 L390.2 730.9 L392.2 724.4M387.1 737.0L390.1 722.1M381.2 748.6L382.8 733.7M405.5 750.0 L401.4 741.7 L401.9 732.6 L399.9 723.6 L395.6 715.5M399.9 723.6L403.8 707.5M328.0 755.5 L327.3 750.0 L328.7 744.7 L329.7 739.3 L328.8 733.9M328.7 744.7L326.1 738.0M454.1 740.8 L451.1 732.5 L449.1 724.0 L445.4 716.0M417.3 748.0 L417.3 741.2 L417.3 734.4 L416.6 727.6 L415.3 721.0" fill="none" stroke="#555" stroke-width="0.6" opacity="0.40"/>
<path d="M68 827.6 C72 823.6 82.2 812 92 803.6 C101.8 795.1 114.3 784 126.7 776.9 C139.2 769.7 156.5 765.3 166.8 760.8 C177 756.4 179.2 752.4 188.1 750.2 C197 747.9 205.9 747.3 220.2 747.5 C234.4 747.7 255.8 750.2 273.6 751.5 C291.4 752.8 309.2 755.1 327 755.5 C344.7 756 364.8 755.5 380.3 754.2 C395.9 752.8 406.6 749.9 420.4 747.5 C434.2 745.1 456 740.8 463.1 739.5" fill="none" stroke="#cccccc" stroke-width="6" filter="url(#b2)"/>
<path d="M68 827.6 C72 823.6 82.2 812 92 803.6 C101.8 795.1 114.3 784 126.7 776.9 C139.2 769.7 156.5 765.3 166.8 760.8 C177 756.4 179.2 752.4 188.1 750.2 C197 747.9 205.9 747.3 220.2 747.5 C234.4 747.7 255.8 750.2 273.6 751.5 C291.4 752.8 309.2 755.1 327 755.5 C344.7 756 364.8 755.5 380.3 754.2 C395.9 752.8 406.6 749.9 420.4 747.5 C434.2 745.1 456 740.8 463.1 739.5" fill="none" stroke="#555" stroke-width="1.3" opacity="0.6"/>
<g filter="url(#b1)"><ellipse cx="411.2" cy="749.5" rx="1.3" ry="1.3" fill="#222"/><ellipse cx="285.1" cy="753.2" rx="1.2" ry="0.8" fill="#2a2a2a"/><ellipse cx="165.6" cy="760.8" rx="0.9" ry="0.8" fill="#222"/><ellipse cx="339.3" cy="754.7" rx="1.4" ry="1.3" fill="#2a2a2a"/><ellipse cx="388.6" cy="754.0" rx="1.5" ry="1.0" fill="#555"/><ellipse cx="224.4" cy="748.0" rx="1.5" ry="1.0" fill="#333"/><ellipse cx="375.9" cy="754.4" rx="1.0" ry="0.9" fill="#333"/><ellipse cx="295.0" cy="754.0" rx="0.9" ry="0.7" fill="#2a2a2a"/><ellipse cx="230.7" cy="745.7" rx="1.7" ry="1.4" fill="#222"/><ellipse cx="383.0" cy="751.8" rx="1.7" ry="1.5" fill="#222"/><ellipse cx="234.2" cy="748.8" rx="1.1" ry="0.8" fill="#555"/><ellipse cx="356.9" cy="756.5" rx="2.0" ry="1.4" fill="#555"/><ellipse cx="411.8" cy="749.1" rx="1.9" ry="1.8" fill="#222"/><ellipse cx="423.8" cy="747.1" rx="2.0" ry="1.5" fill="#222"/><ellipse cx="148.1" cy="768.1" rx="1.5" ry="1.5" fill="#2a2a2a"/><ellipse cx="163.6" cy="762.7" rx="1.2" ry="0.9" fill="#444"/><ellipse cx="137.4" cy="774.1" rx="2.0" ry="1.4" fill="#2a2a2a"/><ellipse cx="99.1" cy="795.9" rx="1.2" ry="0.8" fill="#444"/><ellipse cx="211.0" cy="747.5" rx="1.7" ry="1.1" fill="#2a2a2a"/><ellipse cx="243.6" cy="749.8" rx="2.0" ry="1.9" fill="#555"/><ellipse cx="75.8" cy="818.4" rx="1.1" ry="0.9" fill="#2a2a2a"/><ellipse cx="311.1" cy="754.8" rx="1.2" ry="1.1" fill="#444"/><ellipse cx="75.1" cy="820.4" rx="2.0" ry="1.8" fill="#222"/><ellipse cx="160.0" cy="761.5" rx="1.7" ry="1.2" fill="#444"/><ellipse cx="152.2" cy="764.6" rx="1.0" ry="0.7" fill="#2a2a2a"/><ellipse cx="362.9" cy="755.9" rx="1.7" ry="1.3" fill="#444"/><ellipse cx="189.7" cy="748.6" rx="1.5" ry="1.1" fill="#333"/><ellipse cx="95.7" cy="800.1" rx="0.9" ry="0.9" fill="#2a2a2a"/><ellipse cx="366.3" cy="755.8" rx="1.0" ry="0.6" fill="#2a2a2a"/><ellipse cx="353.2" cy="756.8" rx="1.5" ry="1.5" fill="#222"/><ellipse cx="316.4" cy="753.6" rx="1.1" ry="0.9" fill="#555"/><ellipse cx="302.4" cy="755.1" rx="1.3" ry="1.1" fill="#333"/><ellipse cx="351.8" cy="753.8" rx="1.3" ry="1.0" fill="#333"/><ellipse cx="96.8" cy="801.4" rx="1.7" ry="1.5" fill="#444"/><ellipse cx="103.3" cy="791.0" rx="1.6" ry="1.3" fill="#333"/><ellipse cx="266.7" cy="751.1" rx="0.9" ry="0.8" fill="#333"/><ellipse cx="357.7" cy="756.5" rx="1.9" ry="1.6" fill="#222"/><ellipse cx="370.5" cy="753.8" rx="1.0" ry="0.7" fill="#222"/><ellipse cx="76.0" cy="816.8" rx="1.6" ry="1.4" fill="#2a2a2a"/><ellipse cx="295.8" cy="753.9" rx="1.9" ry="1.7" fill="#2a2a2a"/><ellipse cx="396.0" cy="752.2" rx="1.7" ry="1.6" fill="#555"/><ellipse cx="401.7" cy="750.8" rx="1.8" ry="1.4" fill="#555"/><ellipse cx="121.4" cy="780.9" rx="1.6" ry="1.2" fill="#222"/><ellipse cx="244.5" cy="749.1" rx="0.9" ry="0.6" fill="#555"/><ellipse cx="149.7" cy="766.5" rx="1.4" ry="1.0" fill="#444"/><ellipse cx="351.1" cy="757.7" rx="1.0" ry="0.7" fill="#444"/><ellipse cx="419.0" cy="748.3" rx="1.3" ry="0.9" fill="#555"/><ellipse cx="115.6" cy="783.3" rx="1.1" ry="0.7" fill="#333"/><ellipse cx="66.8" cy="825.9" rx="1.4" ry="0.9" fill="#2a2a2a"/><ellipse cx="335.7" cy="756.6" rx="1.0" ry="0.6" fill="#555"/><ellipse cx="342.7" cy="755.8" rx="1.2" ry="1.1" fill="#222"/><ellipse cx="290.6" cy="751.3" rx="0.8" ry="0.7" fill="#333"/><ellipse cx="74.8" cy="819.0" rx="0.9" ry="0.8" fill="#222"/><ellipse cx="286.2" cy="753.3" rx="2.1" ry="1.6" fill="#555"/><ellipse cx="156.9" cy="765.3" rx="2.0" ry="1.3" fill="#333"/><ellipse cx="348.5" cy="756.4" rx="1.7" ry="1.6" fill="#444"/><ellipse cx="292.0" cy="753.8" rx="1.5" ry="1.5" fill="#2a2a2a"/><ellipse cx="131.5" cy="777.2" rx="1.1" ry="0.9" fill="#444"/><ellipse cx="399.3" cy="754.0" rx="1.3" ry="1.3" fill="#555"/><ellipse cx="402.1" cy="752.0" rx="1.7" ry="1.2" fill="#2a2a2a"/><ellipse cx="220.0" cy="748.4" rx="2.0" ry="1.5" fill="#555"/><ellipse cx="178.8" cy="752.2" rx="2.0" ry="1.3" fill="#222"/><ellipse cx="116.3" cy="785.4" rx="1.1" ry="1.1" fill="#2a2a2a"/><ellipse cx="162.9" cy="760.0" rx="1.8" ry="1.4" fill="#333"/><ellipse cx="324.4" cy="757.1" rx="1.7" ry="1.5" fill="#333"/><ellipse cx="265.7" cy="750.7" rx="1.2" ry="0.9" fill="#333"/><ellipse cx="347.4" cy="754.6" rx="1.8" ry="1.7" fill="#555"/><ellipse cx="397.1" cy="751.3" rx="1.0" ry="0.9" fill="#444"/><ellipse cx="281.2" cy="751.2" rx="1.8" ry="1.5" fill="#222"/><ellipse cx="202.2" cy="746.8" rx="1.9" ry="1.9" fill="#333"/><ellipse cx="178.0" cy="754.8" rx="0.9" ry="0.7" fill="#444"/><ellipse cx="231.7" cy="747.8" rx="0.9" ry="0.8" fill="#444"/><ellipse cx="180.6" cy="755.3" rx="1.1" ry="0.8" fill="#333"/><ellipse cx="96.1" cy="803.2" rx="1.6" ry="1.5" fill="#444"/><ellipse cx="422.4" cy="746.0" rx="1.0" ry="0.7" fill="#444"/><ellipse cx="270.1" cy="752.2" rx="1.6" ry="1.1" fill="#222"/><ellipse cx="340.5" cy="757.1" rx="1.5" ry="1.1" fill="#444"/><ellipse cx="279.9" cy="753.7" rx="1.3" ry="0.9" fill="#333"/><ellipse cx="223.0" cy="748.0" rx="1.7" ry="1.5" fill="#222"/><ellipse cx="373.3" cy="753.2" rx="1.6" ry="1.0" fill="#2a2a2a"/><ellipse cx="330.9" cy="755.8" rx="1.6" ry="1.1" fill="#555"/><ellipse cx="272.0" cy="751.4" rx="1.2" ry="0.9" fill="#333"/><ellipse cx="369.9" cy="754.9" rx="1.0" ry="0.8" fill="#222"/><ellipse cx="368.0" cy="756.1" rx="2.0" ry="1.6" fill="#333"/><ellipse cx="389.0" cy="754.7" rx="1.0" ry="0.9" fill="#333"/><ellipse cx="140.9" cy="771.5" rx="1.4" ry="1.4" fill="#333"/><ellipse cx="257.2" cy="750.0" rx="1.0" ry="0.8" fill="#444"/><ellipse cx="68.7" cy="824.7" rx="1.1" ry="0.9" fill="#2a2a2a"/><ellipse cx="351.0" cy="754.3" rx="0.8" ry="0.6" fill="#2a2a2a"/><ellipse cx="130.4" cy="774.9" rx="1.4" ry="1.2" fill="#444"/><ellipse cx="88.6" cy="803.9" rx="1.1" ry="0.7" fill="#2a2a2a"/><ellipse cx="398.8" cy="751.4" rx="0.9" ry="0.8" fill="#333"/><ellipse cx="186.1" cy="748.1" rx="1.0" ry="0.6" fill="#222"/><ellipse cx="178.4" cy="754.0" rx="1.1" ry="0.9" fill="#2a2a2a"/><ellipse cx="300.4" cy="754.5" rx="1.2" ry="0.9" fill="#333"/><ellipse cx="459.4" cy="740.0" rx="1.9" ry="1.4" fill="#444"/><ellipse cx="359.7" cy="755.2" rx="1.6" ry="1.1" fill="#2a2a2a"/><ellipse cx="96.4" cy="796.7" rx="1.6" ry="1.1" fill="#2a2a2a"/><ellipse cx="456.8" cy="740.8" rx="1.3" ry="1.0" fill="#444"/><ellipse cx="164.6" cy="761.8" rx="1.5" ry="1.5" fill="#222"/><ellipse cx="210.5" cy="746.6" rx="1.9" ry="1.5" fill="#333"/><ellipse cx="420.0" cy="746.7" rx="1.7" ry="1.4" fill="#555"/><ellipse cx="146.4" cy="767.1" rx="1.8" ry="1.5" fill="#2a2a2a"/><ellipse cx="196.8" cy="748.4" rx="1.2" ry="1.1" fill="#333"/><ellipse cx="216.6" cy="747.9" rx="1.9" ry="1.4" fill="#333"/><ellipse cx="204.5" cy="747.1" rx="1.5" ry="1.3" fill="#2a2a2a"/><ellipse cx="463.8" cy="740.7" rx="1.2" ry="1.0" fill="#222"/><ellipse cx="186.8" cy="749.5" rx="1.0" ry="0.7" fill="#2a2a2a"/><ellipse cx="433.8" cy="745.5" rx="2.0" ry="1.6" fill="#333"/><ellipse cx="245.4" cy="749.0" rx="1.2" ry="1.1" fill="#444"/><ellipse cx="98.4" cy="798.1" rx="0.9" ry="0.6" fill="#222"/><ellipse cx="352.7" cy="754.4" rx="1.6" ry="1.4" fill="#555"/><ellipse cx="247.8" cy="749.5" rx="2.0" ry="1.4" fill="#222"/><ellipse cx="239.1" cy="747.3" rx="1.8" ry="1.2" fill="#333"/><ellipse cx="101.0" cy="796.6" rx="1.8" ry="1.3" fill="#555"/><ellipse cx="245.1" cy="747.8" rx="0.9" ry="0.6" fill="#333"/><ellipse cx="120.2" cy="781.3" rx="1.1" ry="1.0" fill="#333"/><ellipse cx="409.3" cy="752.1" rx="1.5" ry="1.2" fill="#555"/><ellipse cx="299.5" cy="753.9" rx="1.1" ry="1.0" fill="#555"/><ellipse cx="125.8" cy="778.9" rx="1.6" ry="1.3" fill="#444"/><ellipse cx="162.8" cy="762.2" rx="1.4" ry="0.8" fill="#333"/><ellipse cx="376.7" cy="755.8" rx="1.2" ry="0.7" fill="#2a2a2a"/><ellipse cx="181.8" cy="751.1" rx="2.0" ry="1.8" fill="#222"/><ellipse cx="419.3" cy="748.3" rx="1.0" ry="1.0" fill="#444"/><ellipse cx="131.4" cy="774.7" rx="1.9" ry="1.4" fill="#333"/><ellipse cx="74.1" cy="821.2" rx="1.0" ry="0.9" fill="#444"/><ellipse cx="248.3" cy="750.5" rx="1.8" ry="1.5" fill="#555"/><ellipse cx="67.3" cy="827.4" rx="1.7" ry="1.1" fill="#222"/><ellipse cx="353.2" cy="754.3" rx="1.7" ry="1.4" fill="#333"/><ellipse cx="264.6" cy="751.8" rx="1.8" ry="1.2" fill="#2a2a2a"/><ellipse cx="275.7" cy="751.0" rx="1.7" ry="1.5" fill="#444"/><ellipse cx="199.3" cy="747.5" rx="0.9" ry="0.8" fill="#555"/><ellipse cx="194.6" cy="749.2" rx="1.0" ry="1.0" fill="#444"/><ellipse cx="193.3" cy="749.4" rx="1.0" ry="0.7" fill="#555"/><ellipse cx="213.9" cy="747.2" rx="0.9" ry="0.7" fill="#222"/><ellipse cx="178.4" cy="754.2" rx="1.4" ry="1.0" fill="#555"/><ellipse cx="366.0" cy="755.1" rx="1.2" ry="1.2" fill="#333"/><ellipse cx="227.4" cy="747.4" rx="1.0" ry="0.9" fill="#333"/><ellipse cx="222.7" cy="748.5" rx="1.1" ry="0.8" fill="#333"/><ellipse cx="177.6" cy="755.5" rx="1.6" ry="1.4" fill="#444"/><ellipse cx="306.5" cy="755.3" rx="1.6" ry="1.5" fill="#444"/><ellipse cx="460.1" cy="740.6" rx="0.8" ry="0.8" fill="#444"/><ellipse cx="346.3" cy="755.6" rx="1.4" ry="1.4" fill="#555"/><ellipse cx="453.1" cy="740.8" rx="1.7" ry="1.4" fill="#2a2a2a"/><ellipse cx="194.5" cy="749.9" rx="1.1" ry="0.9" fill="#2a2a2a"/><ellipse cx="234.5" cy="748.2" rx="1.4" ry="1.3" fill="#2a2a2a"/><ellipse cx="459.6" cy="739.5" rx="0.9" ry="0.7" fill="#333"/><ellipse cx="371.6" cy="755.7" rx="1.0" ry="0.7" fill="#2a2a2a"/><ellipse cx="166.7" cy="761.4" rx="1.9" ry="1.5" fill="#555"/><ellipse cx="317.1" cy="754.0" rx="1.7" ry="1.6" fill="#2a2a2a"/><ellipse cx="215.0" cy="746.4" rx="2.0" ry="1.7" fill="#333"/><ellipse cx="293.6" cy="753.7" rx="1.7" ry="1.5" fill="#444"/><ellipse cx="216.5" cy="745.8" rx="1.9" ry="1.8" fill="#222"/><ellipse cx="290.4" cy="754.8" rx="1.5" ry="1.3" fill="#2a2a2a"/><ellipse cx="85.9" cy="809.0" rx="1.6" ry="1.3" fill="#2a2a2a"/><ellipse cx="225.4" cy="745.4" rx="0.8" ry="0.6" fill="#222"/><ellipse cx="444.0" cy="743.9" rx="1.2" ry="1.1" fill="#333"/><ellipse cx="143.1" cy="767.2" rx="1.1" ry="1.1" fill="#2a2a2a"/><ellipse cx="326.2" cy="754.4" rx="1.0" ry="0.9" fill="#2a2a2a"/><ellipse cx="160.8" cy="763.7" rx="1.9" ry="1.7" fill="#2a2a2a"/><ellipse cx="364.4" cy="753.8" rx="1.3" ry="1.1" fill="#333"/><ellipse cx="358.8" cy="756.2" rx="1.1" ry="0.9" fill="#555"/><ellipse cx="293.8" cy="752.9" rx="0.9" ry="0.9" fill="#555"/><ellipse cx="216.5" cy="748.4" rx="1.6" ry="1.4" fill="#555"/><ellipse cx="257.2" cy="747.9" rx="2.1" ry="1.3" fill="#444"/><ellipse cx="336.1" cy="755.9" rx="1.1" ry="1.0" fill="#444"/></g>
<path d="M134.7 857 C137 853.4 140.5 843.2 148.1 835.6 C155.7 828 169 818.2 180.1 811.6 C191.3 804.9 203.7 800.4 214.8 795.6 C226 790.7 234.9 786.7 246.9 782.2 C258.9 777.8 275.8 772 286.9 768.9 C298 765.7 304.7 765.3 313.6 763.5 C322.5 761.7 335.8 759.1 340.3 758.2" fill="none" stroke="#cccccc" stroke-width="6" filter="url(#b2)"/>
<path d="M134.7 857 C137 853.4 140.5 843.2 148.1 835.6 C155.7 828 169 818.2 180.1 811.6 C191.3 804.9 203.7 800.4 214.8 795.6 C226 790.7 234.9 786.7 246.9 782.2 C258.9 777.8 275.8 772 286.9 768.9 C298 765.7 304.7 765.3 313.6 763.5 C322.5 761.7 335.8 759.1 340.3 758.2" fill="none" stroke="#555" stroke-width="1.3" opacity="0.6"/>
<g filter="url(#b1)"><ellipse cx="176.7" cy="810.5" rx="0.9" ry="0.8" fill="#333"/><ellipse cx="186.0" cy="809.4" rx="1.2" ry="1.2" fill="#222"/><ellipse cx="250.7" cy="780.0" rx="1.0" ry="0.9" fill="#444"/><ellipse cx="186.0" cy="806.8" rx="1.5" ry="1.1" fill="#333"/><ellipse cx="228.3" cy="786.3" rx="0.9" ry="0.8" fill="#2a2a2a"/><ellipse cx="145.4" cy="838.8" rx="1.6" ry="1.2" fill="#222"/><ellipse cx="206.3" cy="798.9" rx="1.3" ry="0.9" fill="#333"/><ellipse cx="203.0" cy="798.2" rx="1.7" ry="1.1" fill="#2a2a2a"/><ellipse cx="304.4" cy="765.8" rx="0.9" ry="0.6" fill="#222"/><ellipse cx="137.6" cy="852.3" rx="0.9" ry="0.8" fill="#333"/><ellipse cx="225.3" cy="791.7" rx="0.8" ry="0.6" fill="#2a2a2a"/><ellipse cx="335.9" cy="759.9" rx="1.0" ry="0.9" fill="#555"/><ellipse cx="333.3" cy="759.9" rx="2.1" ry="1.8" fill="#222"/><ellipse cx="160.1" cy="826.6" rx="1.2" ry="0.9" fill="#333"/><ellipse cx="178.3" cy="816.1" rx="1.1" ry="0.9" fill="#555"/><ellipse cx="229.2" cy="788.2" rx="1.6" ry="1.1" fill="#333"/><ellipse cx="138.4" cy="851.9" rx="1.0" ry="0.8" fill="#444"/><ellipse cx="138.1" cy="850.4" rx="1.1" ry="0.8" fill="#222"/><ellipse cx="137.4" cy="851.6" rx="1.3" ry="1.3" fill="#222"/><ellipse cx="250.4" cy="781.1" rx="0.9" ry="0.9" fill="#2a2a2a"/><ellipse cx="300.7" cy="764.6" rx="1.8" ry="1.5" fill="#444"/><ellipse cx="288.7" cy="771.0" rx="1.5" ry="1.0" fill="#333"/><ellipse cx="326.2" cy="760.4" rx="1.9" ry="1.4" fill="#555"/><ellipse cx="230.0" cy="789.5" rx="1.5" ry="1.2" fill="#333"/><ellipse cx="176.6" cy="813.2" rx="1.0" ry="0.9" fill="#333"/><ellipse cx="184.2" cy="809.6" rx="1.9" ry="1.4" fill="#555"/><ellipse cx="230.7" cy="789.2" rx="2.0" ry="1.4" fill="#444"/><ellipse cx="155.8" cy="828.2" rx="1.5" ry="1.2" fill="#222"/><ellipse cx="339.8" cy="758.5" rx="1.3" ry="1.0" fill="#2a2a2a"/><ellipse cx="260.2" cy="778.8" rx="1.0" ry="0.9" fill="#333"/><ellipse cx="176.0" cy="814.1" rx="1.4" ry="1.0" fill="#222"/><ellipse cx="308.2" cy="763.4" rx="0.8" ry="0.6" fill="#333"/><ellipse cx="195.1" cy="804.7" rx="0.8" ry="0.7" fill="#333"/><ellipse cx="187.2" cy="809.3" rx="1.1" ry="0.8" fill="#222"/><ellipse cx="152.7" cy="833.2" rx="1.3" ry="0.8" fill="#444"/><ellipse cx="272.2" cy="774.3" rx="1.9" ry="1.2" fill="#444"/><ellipse cx="236.7" cy="787.7" rx="0.9" ry="0.6" fill="#555"/><ellipse cx="187.1" cy="807.8" rx="1.6" ry="1.2" fill="#2a2a2a"/><ellipse cx="199.2" cy="801.4" rx="1.2" ry="1.0" fill="#333"/><ellipse cx="305.1" cy="764.5" rx="1.8" ry="1.5" fill="#222"/><ellipse cx="135.8" cy="850.4" rx="0.9" ry="0.9" fill="#555"/><ellipse cx="329.0" cy="760.9" rx="1.3" ry="0.8" fill="#222"/><ellipse cx="194.9" cy="805.3" rx="0.8" ry="0.8" fill="#2a2a2a"/><ellipse cx="319.0" cy="764.1" rx="1.9" ry="1.8" fill="#555"/><ellipse cx="165.8" cy="823.0" rx="0.9" ry="0.8" fill="#555"/><ellipse cx="214.1" cy="796.7" rx="1.2" ry="1.0" fill="#333"/><ellipse cx="336.4" cy="758.1" rx="1.2" ry="1.0" fill="#555"/><ellipse cx="274.2" cy="773.6" rx="1.5" ry="1.4" fill="#444"/><ellipse cx="256.5" cy="779.4" rx="1.8" ry="1.4" fill="#2a2a2a"/><ellipse cx="311.1" cy="765.1" rx="1.7" ry="1.7" fill="#555"/><ellipse cx="134.4" cy="855.1" rx="0.9" ry="0.7" fill="#555"/><ellipse cx="311.1" cy="764.1" rx="1.0" ry="0.9" fill="#2a2a2a"/><ellipse cx="274.7" cy="775.0" rx="1.8" ry="1.1" fill="#222"/><ellipse cx="185.2" cy="808.1" rx="1.2" ry="1.0" fill="#2a2a2a"/><ellipse cx="329.3" cy="759.0" rx="1.8" ry="1.6" fill="#555"/><ellipse cx="332.2" cy="761.6" rx="0.9" ry="0.9" fill="#222"/><ellipse cx="229.8" cy="790.9" rx="1.1" ry="0.7" fill="#2a2a2a"/><ellipse cx="257.0" cy="778.0" rx="1.1" ry="0.9" fill="#555"/><ellipse cx="179.9" cy="812.7" rx="1.1" ry="0.8" fill="#222"/><ellipse cx="193.8" cy="805.6" rx="0.9" ry="0.7" fill="#555"/><ellipse cx="149.8" cy="834.1" rx="1.6" ry="1.4" fill="#2a2a2a"/><ellipse cx="177.4" cy="816.7" rx="1.5" ry="1.2" fill="#555"/><ellipse cx="239.3" cy="786.4" rx="2.1" ry="1.3" fill="#2a2a2a"/><ellipse cx="139.3" cy="847.3" rx="1.1" ry="1.0" fill="#222"/><ellipse cx="332.5" cy="759.8" rx="1.1" ry="0.9" fill="#555"/><ellipse cx="282.7" cy="769.8" rx="2.0" ry="1.3" fill="#444"/><ellipse cx="138.2" cy="855.9" rx="2.1" ry="1.7" fill="#555"/><ellipse cx="304.0" cy="765.1" rx="1.9" ry="1.5" fill="#444"/><ellipse cx="241.8" cy="785.0" rx="1.2" ry="1.0" fill="#444"/><ellipse cx="261.6" cy="779.3" rx="1.9" ry="1.9" fill="#222"/><ellipse cx="236.1" cy="786.8" rx="1.7" ry="1.0" fill="#444"/><ellipse cx="181.0" cy="808.8" rx="1.0" ry="0.9" fill="#444"/><ellipse cx="197.1" cy="804.6" rx="1.3" ry="1.3" fill="#222"/><ellipse cx="329.6" cy="760.6" rx="1.2" ry="0.8" fill="#444"/><ellipse cx="142.0" cy="843.8" rx="1.1" ry="1.1" fill="#555"/><ellipse cx="276.3" cy="773.1" rx="1.2" ry="1.0" fill="#222"/><ellipse cx="168.4" cy="818.6" rx="1.5" ry="1.3" fill="#555"/><ellipse cx="211.6" cy="797.5" rx="2.0" ry="1.3" fill="#222"/><ellipse cx="147.8" cy="838.9" rx="0.9" ry="0.8" fill="#444"/><ellipse cx="272.0" cy="772.8" rx="1.1" ry="0.9" fill="#555"/><ellipse cx="137.7" cy="852.4" rx="0.9" ry="0.7" fill="#333"/><ellipse cx="324.7" cy="761.5" rx="1.8" ry="1.8" fill="#333"/><ellipse cx="236.9" cy="785.6" rx="0.9" ry="0.7" fill="#333"/><ellipse cx="140.8" cy="844.5" rx="1.3" ry="0.9" fill="#555"/><ellipse cx="137.1" cy="849.9" rx="1.2" ry="1.2" fill="#555"/><ellipse cx="151.7" cy="834.3" rx="1.5" ry="1.3" fill="#2a2a2a"/><ellipse cx="266.6" cy="777.3" rx="1.3" ry="1.2" fill="#222"/><ellipse cx="180.3" cy="812.6" rx="0.9" ry="0.9" fill="#555"/><ellipse cx="255.0" cy="777.9" rx="1.0" ry="0.7" fill="#555"/><ellipse cx="220.9" cy="791.5" rx="0.9" ry="0.6" fill="#444"/><ellipse cx="313.6" cy="762.3" rx="1.0" ry="0.7" fill="#222"/><ellipse cx="143.6" cy="840.0" rx="1.6" ry="1.5" fill="#222"/><ellipse cx="161.4" cy="825.3" rx="1.6" ry="1.1" fill="#444"/></g>
<rect x="68" y="594.4" width="396.2" height="296" fill="#000" filter="url(#grain)" opacity="0.12"/>
</g>
<text x="72.2" y="623.8" font-size="35.5">saline</text>
<rect x="413.4" y="877.1" width="44.3" height="8.2" fill="#111"/>
<g clip-path="url(#cc2)">
<rect x="68" y="899" width="396.2" height="296" fill="#d8d8d8"/>
<path d="M60 975.1 C73.3 935 108.9 952.4 140.1 943.1 C171.2 933.7 211.3 922.1 246.9 919 C282.5 915.9 322.5 917.2 353.6 924.4 C384.8 931.5 414.6 951.1 433.7 961.7 C452.9 972.4 462.7 952.8 468.4 988.4 C474.2 1024 483.1 1143.7 468.4 1175.3 C453.8 1206.9 412.8 1178.4 380.3 1178 C347.9 1177.5 309.2 1172.6 273.6 1172.6 C238 1172.6 202.4 1176.2 166.8 1178 C131.2 1179.7 77.8 1217.1 60 1183.3 C42.2 1149.5 46.7 1015.1 60 975.1Z" fill="#ededed" filter="url(#b4)"/>
<path d="M86.7 1007.1 C101.8 989.3 140.1 982.6 166.8 975.1 C193.5 967.5 220.2 962.6 246.9 961.7 C273.6 960.8 300.3 963.1 327 969.7 C353.6 976.4 387 992 407 1001.8 C427.1 1011.6 442.6 1015.1 447.1 1028.5 C451.5 1041.8 449.3 1076.5 433.7 1081.9 C418.2 1087.2 384.8 1066.7 353.6 1060.5 C322.5 1054.3 282.5 1042.7 246.9 1044.5 C211.3 1046.3 168.6 1065 140.1 1071.2 C111.6 1077.4 84.9 1092.5 76 1081.9 C67.1 1071.2 71.6 1024.9 86.7 1007.1Z" fill="#f2f2f2" filter="url(#b8)"/>
<path d="M153.4 1175.3 C169 1172.6 220.2 1178 246.9 1178 C273.6 1178 302.5 1172.6 313.6 1175.3 C324.7 1178 340.3 1190.9 313.6 1194 C286.9 1197.1 180.1 1197.1 153.4 1194 C126.7 1190.9 137.9 1178 153.4 1175.3Z" fill="#f4f4f4" filter="url(#b4)"/>
<path d="M105.0 1068.8 L104.5 1063.0 L103.5 1057.2 L100.7 1052.0 L98.4 1046.5 L98.7 1040.6M103.5 1057.2L106.8 1044.5M301.5 1027.6 L303.3 1023.5 L304.7 1019.2 L304.5 1014.8 L305.3 1010.4 L305.8 1005.9 L307.8 1001.9M215.4 1029.4 L211.7 1020.0 L210.3 1010.1 L210.1 1000.0 L210.6 989.9 L206.8 980.6 L206.4 970.5M210.6 989.9L211.3 963.5M210.6 989.9L199.9 968.2M297.3 1027.1 L295.8 1021.5 L294.5 1015.9 L295.6 1010.2 L294.9 1004.5 L294.8 998.7 L294.4 992.9M291.5 1027.1 L291.7 1014.8 L294.1 1002.6 L295.7 990.3 L299.8 978.7 L304.8 967.3M139.6 1055.4 L139.2 1046.1 L138.2 1036.9 L141.4 1028.1 L140.9 1018.9M141.4 1028.1L146.0 1015.6M141.4 1028.1L148.2 1015.2M208.1 1030.9 L210.9 1019.3 L211.2 1007.4 L212.6 995.6 L215.9 984.2M211.2 1007.4L216.9 985.3M212.6 995.6L207.8 982.6M80.4 1077.6 L81.8 1073.9 L83.5 1070.2 L84.6 1066.4 L85.6 1062.5 L85.3 1058.5 L86.2 1054.6M133.4 1057.8 L131.9 1047.5 L128.0 1037.8 L129.2 1027.5 L125.6 1017.7 L125.0 1007.3 L121.8 997.4M107.9 1067.8 L109.1 1057.4 L110.1 1047.0 L108.0 1036.7M110.1 1047.0L103.2 1033.3M110.1 1047.0L106.7 1036.6M81.0 1077.4 L82.7 1060.8 L78.3 1044.7 L75.5 1028.3M78.3 1044.7L81.6 1024.6M228.2 1028.2 L231.0 1020.1 L234.2 1012.0 L234.7 1003.4 L235.5 994.8 L238.2 986.6M142.7 1054.1 L145.2 1043.9 L148.2 1033.9 L149.5 1023.5M266.2 1027.1 L266.9 1013.6 L261.2 1001.2 L256.1 988.6M261.2 1001.2L253.3 989.7M156.7 1048.5 L164.2 1034.8 L169.5 1020.1 L170.5 1004.6 L170.7 988.9M116.1 1064.8 L115.2 1054.8 L113.6 1044.8 L113.5 1034.8 L114.1 1024.8 L117.2 1015.2 L120.4 1005.7M146.3 1052.7 L143.7 1043.5 L142.9 1033.9 L140.5 1024.6 L141.2 1015.0 L138.6 1005.8 L139.2 996.2M130.3 1059.1 L130.8 1054.1 L130.2 1049.1 L130.4 1044.1 L130.1 1039.1 L130.7 1034.1M130.2 1049.1L126.8 1040.2M310.1 1030.6 L310.5 1017.1 L310.8 1003.7 L310.9 990.2 L312.7 976.9M310.5 1017.1L318.1 996.5M310.9 990.2L305.7 977.4M116.4 1064.6 L116.2 1048.4 L115.9 1032.1 L113.4 1016.1M114.6 1065.4 L114.6 1059.9 L113.4 1054.5 L112.9 1049.1 L111.7 1043.7 L110.2 1038.4 L108.8 1033.1M110.2 1038.4L105.9 1030.8M225.3 1028.3 L223.6 1011.5 L219.6 995.1 L220.5 978.2M219.6 995.1L220.1 978.8M223.6 1011.5L228.1 996.6M287.4 1027.1 L288.5 1013.8 L290.5 1000.6 L295.0 987.9M290.5 1000.6L284.3 984.3M290.5 1000.6L288.0 981.3M83.1 1076.7 L81.1 1060.9 L78.4 1045.2 L74.8 1029.6 L70.6 1014.3M103.9 1069.2 L105.5 1050.8 L108.5 1032.6 L105.5 1014.4M205.6 1031.4 L206.2 1022.3 L203.0 1013.7 L200.5 1005.0 L200.0 995.8 L196.6 987.3M269.5 1027.1 L274.0 1016.5 L278.0 1005.7 L278.4 994.1 L281.4 983.0M274.0 1016.5L270.8 1005.0M218.5 1028.8 L219.6 1023.6 L219.7 1018.3 L218.9 1013.0 L217.3 1007.9 L218.4 1002.7 L217.8 997.4M218.4 1002.7L212.6 991.1M219.6 1023.6L216.0 1010.1M231.7 1028.1 L229.0 1014.5 L230.7 1000.7 L226.4 987.6M244.3 1027.7 L242.2 1020.1 L241.9 1012.3 L241.1 1004.4 L241.3 996.6 L241.9 988.7M242.2 1020.1L245.7 1008.9M241.1 1004.4L244.8 992.2M154.7 1049.3 L155.0 1036.3 L155.6 1023.3 L157.0 1010.3 L154.7 997.5M155.0 1036.3L141.4 1016.6M155.6 1023.3L156.7 998.1M193.5 1033.8 L194.6 1025.5 L193.0 1017.2 L191.9 1008.8 L189.7 1000.7 L189.6 992.3M191.9 1008.8L186.4 998.1M189.7 1000.7L182.5 983.1M283.5 1027.1 L282.3 1019.3 L283.9 1011.6 L283.1 1003.8 L285.8 996.4M229.0 1028.2 L228.2 1015.9 L226.0 1003.8 L221.4 992.5 L221.7 980.2M305.8 1029.1 L308.9 1023.0 L310.1 1016.3 L310.9 1009.5 L314.1 1003.5 L317.5 997.5 L317.4 990.7M273.3 1027.1 L268.8 1017.6 L266.3 1007.3 L263.7 997.1M268.8 1017.6L263.0 1009.3M268.8 1017.6L270.3 1003.9M324.4 1035.6 L328.0 1021.7 L329.1 1007.3 L328.0 993.0M122.4 1062.2 L123.5 1044.3 L126.5 1026.6 L126.4 1008.6M267.6 1027.1 L267.9 1019.6 L267.5 1012.0 L264.9 1004.9 L264.6 997.3 L264.1 989.8M164.9 1045.2 L164.8 1036.5 L165.3 1027.7 L163.4 1019.2M105.7 1068.6 L107.4 1061.1 L107.7 1053.5 L105.5 1046.1 L107.4 1038.7M290.8 1027.1 L289.0 1020.2 L287.9 1013.0 L286.6 1006.0 L285.6 998.8 L283.4 991.9M289.0 1020.2L280.5 1007.4M285.6 998.8L288.9 984.7M173.0 1042.0 L170.2 1030.2 L166.5 1018.6 L166.0 1006.5M166.5 1018.6L158.1 1002.7M170.2 1030.2L173.0 1019.6M173.5 1041.8 L173.4 1031.0 L173.5 1020.2 L170.6 1009.8 L171.8 999.1M173.4 1031.0L177.2 1017.0M173.4 1031.0L177.9 1018.8M173.6 1041.8 L176.3 1026.1 L177.4 1010.2 L178.9 994.4M203.4 1031.8 L201.7 1025.2 L200.1 1018.5 L197.0 1012.4 L194.3 1006.2M201.7 1025.2L202.8 1014.9M201.7 1025.2L203.5 1017.6M159.1 1047.6 L159.6 1042.4 L159.6 1037.3 L161.5 1032.5 L160.9 1027.4 L162.3 1022.4 L162.4 1017.3M161.5 1032.5L165.2 1024.0M159.6 1042.4L164.5 1032.5M194.6 1033.6 L196.9 1023.8 L195.9 1013.8 L195.9 1003.7 L198.2 993.9 L200.4 984.1M196.9 1023.8L193.3 1007.2M198.2 993.9L203.8 981.6M283.4 1027.1 L286.7 1019.5 L287.6 1011.2 L288.8 1003.0M286.7 1019.5L285.5 1011.2M284.7 1027.1 L287.2 1013.4 L287.5 999.4 L291.9 986.1 L297.0 973.1M287.5 999.4L296.4 975.7M287.5 999.4L298.1 978.2M132.5 1058.2 L136.6 1045.0 L140.2 1031.7 L144.4 1018.5 L149.7 1005.7M136.6 1045.0L130.4 1024.6M136.6 1045.0L131.4 1020.5M200.2 1032.5 L198.2 1023.3 L196.9 1014.0 L197.4 1004.7 L197.6 995.3 L197.6 986.0M196.9 1014.0L185.7 995.5M195.0 1033.5 L195.7 1028.0 L196.9 1022.7 L197.6 1017.2 L197.7 1011.7 L196.1 1006.4 L195.9 1000.9M214.5 1029.6 L212.4 1020.5 L214.3 1011.3 L212.7 1002.1 L209.7 993.2 L211.6 984.1 L212.2 974.7M209.7 993.2L214.7 966.6M212.4 1020.5L206.4 1006.1M144.5 1053.4 L145.8 1048.3 L146.8 1043.1 L148.3 1038.0 L148.9 1032.7 L150.9 1027.8 L151.9 1022.6M94.0 1072.8 L91.5 1063.0 L92.5 1052.9 L89.6 1043.3 L89.6 1033.2 L91.2 1023.2M89.6 1033.2L84.6 1019.3M276.7 1027.1 L275.9 1021.9 L276.9 1016.7 L278.7 1011.7 L278.3 1006.5 L278.1 1001.2M278.7 1011.7L275.9 1001.9M100.3 1070.5 L104.2 1062.1 L106.2 1053.0 L110.3 1044.6 L111.1 1035.4M110.3 1044.6L106.1 1029.6M250.5 1027.5 L250.8 1018.3 L249.4 1009.3 L248.0 1000.2M267.4 1027.1 L268.7 1021.6 L269.9 1015.9 L271.6 1010.4 L271.1 1004.7 L271.3 999.0 L273.0 993.5M271.6 1010.4L267.0 997.7M103.7 1069.3 L99.2 1058.8 L99.0 1047.4 L97.6 1036.1M206.9 1031.1 L208.1 1025.7 L208.4 1020.1 L210.2 1014.7 L212.0 1009.4 L212.8 1003.8M208.4 1020.1L204.4 1008.8M212.0 1009.4L215.3 1000.3M120.2 1063.1 L120.3 1053.0 L122.7 1043.1 L123.1 1033.0 L125.4 1023.2 L126.1 1013.0M123.1 1033.0L131.4 1017.7M131.5 1058.6 L134.6 1048.6 L135.7 1038.2 L135.9 1027.7 L133.2 1017.6 L131.1 1007.4 L134.1 997.4M134.6 1048.6L142.5 1024.6M118.3 1063.9 L119.9 1059.4 L120.6 1054.8 L121.9 1050.2 L123.2 1045.7 L122.4 1041.0 L121.7 1036.3M120.6 1054.8L127.2 1044.3M96.6 1071.8 L95.5 1065.0 L95.3 1058.1 L97.5 1051.5 L98.7 1044.7 L99.0 1037.7 L101.3 1031.2M95.3 1058.1L100.3 1046.2M95.5 1065.0L89.1 1048.1M283.2 1027.1 L288.0 1007.6 L296.6 989.4 L302.5 970.2M296.6 989.4L302.8 973.2M295.4 1027.1 L297.0 1022.0 L297.6 1016.6 L297.4 1011.2 L299.1 1006.1 L298.8 1000.7M313.2 1031.7 L313.4 1022.2 L310.9 1013.0 L310.8 1003.5 L310.5 994.1 L311.5 984.6 L310.9 975.2M310.9 1013.0L317.1 991.9M87.7 1075.0 L83.2 1061.1 L83.5 1046.4 L80.0 1032.2M163.0 1046.0 L164.5 1037.2 L164.2 1028.2 L164.5 1019.3 L162.4 1010.6 L161.6 1001.7M91.8 1073.5 L89.7 1060.9 L84.9 1048.9 L87.2 1036.3 L88.9 1023.5 L86.3 1010.9M88.9 1023.5L93.3 1005.7M89.7 1060.9L97.0 1031.7M134.2 1057.5 L140.2 1039.7 L147.8 1022.6 L148.6 1003.9M140.2 1039.7L134.5 1016.6M140.2 1039.7L138.2 1024.2M81.2 1077.4 L82.4 1066.7 L82.1 1056.0 L81.0 1045.4 L80.0 1034.7M81.0 1045.4L76.9 1024.7M305.5 1029.0 L302.0 1009.1 L303.0 989.0 L302.8 968.8M302.0 1009.1L310.1 983.1M168.3 1043.9 L169.7 1036.5 L172.0 1029.4 L174.5 1022.4 L175.4 1015.0 L176.6 1007.6M169.7 1036.5L169.4 1022.2M169.7 1036.5L166.9 1027.1M215.6 1029.4 L218.3 1008.3 L212.2 988.0 L213.1 966.7M97.7 1071.4 L96.7 1057.0 L93.3 1043.0 L95.0 1028.6 L94.3 1014.1M191.3 1034.7 L191.0 1027.1 L191.1 1019.5 L194.0 1012.5 L194.4 1004.9 L196.2 997.6M107.0 1068.1 L105.8 1055.6 L107.1 1043.1 L105.1 1030.7 L102.3 1018.5M105.1 1030.7L97.5 1015.8M193.8 1033.7 L194.4 1020.9 L197.5 1008.3 L201.3 996.0 L206.2 984.1 L205.3 971.2M194.4 1020.9L186.1 996.5M194.4 1020.9L191.5 991.6M89.1 1074.5 L89.0 1059.2 L86.4 1044.1 L87.9 1028.8M89.0 1059.2L83.9 1042.4M92.3 1073.4 L91.5 1062.6 L89.0 1052.1 L85.6 1041.8 L88.1 1031.3 L88.4 1020.5M196.3 1033.2 L197.7 1025.8 L195.6 1018.5 L194.8 1011.0 L193.9 1003.5M195.6 1018.5L189.4 1007.1M195.6 1018.5L191.2 1008.4M166.2 1044.7 L164.4 1037.2 L162.1 1029.7 L159.9 1022.3 L160.9 1014.5M164.4 1037.2L167.4 1027.4M288.4 1027.1 L285.6 1021.0 L284.5 1014.3 L281.9 1008.0 L281.5 1001.3 L280.3 994.6M284.5 1014.3L287.7 999.8M268.4 1027.1 L269.3 1019.0 L270.3 1010.9 L274.0 1003.7 L278.2 996.7M270.3 1010.9L268.1 1002.2M269.3 1019.0L269.3 1009.1M147.2 1052.3 L145.5 1043.0 L144.1 1033.7 L141.6 1024.6 L141.7 1015.2M145.5 1043.0L145.7 1027.0M92.9 1073.2 L91.0 1065.1 L87.9 1057.4 L85.4 1049.5 L84.5 1041.2 L81.2 1033.7 L78.6 1025.8M91.0 1065.1L92.4 1045.3M84.5 1041.2L73.9 1024.0M214.3 1029.6 L212.8 1022.2 L213.1 1014.6 L212.9 1007.1 L213.9 999.6 L213.4 992.0 L214.7 984.5M212.8 1022.2L207.8 1009.5M171.8 1042.5 L173.4 1032.8 L176.8 1023.6 L178.6 1014.0 L177.7 1004.2 L179.7 994.6 L183.2 985.5M174.2 1041.5 L175.1 1029.9 L176.8 1018.4 L174.6 1006.9 L171.4 995.7M176.8 1018.4L184.6 1001.3M104.8 1068.9 L105.9 1062.0 L107.2 1055.1 L106.8 1048.1 L106.7 1041.1 L108.8 1034.4 L111.7 1028.1M213.6 1029.8 L212.2 1021.6 L213.5 1013.5 L213.0 1005.2 L214.1 997.0 L210.9 989.4 L207.7 981.8M214.1 997.0L207.5 981.9M221.4 1028.4 L220.7 1021.3 L218.7 1014.5 L217.0 1007.6 L216.5 1000.5M251.8 1027.4 L254.5 1017.2 L254.8 1006.7 L253.1 996.4 L256.0 986.2M80.9 1077.5 L83.8 1064.7 L86.1 1051.8 L89.1 1039.1M83.8 1064.7L88.0 1053.2M83.8 1064.7L86.4 1052.6M163.3 1045.9 L164.8 1035.0 L165.1 1024.0 L164.1 1013.1 L164.2 1002.1M120.8 1062.9 L120.4 1049.7 L121.3 1036.6 L120.0 1023.5 L117.4 1010.5M120.0 1023.5L107.7 1003.8M120.4 1049.7L122.4 1027.1M196.9 1033.1 L199.0 1024.6 L199.6 1015.9 L202.6 1007.6 L204.5 999.0 L205.4 990.3 L208.1 981.9M199.0 1024.6L210.8 1002.5M271.3 1027.1 L273.2 1017.2 L274.1 1007.2 L275.0 997.1 L275.1 987.1 L275.4 977.0M275.1 987.1L271.8 967.0M275.0 997.1L286.9 976.5M150.3 1051.1 L152.3 1042.7 L156.0 1034.8 L157.3 1026.3 L159.6 1017.9 L159.2 1009.3M139.1 1055.5 L138.9 1048.2 L139.2 1040.9 L137.3 1033.8 L137.8 1026.5 L138.6 1019.2 L138.8 1011.9M137.3 1033.8L128.8 1018.2M161.9 1046.5 L162.8 1037.6 L161.0 1028.8 L162.2 1019.9M219.0 1028.7 L217.3 1020.4 L214.4 1012.4 L214.8 1003.9 L215.9 995.5 L215.2 987.0 L215.3 978.5M215.9 995.5L204.1 976.7M217.3 1020.4L210.0 1006.8M325.0 1035.8 L329.7 1022.7 L329.9 1008.7 L331.6 994.9M310.6 1030.8 L307.5 1009.4 L309.6 987.9 L315.2 967.0M238.5 1027.9 L236.4 1019.4 L234.9 1010.9 L236.0 1002.2 L235.5 993.5 L232.5 985.4M304.2 1028.5 L304.9 1016.3 L309.3 1004.9 L308.0 992.7 L308.5 980.5 L308.3 968.2M304.9 1016.3L297.0 992.4M266.4 1027.1 L265.8 1015.6 L266.2 1004.0 L264.2 992.7 L266.1 981.2 L266.5 969.7M265.8 1015.6L254.5 989.7M265.8 1015.6L274.8 989.2M183.5 1037.8 L181.9 1029.6 L181.0 1021.2 L183.9 1013.4 L185.4 1005.1 L188.4 997.3M183.9 1013.4L188.9 998.3M181.0 1021.2L189.6 1004.5M186.8 1036.5 L188.0 1031.1 L187.4 1025.6 L189.4 1020.5 L191.2 1015.2 L192.4 1009.8 L191.9 1004.3M190.2 1035.1 L192.8 1027.6 L191.5 1019.8 L191.2 1011.8 L190.5 1003.9 L192.5 996.2 L194.1 988.4M190.5 1003.9L197.3 982.5M192.8 1027.6L201.5 1007.1M110.5 1066.9 L111.4 1057.0 L109.8 1047.3 L105.8 1038.3 L103.0 1028.8 L98.5 1020.1M103.0 1028.8L93.4 1010.6M105.8 1038.3L107.1 1020.6M120.9 1062.9 L119.2 1055.1 L116.3 1047.8 L113.3 1040.5 L112.9 1032.6 L110.7 1025.0 L108.2 1017.6M182.1 1038.4 L180.2 1032.7 L179.7 1026.8 L179.1 1020.9 L177.7 1015.2 L178.3 1009.3M179.1 1020.9L184.0 1007.5M263.9 1027.1 L260.7 1020.0 L258.6 1012.4 L259.0 1004.6M260.7 1020.0L254.3 1011.6M135.8 1056.9 L138.1 1050.8 L140.3 1044.7 L140.3 1038.2 L141.6 1031.8 L143.9 1025.7M140.3 1038.2L147.6 1025.9M140.3 1038.2L137.0 1030.2M104.4 1069.0 L103.6 1064.0 L101.9 1059.2 L102.4 1054.1 L101.3 1049.1 L100.1 1044.2M101.3 1049.1L97.6 1040.0M102.4 1054.1L103.4 1046.6M290.4 1027.1 L289.0 1017.3 L288.6 1007.4 L288.2 997.5 L287.5 987.6M288.6 1007.4L282.0 996.0M288.6 1007.4L285.2 997.5" fill="none" stroke="#3a3a3a" stroke-width="0.7" opacity="0.55"/>
<path d="M313.9 1062.9 L312.5 1073.6 L313.2 1084.4 L312.3 1095.2 L307.4 1104.8M291.4 1061.8 L293.8 1069.8 L294.6 1078.0 L294.5 1086.3M318.7 1063.2 L320.0 1076.5 L318.7 1089.9 L318.9 1103.2M320.0 1076.5L323.1 1093.7M336.8 1064.6 L335.8 1071.4 L337.7 1078.1 L338.2 1085.0 L339.7 1091.7M335.8 1071.4L331.4 1081.5M436.5 1088.3 L436.1 1092.6 L436.1 1097.0 L436.0 1101.3 L433.8 1105.0M436.1 1097.0L437.2 1101.9M304.2 1062.1 L304.3 1071.9 L302.1 1081.4 L300.8 1091.0 L300.0 1100.7M363.4 1067.8 L362.9 1072.4 L363.8 1076.9 L365.1 1081.4 L366.2 1085.9M363.8 1076.9L366.2 1081.4M359.6 1067.0 L360.3 1071.1 L361.0 1075.2 L362.6 1079.0 L363.0 1083.1 L363.0 1087.2 L362.7 1091.4M361.0 1075.2L365.0 1080.6M267.6 1061.8 L268.0 1067.1 L267.2 1072.3 L266.3 1077.6 L266.3 1082.8 L267.2 1088.1 L265.1 1092.9M417.5 1080.7 L418.3 1086.3 L418.7 1091.9 L419.4 1097.5 L418.3 1103.0 L417.2 1108.5 L418.2 1114.1M265.9 1061.8 L267.1 1071.4 L266.6 1080.9 L266.3 1090.5M266.6 1080.9L265.0 1089.1M223.4 1068.0 L224.3 1073.1 L225.1 1078.3 L224.7 1083.5 L225.1 1088.7 L225.3 1093.9M225.1 1078.3L221.4 1084.7M317.5 1063.1 L318.4 1068.9 L320.8 1074.2 L323.0 1079.6 L323.8 1085.4 L324.3 1091.2 L326.8 1096.4M320.8 1074.2L329.4 1088.2M323.8 1085.4L328.9 1092.8M335.9 1064.5 L333.5 1070.3 L331.2 1076.1 L329.0 1082.0 L327.3 1088.0 L325.5 1094.1 L324.2 1100.2M327.3 1088.0L322.0 1095.9M262.9 1061.8 L259.5 1069.1 L257.5 1076.8 L258.4 1084.8 L256.6 1092.5M259.5 1069.1L255.8 1076.5M259.5 1069.1L254.4 1081.4M338.9 1064.7 L338.4 1067.9 L338.5 1071.2 L338.9 1074.4 L338.8 1077.7 L339.7 1080.8 L339.3 1084.0M338.9 1074.4L337.2 1080.7M423.1 1082.9 L424.0 1094.1 L422.3 1105.2 L423.7 1116.4 L424.2 1127.6M423.7 1116.4L420.4 1131.3M424.8 1083.6 L424.2 1094.1 L420.9 1104.1 L421.0 1114.6M420.9 1104.1L421.9 1118.6M424.2 1094.1L424.3 1109.1M258.2 1062.2 L259.9 1070.6 L260.2 1079.1 L260.6 1087.7M260.2 1079.1L258.8 1089.7M402.3 1075.6 L406.6 1087.3 L411.7 1098.7 L411.9 1111.2M406.6 1087.3L406.4 1101.5M406.6 1087.3L414.2 1099.0M240.9 1065.1 L241.0 1071.6 L240.5 1078.2 L240.0 1084.7 L239.6 1091.3M241.0 1071.6L243.2 1079.2M240.5 1078.2L237.1 1086.8M325.3 1063.7 L326.5 1067.8 L327.1 1072.1 L327.3 1076.3 L327.3 1080.6 L327.1 1084.8M432.0 1086.5 L432.5 1090.4 L432.3 1094.2 L433.5 1098.0 L434.1 1101.8 L434.0 1105.7 L435.0 1109.4M434.1 1101.8L429.7 1110.3M432.5 1090.4L436.0 1096.5M313.1 1062.8 L311.3 1069.2 L310.5 1075.8 L310.6 1082.4 L309.8 1089.0 L309.6 1095.7M309.8 1089.0L313.1 1104.3M431.1 1086.1 L434.3 1100.5 L433.1 1115.1 L431.7 1129.8M434.3 1100.5L441.0 1115.2M276.1 1061.8 L276.6 1068.6 L276.5 1075.4 L275.1 1082.0 L275.0 1088.8 L273.3 1095.4M276.5 1075.4L272.1 1087.4M324.6 1063.7 L325.6 1067.8 L325.5 1072.0 L324.9 1076.2 L324.2 1080.4M325.5 1072.0L324.0 1077.6M325.6 1067.8L323.7 1073.1M416.5 1080.3 L414.3 1090.3 L412.7 1100.5 L413.7 1110.7M412.7 1100.5L405.8 1113.8M357.8 1066.7 L359.0 1078.6 L364.6 1089.1 L369.5 1100.1M364.6 1089.1L364.0 1103.6M388.6 1072.8 L387.8 1083.7 L386.4 1094.5 L386.4 1105.3M387.8 1083.7L384.7 1094.2M386.4 1094.5L380.4 1106.0M343.6 1065.1 L345.5 1071.2 L346.7 1077.5 L347.5 1083.9 L349.2 1090.1 L349.1 1096.5 L350.2 1102.8M349.1 1096.5L344.8 1106.3M346.7 1077.5L351.3 1086.5M311.0 1062.6 L311.4 1065.5 L311.9 1068.3 L311.9 1071.2 L312.1 1074.0 L311.9 1076.9 L311.6 1079.8M311.9 1071.2L314.5 1079.3M357.2 1066.6 L357.3 1073.5 L355.7 1080.2 L356.1 1087.0 L355.9 1093.9 L354.2 1100.6 L353.5 1107.4M382.6 1071.6 L382.4 1075.3 L382.3 1078.9 L381.9 1082.5 L380.4 1085.8 L378.8 1089.1 L377.3 1092.4M388.9 1072.9 L388.6 1076.5 L388.7 1080.1 L389.4 1083.6 L390.8 1086.9 L390.4 1090.5 L390.0 1094.1M390.8 1086.9L395.7 1093.9M390.4 1090.5L390.2 1099.3M239.9 1065.2 L239.8 1073.5 L243.7 1080.7 L244.8 1088.9 L246.7 1096.9 L246.6 1105.1M239.8 1073.5L245.2 1085.0M330.1 1064.1 L332.0 1068.6 L334.0 1073.0 L335.8 1077.5 L335.9 1082.3 L337.1 1087.0 L339.0 1091.5M322.6 1063.5 L320.0 1071.6 L318.2 1080.0 L317.8 1088.5M375.0 1070.1 L374.5 1079.1 L376.5 1087.9 L375.4 1096.8M376.5 1087.9L375.8 1095.8M376.5 1087.9L380.5 1094.7M268.6 1061.8 L268.1 1065.4 L267.6 1068.9 L267.1 1072.4 L266.3 1075.8 L265.4 1079.2M268.1 1065.4L264.6 1069.9M361.9 1067.5 L361.4 1077.2 L360.4 1086.9 L361.6 1096.5 L361.8 1106.2M361.4 1077.2L370.9 1090.4M361.6 1096.5L358.3 1113.1M407.8 1076.8 L407.0 1084.8 L410.0 1092.2 L412.0 1099.9 L415.0 1107.3 L415.9 1115.2M249.1 1063.7 L249.9 1069.7 L251.4 1075.5 L253.3 1081.2 L252.0 1087.1 L252.5 1093.1 L252.1 1099.2M419.8 1081.7 L419.0 1086.5 L418.8 1091.4 L417.8 1096.1 L415.4 1100.4 L412.8 1104.6M417.8 1096.1L419.7 1105.8M286.5 1061.8 L287.3 1068.4 L288.2 1075.0 L287.9 1081.6" fill="none" stroke="#444" stroke-width="0.7" opacity="0.50"/>
<path d="M402.6 1075.6 L402.7 1069.8 L402.8 1064.0 L403.3 1058.1 L404.7 1052.5M402.7 1069.8L399.7 1063.9M402.8 1064.0L400.9 1057.9M404.8 1076.1 L406.1 1071.6 L407.2 1067.0 L406.1 1062.5 L406.6 1057.8 L406.4 1053.1M396.9 1074.5 L392.5 1064.4 L393.4 1053.4 L391.1 1042.6M392.5 1064.4L386.6 1052.1M392.5 1064.4L393.0 1053.4M382.6 1071.6 L380.6 1065.7 L379.8 1059.5 L380.0 1053.3 L377.9 1047.4 L378.1 1041.2 L379.2 1035.0M380.0 1053.3L384.5 1037.4M383.4 1071.8 L381.1 1059.3 L377.1 1047.1 L372.6 1035.2M355.7 1066.3 L350.8 1058.6 L349.5 1049.5 L344.0 1042.3 L339.2 1034.5 L335.3 1026.3M360.3 1067.2 L364.4 1058.3 L369.9 1050.3 L374.9 1041.9 L379.1 1033.1 L385.0 1025.3M355.9 1066.3 L356.1 1052.9 L359.3 1039.9 L357.4 1026.7 L353.9 1013.8M359.3 1039.9L353.2 1015.8M384.6 1072.0 L387.2 1063.0 L388.5 1053.7 L391.1 1044.7 L394.1 1035.8 L397.3 1027.0M387.2 1063.0L385.6 1045.9M387.2 1063.0L398.3 1051.1M403.0 1075.7 L404.8 1065.6 L409.7 1056.6 L409.7 1046.3 L413.9 1036.9M409.7 1046.3L420.3 1029.5M364.2 1068.0 L366.0 1062.0 L369.3 1056.8 L372.6 1051.6 L375.6 1046.2M366.0 1062.0L365.7 1053.7M384.2 1072.0 L389.6 1059.3 L397.5 1048.1 L401.6 1034.9M405.4 1076.2 L406.0 1068.5 L409.4 1061.7 L413.9 1055.4M409.4 1061.7L410.6 1050.2M406.0 1068.5L412.0 1059.7M393.8 1073.9 L393.2 1069.5 L392.6 1065.2 L390.8 1061.2 L390.4 1056.8 L390.5 1052.4 L390.5 1048.0M390.4 1056.8L385.1 1050.7M355.4 1066.2 L356.0 1053.0 L356.8 1039.9 L359.5 1027.0M356.0 1053.0L352.3 1034.6M369.6 1069.0 L370.5 1065.6 L370.6 1062.1 L370.8 1058.6 L371.9 1055.2 L372.6 1051.7 L372.6 1048.2M401.2 1075.4 L400.9 1069.2 L399.7 1063.1 L397.9 1057.2 L397.9 1051.1 L398.6 1044.9M375.0 1070.1 L375.1 1066.6 L374.9 1063.1 L375.2 1059.6 L374.5 1056.1 L374.9 1052.6 L374.7 1049.1M374.9 1052.6L376.4 1043.7M374.9 1052.6L376.6 1045.2M375.9 1070.3 L376.2 1063.5 L377.0 1056.8 L380.1 1050.8 L383.6 1045.0 L384.1 1038.2M377.0 1056.8L384.7 1048.0M398.5 1074.8 L401.0 1067.0 L403.2 1059.2 L405.8 1051.5M401.0 1067.0L408.3 1059.9M401.0 1067.0L401.6 1059.6" fill="none" stroke="#555" stroke-width="0.6" opacity="0.45"/>
<path d="M70.7 1081.9 C77.8 1079.2 99.6 1071.2 113.4 1065.8 C127.2 1060.5 140.1 1055.2 153.4 1049.8 C166.8 1044.5 182.4 1037.4 193.5 1033.8 C204.6 1030.3 209 1029.6 220.2 1028.5 C231.3 1027.4 246.9 1027.4 260.2 1027.1 C273.6 1026.9 289.1 1025.6 300.3 1027.1 C311.4 1028.7 318.9 1033.1 327 1036.5 C335 1039.8 344.7 1045.4 348.3 1047.2" fill="none" stroke="#cccccc" stroke-width="6" filter="url(#b2)"/>
<path d="M70.7 1081.9 C77.8 1079.2 99.6 1071.2 113.4 1065.8 C127.2 1060.5 140.1 1055.2 153.4 1049.8 C166.8 1044.5 182.4 1037.4 193.5 1033.8 C204.6 1030.3 209 1029.6 220.2 1028.5 C231.3 1027.4 246.9 1027.4 260.2 1027.1 C273.6 1026.9 289.1 1025.6 300.3 1027.1 C311.4 1028.7 318.9 1033.1 327 1036.5 C335 1039.8 344.7 1045.4 348.3 1047.2" fill="none" stroke="#555" stroke-width="1.3" opacity="0.6"/>
<g filter="url(#b1)"><ellipse cx="273.8" cy="1025.9" rx="1.9" ry="1.8" fill="#555"/><ellipse cx="122.4" cy="1063.2" rx="1.3" ry="0.8" fill="#333"/><ellipse cx="151.2" cy="1051.1" rx="1.0" ry="0.9" fill="#333"/><ellipse cx="96.6" cy="1072.0" rx="1.7" ry="1.3" fill="#333"/><ellipse cx="211.2" cy="1029.2" rx="1.3" ry="1.0" fill="#555"/><ellipse cx="242.5" cy="1026.5" rx="1.6" ry="1.4" fill="#444"/><ellipse cx="228.3" cy="1029.0" rx="1.5" ry="1.3" fill="#333"/><ellipse cx="166.8" cy="1043.3" rx="2.1" ry="2.0" fill="#555"/><ellipse cx="164.6" cy="1044.1" rx="2.1" ry="1.6" fill="#444"/><ellipse cx="93.4" cy="1072.4" rx="1.0" ry="0.9" fill="#2a2a2a"/><ellipse cx="224.6" cy="1028.4" rx="0.9" ry="0.7" fill="#555"/><ellipse cx="340.8" cy="1042.2" rx="0.9" ry="0.7" fill="#555"/><ellipse cx="257.9" cy="1026.0" rx="1.9" ry="1.5" fill="#444"/><ellipse cx="340.9" cy="1043.7" rx="1.7" ry="1.2" fill="#2a2a2a"/><ellipse cx="76.4" cy="1079.5" rx="1.8" ry="1.3" fill="#333"/><ellipse cx="81.5" cy="1078.3" rx="1.9" ry="1.6" fill="#222"/><ellipse cx="336.9" cy="1040.8" rx="1.6" ry="1.4" fill="#2a2a2a"/><ellipse cx="314.0" cy="1030.4" rx="0.9" ry="0.8" fill="#333"/><ellipse cx="245.7" cy="1025.0" rx="1.7" ry="1.2" fill="#333"/><ellipse cx="99.2" cy="1072.7" rx="1.0" ry="0.9" fill="#555"/><ellipse cx="335.8" cy="1040.4" rx="1.1" ry="0.8" fill="#222"/><ellipse cx="208.7" cy="1028.8" rx="0.8" ry="0.5" fill="#333"/><ellipse cx="158.7" cy="1045.7" rx="1.8" ry="1.7" fill="#444"/><ellipse cx="235.8" cy="1027.4" rx="1.5" ry="1.0" fill="#222"/><ellipse cx="185.2" cy="1035.1" rx="1.1" ry="1.1" fill="#444"/><ellipse cx="258.6" cy="1025.7" rx="1.3" ry="1.1" fill="#333"/><ellipse cx="129.9" cy="1058.7" rx="1.7" ry="1.4" fill="#333"/><ellipse cx="107.7" cy="1069.0" rx="1.7" ry="1.2" fill="#444"/><ellipse cx="261.8" cy="1026.3" rx="1.4" ry="0.9" fill="#444"/><ellipse cx="75.7" cy="1080.6" rx="0.9" ry="0.8" fill="#333"/><ellipse cx="321.0" cy="1034.4" rx="1.9" ry="1.6" fill="#2a2a2a"/><ellipse cx="199.3" cy="1032.9" rx="1.6" ry="1.3" fill="#333"/><ellipse cx="287.8" cy="1025.1" rx="1.2" ry="1.0" fill="#333"/><ellipse cx="232.1" cy="1029.1" rx="1.9" ry="1.6" fill="#333"/><ellipse cx="79.9" cy="1076.5" rx="1.6" ry="1.0" fill="#555"/><ellipse cx="131.0" cy="1057.4" rx="1.1" ry="1.0" fill="#333"/><ellipse cx="119.8" cy="1063.1" rx="1.4" ry="1.2" fill="#555"/><ellipse cx="159.9" cy="1046.6" rx="0.9" ry="0.8" fill="#2a2a2a"/><ellipse cx="90.7" cy="1076.8" rx="1.4" ry="0.9" fill="#222"/><ellipse cx="321.3" cy="1035.1" rx="1.5" ry="1.1" fill="#2a2a2a"/><ellipse cx="189.7" cy="1033.7" rx="1.6" ry="1.3" fill="#333"/><ellipse cx="256.2" cy="1027.4" rx="1.0" ry="1.0" fill="#333"/><ellipse cx="150.9" cy="1049.9" rx="1.1" ry="0.9" fill="#222"/><ellipse cx="287.5" cy="1027.9" rx="1.3" ry="0.9" fill="#2a2a2a"/><ellipse cx="104.0" cy="1069.7" rx="1.0" ry="0.7" fill="#555"/><ellipse cx="71.9" cy="1082.2" rx="2.0" ry="1.3" fill="#555"/><ellipse cx="252.7" cy="1025.7" rx="1.9" ry="1.5" fill="#555"/><ellipse cx="89.7" cy="1075.0" rx="1.6" ry="1.1" fill="#222"/><ellipse cx="105.0" cy="1068.4" rx="1.8" ry="1.5" fill="#555"/><ellipse cx="84.4" cy="1076.2" rx="1.7" ry="1.2" fill="#444"/><ellipse cx="110.3" cy="1065.6" rx="2.0" ry="1.9" fill="#2a2a2a"/><ellipse cx="308.6" cy="1028.4" rx="1.2" ry="1.1" fill="#555"/><ellipse cx="171.8" cy="1040.8" rx="1.9" ry="1.5" fill="#222"/><ellipse cx="223.7" cy="1027.1" rx="1.7" ry="1.5" fill="#222"/><ellipse cx="189.5" cy="1034.2" rx="1.9" ry="1.7" fill="#444"/><ellipse cx="239.4" cy="1029.0" rx="1.7" ry="1.2" fill="#2a2a2a"/><ellipse cx="150.0" cy="1050.1" rx="1.8" ry="1.4" fill="#222"/><ellipse cx="120.8" cy="1063.9" rx="1.8" ry="1.8" fill="#444"/><ellipse cx="325.7" cy="1037.5" rx="1.1" ry="0.7" fill="#2a2a2a"/><ellipse cx="154.7" cy="1048.6" rx="1.0" ry="1.0" fill="#444"/><ellipse cx="223.8" cy="1028.2" rx="1.2" ry="1.0" fill="#2a2a2a"/><ellipse cx="235.6" cy="1028.2" rx="1.8" ry="1.7" fill="#222"/><ellipse cx="170.5" cy="1041.8" rx="0.9" ry="0.6" fill="#2a2a2a"/><ellipse cx="223.0" cy="1030.0" rx="1.6" ry="1.3" fill="#2a2a2a"/><ellipse cx="226.3" cy="1027.3" rx="0.9" ry="0.8" fill="#2a2a2a"/><ellipse cx="225.2" cy="1027.4" rx="1.8" ry="1.2" fill="#444"/><ellipse cx="138.2" cy="1055.4" rx="1.8" ry="1.7" fill="#333"/><ellipse cx="106.5" cy="1071.2" rx="0.9" ry="0.6" fill="#444"/><ellipse cx="286.7" cy="1027.8" rx="1.3" ry="1.3" fill="#555"/><ellipse cx="268.9" cy="1026.9" rx="0.8" ry="0.6" fill="#333"/><ellipse cx="297.7" cy="1027.3" rx="1.5" ry="1.0" fill="#333"/><ellipse cx="220.6" cy="1029.0" rx="2.0" ry="1.2" fill="#222"/><ellipse cx="124.3" cy="1061.8" rx="1.9" ry="1.7" fill="#444"/><ellipse cx="268.5" cy="1028.8" rx="1.0" ry="0.8" fill="#444"/><ellipse cx="93.0" cy="1072.9" rx="1.9" ry="1.3" fill="#222"/><ellipse cx="347.5" cy="1044.9" rx="1.1" ry="0.7" fill="#333"/><ellipse cx="343.0" cy="1044.6" rx="2.0" ry="1.3" fill="#555"/><ellipse cx="251.5" cy="1027.8" rx="1.9" ry="1.6" fill="#555"/><ellipse cx="154.9" cy="1049.6" rx="1.6" ry="1.3" fill="#444"/><ellipse cx="96.9" cy="1074.4" rx="2.0" ry="1.5" fill="#222"/><ellipse cx="339.7" cy="1044.2" rx="2.0" ry="1.9" fill="#222"/><ellipse cx="201.6" cy="1031.5" rx="1.7" ry="1.7" fill="#444"/><ellipse cx="103.7" cy="1069.8" rx="2.1" ry="1.5" fill="#333"/><ellipse cx="287.9" cy="1025.5" rx="1.9" ry="1.6" fill="#333"/><ellipse cx="315.4" cy="1031.0" rx="1.4" ry="1.3" fill="#2a2a2a"/><ellipse cx="181.9" cy="1037.7" rx="1.6" ry="1.2" fill="#444"/><ellipse cx="294.9" cy="1028.5" rx="1.5" ry="1.4" fill="#444"/><ellipse cx="302.2" cy="1027.2" rx="1.0" ry="0.9" fill="#222"/><ellipse cx="82.4" cy="1080.0" rx="1.6" ry="1.0" fill="#555"/><ellipse cx="220.8" cy="1028.9" rx="1.3" ry="1.0" fill="#2a2a2a"/><ellipse cx="185.7" cy="1038.0" rx="1.7" ry="1.2" fill="#2a2a2a"/><ellipse cx="136.8" cy="1055.6" rx="0.9" ry="0.8" fill="#555"/><ellipse cx="120.0" cy="1064.6" rx="2.1" ry="1.4" fill="#555"/><ellipse cx="291.9" cy="1026.1" rx="2.0" ry="2.0" fill="#444"/><ellipse cx="160.8" cy="1045.9" rx="1.0" ry="0.8" fill="#555"/><ellipse cx="225.3" cy="1027.6" rx="1.3" ry="0.9" fill="#2a2a2a"/><ellipse cx="217.1" cy="1028.5" rx="0.8" ry="0.6" fill="#333"/><ellipse cx="157.0" cy="1047.1" rx="1.2" ry="1.1" fill="#2a2a2a"/><ellipse cx="79.7" cy="1078.4" rx="1.1" ry="1.1" fill="#222"/><ellipse cx="71.7" cy="1080.1" rx="2.0" ry="1.6" fill="#2a2a2a"/><ellipse cx="193.7" cy="1034.0" rx="1.2" ry="1.1" fill="#333"/><ellipse cx="81.7" cy="1079.3" rx="1.7" ry="1.4" fill="#555"/><ellipse cx="113.0" cy="1065.7" rx="2.1" ry="1.8" fill="#444"/><ellipse cx="285.7" cy="1026.3" rx="1.5" ry="1.2" fill="#555"/><ellipse cx="234.9" cy="1026.1" rx="1.9" ry="1.2" fill="#333"/><ellipse cx="249.2" cy="1027.1" rx="1.3" ry="1.0" fill="#333"/><ellipse cx="228.5" cy="1029.1" rx="1.6" ry="1.1" fill="#222"/><ellipse cx="197.7" cy="1031.3" rx="1.1" ry="1.1" fill="#2a2a2a"/><ellipse cx="283.6" cy="1026.8" rx="1.7" ry="1.2" fill="#555"/><ellipse cx="83.4" cy="1076.4" rx="1.6" ry="1.2" fill="#2a2a2a"/><ellipse cx="193.6" cy="1034.3" rx="1.0" ry="0.8" fill="#333"/><ellipse cx="153.7" cy="1049.1" rx="2.0" ry="1.5" fill="#222"/><ellipse cx="82.2" cy="1077.5" rx="1.2" ry="1.1" fill="#444"/><ellipse cx="213.7" cy="1027.9" rx="1.6" ry="1.6" fill="#555"/><ellipse cx="89.1" cy="1073.1" rx="0.9" ry="0.9" fill="#222"/><ellipse cx="262.4" cy="1028.4" rx="1.1" ry="1.1" fill="#444"/></g>
<path d="M177.5 1087.2 C184.6 1084.1 206.4 1072.7 220.2 1068.5 C234 1064.3 246.9 1063 260.2 1061.8 C273.6 1060.7 284.7 1061.2 300.3 1061.8 C315.8 1062.5 335.8 1063.4 353.6 1065.8 C371.4 1068.3 389.2 1071.2 407 1076.5 C424.8 1081.9 451.5 1094.3 460.4 1097.9" fill="none" stroke="#cccccc" stroke-width="6" filter="url(#b2)"/>
<path d="M177.5 1087.2 C184.6 1084.1 206.4 1072.7 220.2 1068.5 C234 1064.3 246.9 1063 260.2 1061.8 C273.6 1060.7 284.7 1061.2 300.3 1061.8 C315.8 1062.5 335.8 1063.4 353.6 1065.8 C371.4 1068.3 389.2 1071.2 407 1076.5 C424.8 1081.9 451.5 1094.3 460.4 1097.9" fill="none" stroke="#555" stroke-width="1.3" opacity="0.6"/>
<g filter="url(#b1)"><ellipse cx="358.4" cy="1067.0" rx="1.4" ry="1.3" fill="#444"/><ellipse cx="270.8" cy="1061.0" rx="1.7" ry="1.2" fill="#444"/><ellipse cx="217.5" cy="1069.6" rx="1.9" ry="1.6" fill="#555"/><ellipse cx="401.1" cy="1075.7" rx="1.3" ry="1.2" fill="#222"/><ellipse cx="230.9" cy="1064.1" rx="1.5" ry="1.4" fill="#444"/><ellipse cx="369.8" cy="1067.9" rx="1.6" ry="1.3" fill="#222"/><ellipse cx="454.1" cy="1097.2" rx="1.3" ry="1.0" fill="#2a2a2a"/><ellipse cx="421.4" cy="1083.0" rx="1.3" ry="1.2" fill="#2a2a2a"/><ellipse cx="182.0" cy="1084.0" rx="1.6" ry="1.1" fill="#2a2a2a"/><ellipse cx="411.8" cy="1080.2" rx="1.1" ry="1.1" fill="#2a2a2a"/><ellipse cx="219.9" cy="1070.8" rx="1.1" ry="1.1" fill="#333"/><ellipse cx="321.6" cy="1064.0" rx="1.6" ry="1.4" fill="#555"/><ellipse cx="297.8" cy="1061.6" rx="1.2" ry="0.9" fill="#2a2a2a"/><ellipse cx="452.3" cy="1094.7" rx="2.0" ry="1.9" fill="#2a2a2a"/><ellipse cx="249.0" cy="1064.7" rx="0.8" ry="0.7" fill="#333"/><ellipse cx="428.4" cy="1084.0" rx="1.4" ry="1.1" fill="#333"/><ellipse cx="322.1" cy="1063.7" rx="1.9" ry="1.7" fill="#333"/><ellipse cx="197.1" cy="1079.4" rx="1.7" ry="1.1" fill="#444"/><ellipse cx="284.1" cy="1061.0" rx="1.5" ry="1.4" fill="#555"/><ellipse cx="236.0" cy="1064.8" rx="1.4" ry="1.2" fill="#333"/><ellipse cx="254.3" cy="1061.9" rx="1.0" ry="0.9" fill="#2a2a2a"/><ellipse cx="279.5" cy="1060.9" rx="0.8" ry="0.7" fill="#333"/><ellipse cx="380.4" cy="1069.5" rx="0.9" ry="0.7" fill="#333"/><ellipse cx="365.8" cy="1067.3" rx="1.9" ry="1.4" fill="#444"/><ellipse cx="416.4" cy="1079.6" rx="1.9" ry="1.5" fill="#555"/><ellipse cx="321.5" cy="1064.1" rx="1.6" ry="1.4" fill="#444"/><ellipse cx="312.7" cy="1062.9" rx="1.7" ry="1.3" fill="#555"/><ellipse cx="396.8" cy="1075.3" rx="1.0" ry="0.8" fill="#444"/><ellipse cx="463.6" cy="1097.0" rx="1.5" ry="1.1" fill="#2a2a2a"/><ellipse cx="300.4" cy="1060.9" rx="1.0" ry="0.9" fill="#555"/><ellipse cx="258.8" cy="1061.4" rx="1.7" ry="1.3" fill="#444"/><ellipse cx="220.0" cy="1068.9" rx="1.2" ry="1.0" fill="#333"/><ellipse cx="451.3" cy="1094.3" rx="1.5" ry="1.0" fill="#555"/><ellipse cx="195.2" cy="1078.5" rx="1.3" ry="1.0" fill="#2a2a2a"/><ellipse cx="363.7" cy="1068.9" rx="1.5" ry="1.2" fill="#444"/><ellipse cx="318.5" cy="1062.7" rx="1.3" ry="1.2" fill="#2a2a2a"/><ellipse cx="177.1" cy="1085.5" rx="2.1" ry="1.5" fill="#333"/><ellipse cx="401.7" cy="1074.4" rx="1.0" ry="0.9" fill="#333"/><ellipse cx="192.6" cy="1080.4" rx="2.0" ry="1.9" fill="#2a2a2a"/><ellipse cx="371.4" cy="1067.3" rx="1.4" ry="1.0" fill="#333"/><ellipse cx="203.2" cy="1075.3" rx="2.1" ry="1.7" fill="#333"/><ellipse cx="362.7" cy="1067.3" rx="0.9" ry="0.6" fill="#2a2a2a"/><ellipse cx="437.2" cy="1088.4" rx="1.4" ry="1.4" fill="#222"/><ellipse cx="263.8" cy="1060.8" rx="1.0" ry="0.9" fill="#222"/><ellipse cx="437.5" cy="1087.4" rx="1.9" ry="1.4" fill="#222"/><ellipse cx="274.0" cy="1062.1" rx="2.0" ry="1.2" fill="#222"/><ellipse cx="256.4" cy="1062.9" rx="1.7" ry="1.3" fill="#555"/><ellipse cx="369.1" cy="1067.8" rx="1.5" ry="1.2" fill="#333"/><ellipse cx="240.7" cy="1065.3" rx="1.6" ry="1.3" fill="#444"/><ellipse cx="437.5" cy="1087.5" rx="1.1" ry="1.0" fill="#222"/><ellipse cx="271.4" cy="1062.0" rx="1.7" ry="1.4" fill="#222"/><ellipse cx="345.5" cy="1067.7" rx="1.4" ry="1.3" fill="#444"/><ellipse cx="405.5" cy="1075.1" rx="1.5" ry="1.3" fill="#222"/><ellipse cx="317.0" cy="1063.0" rx="0.8" ry="0.6" fill="#444"/><ellipse cx="408.6" cy="1077.3" rx="2.1" ry="1.9" fill="#444"/><ellipse cx="265.9" cy="1060.8" rx="1.7" ry="1.3" fill="#2a2a2a"/><ellipse cx="416.0" cy="1078.5" rx="1.3" ry="1.2" fill="#333"/><ellipse cx="394.2" cy="1073.7" rx="1.3" ry="1.2" fill="#555"/><ellipse cx="371.4" cy="1069.4" rx="2.0" ry="1.7" fill="#555"/><ellipse cx="210.9" cy="1071.8" rx="0.9" ry="0.8" fill="#444"/><ellipse cx="352.9" cy="1064.6" rx="2.0" ry="1.7" fill="#444"/><ellipse cx="401.2" cy="1075.4" rx="1.9" ry="1.9" fill="#333"/><ellipse cx="202.5" cy="1074.9" rx="0.8" ry="0.7" fill="#444"/><ellipse cx="189.7" cy="1081.6" rx="0.8" ry="0.7" fill="#555"/><ellipse cx="304.5" cy="1061.9" rx="1.7" ry="1.5" fill="#555"/><ellipse cx="452.0" cy="1092.8" rx="0.9" ry="0.7" fill="#444"/><ellipse cx="364.5" cy="1068.3" rx="1.6" ry="1.0" fill="#555"/><ellipse cx="274.4" cy="1060.9" rx="1.1" ry="0.9" fill="#2a2a2a"/><ellipse cx="429.1" cy="1083.3" rx="1.6" ry="1.1" fill="#2a2a2a"/><ellipse cx="397.2" cy="1074.4" rx="1.0" ry="0.7" fill="#222"/><ellipse cx="354.4" cy="1065.1" rx="1.0" ry="0.9" fill="#222"/><ellipse cx="349.1" cy="1065.3" rx="2.0" ry="2.0" fill="#444"/><ellipse cx="317.5" cy="1063.3" rx="1.1" ry="0.9" fill="#2a2a2a"/><ellipse cx="232.4" cy="1063.5" rx="1.6" ry="1.1" fill="#2a2a2a"/><ellipse cx="242.0" cy="1064.3" rx="1.0" ry="0.8" fill="#444"/><ellipse cx="301.5" cy="1062.2" rx="1.1" ry="0.8" fill="#2a2a2a"/><ellipse cx="200.6" cy="1076.6" rx="2.0" ry="1.6" fill="#2a2a2a"/><ellipse cx="307.6" cy="1064.6" rx="1.7" ry="1.2" fill="#555"/><ellipse cx="239.2" cy="1064.5" rx="0.9" ry="0.9" fill="#2a2a2a"/><ellipse cx="378.0" cy="1068.7" rx="1.8" ry="1.4" fill="#444"/><ellipse cx="405.3" cy="1074.4" rx="1.6" ry="1.2" fill="#2a2a2a"/><ellipse cx="448.8" cy="1091.8" rx="2.0" ry="1.3" fill="#2a2a2a"/><ellipse cx="318.6" cy="1062.8" rx="1.9" ry="1.4" fill="#222"/><ellipse cx="236.3" cy="1064.3" rx="1.0" ry="0.7" fill="#444"/><ellipse cx="291.2" cy="1061.5" rx="1.9" ry="1.3" fill="#222"/><ellipse cx="239.4" cy="1064.4" rx="1.6" ry="1.5" fill="#333"/><ellipse cx="247.5" cy="1064.0" rx="1.8" ry="1.7" fill="#444"/><ellipse cx="448.0" cy="1091.4" rx="1.8" ry="1.4" fill="#333"/><ellipse cx="386.7" cy="1071.2" rx="1.3" ry="1.0" fill="#555"/><ellipse cx="318.0" cy="1062.9" rx="2.0" ry="1.4" fill="#555"/><ellipse cx="404.1" cy="1076.6" rx="0.9" ry="0.6" fill="#222"/><ellipse cx="424.7" cy="1083.9" rx="1.1" ry="0.7" fill="#555"/><ellipse cx="287.1" cy="1061.1" rx="1.8" ry="1.3" fill="#2a2a2a"/><ellipse cx="451.5" cy="1096.5" rx="1.1" ry="1.0" fill="#2a2a2a"/><ellipse cx="413.7" cy="1078.4" rx="1.8" ry="1.1" fill="#2a2a2a"/><ellipse cx="242.2" cy="1063.5" rx="0.9" ry="0.8" fill="#2a2a2a"/><ellipse cx="289.3" cy="1062.2" rx="1.7" ry="1.3" fill="#555"/><ellipse cx="400.4" cy="1073.6" rx="1.3" ry="0.8" fill="#555"/><ellipse cx="184.2" cy="1081.6" rx="1.9" ry="1.8" fill="#333"/><ellipse cx="405.6" cy="1074.6" rx="1.4" ry="1.3" fill="#2a2a2a"/><ellipse cx="352.4" cy="1067.0" rx="0.9" ry="0.6" fill="#555"/><ellipse cx="207.9" cy="1074.2" rx="1.3" ry="0.8" fill="#2a2a2a"/><ellipse cx="209.5" cy="1070.2" rx="0.9" ry="0.5" fill="#555"/><ellipse cx="360.9" cy="1068.1" rx="1.6" ry="1.5" fill="#2a2a2a"/><ellipse cx="182.2" cy="1085.3" rx="1.7" ry="1.4" fill="#333"/><ellipse cx="245.7" cy="1061.7" rx="1.4" ry="1.1" fill="#444"/><ellipse cx="378.3" cy="1070.5" rx="1.7" ry="1.5" fill="#555"/><ellipse cx="202.6" cy="1075.8" rx="1.1" ry="0.8" fill="#555"/><ellipse cx="271.3" cy="1060.6" rx="2.1" ry="1.7" fill="#2a2a2a"/><ellipse cx="224.0" cy="1068.1" rx="2.1" ry="1.6" fill="#222"/><ellipse cx="425.7" cy="1083.9" rx="1.0" ry="0.9" fill="#333"/><ellipse cx="347.7" cy="1065.6" rx="1.2" ry="1.1" fill="#333"/><ellipse cx="300.7" cy="1060.9" rx="2.0" ry="1.2" fill="#222"/><ellipse cx="238.6" cy="1064.6" rx="1.5" ry="1.1" fill="#444"/><ellipse cx="390.6" cy="1072.7" rx="1.9" ry="1.3" fill="#2a2a2a"/><ellipse cx="451.2" cy="1097.5" rx="1.6" ry="1.2" fill="#444"/></g>
<rect x="68" y="899" width="396.2" height="296" fill="#000" filter="url(#grain)" opacity="0.12"/>
</g>
<text x="72.5" y="927.6" font-size="35.5">IL-1β</text>
<rect x="413.4" y="1181.8" width="44.3" height="8.2" fill="#111"/>
<defs><filter id="grain2" x="0" y="0" width="100%" height="100%"><feTurbulence type="fractalNoise" baseFrequency="0.55" numOctaves="2" seed="8"/><feColorMatrix type="matrix" values="1.4 0 0 0 -0.2  1.4 0 0 0 -0.2  1.4 0 0 0 -0.2  0 0 0 0 1"/></filter><filter id="blot" x="0" y="0" width="100%" height="100%"><feTurbulence type="fractalNoise" baseFrequency="0.04" numOctaves="3" seed="4"/><feColorMatrix type="matrix" values="0 0 0 0 0  0 0 0 0 0  0 0 0 0 0  0 0 0 1.6 -0.75"/></filter></defs>
<g clip-path="url(#cc3)">
<rect x="469" y="594.6" width="175" height="296" fill="#c6c6c6"/>
<rect x="469" y="594.6" width="175" height="296" filter="url(#blot)" opacity="0.25"/>
<path d="M474.6 893.8 C447.1 893.3 473.3 895.4 481 890.6 C488.7 885.8 507.6 871.4 521 865 C534.3 858.6 547.6 858.9 560.9 852.2 C574.3 845.6 590.3 831.4 600.9 825 C611.6 818.7 617.4 817.6 624.9 813.9 C632.4 810.1 642.2 789.3 645.7 802.7 C649.1 816 674.2 878.6 645.7 893.8 C617.2 909 502 894.3 474.6 893.8Z" fill="#d2d2d2" filter="url(#b2)"/>
<path d="M474.6 685.9 C476.2 691.3 480.5 709.9 484.2 717.9 C487.9 725.9 492.7 728.6 497 733.9 C501.2 739.2 505 744.6 509.8 749.9 C514.6 755.2 521 759.2 525.8 765.9 C530.6 772.5 534.3 781.9 538.6 789.9 C542.8 797.9 549.2 809.9 551.3 813.9" fill="none" stroke="#333" stroke-width="1.6" opacity="0.6" stroke-linecap="round" filter="url(#b1)"/>
<path d="M540.2 693.9 C541 697.9 542 709.9 544.9 717.9 C547.9 725.9 553.7 733.9 557.7 741.9 C561.7 749.9 565.7 756.6 568.9 765.9 C572.1 775.2 575.1 789.3 576.9 797.9 C578.8 806.4 579.6 813.9 580.1 817.1" fill="none" stroke="#333" stroke-width="1.8" opacity="0.65" stroke-linecap="round" filter="url(#b1)"/>
<path d="M556.1 673.1 C558 675.8 564.1 683.8 567.3 689.1 C570.5 694.5 573.2 699.8 575.3 705.1 C577.5 710.5 579.3 718.5 580.1 721.1" fill="none" stroke="#333" stroke-width="1.5" opacity="0.55" stroke-linecap="round" filter="url(#b1)"/>
<path d="M543.3 607.6 C544.4 610.5 546.8 618.8 549.7 625.2 C552.7 631.6 556.4 639.8 560.9 646 C565.5 652.1 572.1 656.6 576.9 662 C581.7 667.3 586.3 671.8 589.7 677.9 C593.2 684.1 595.3 693.1 597.7 698.7 C600.1 704.3 603 709.4 604.1 711.5" fill="none" stroke="#333" stroke-width="1.5" opacity="0.55" stroke-linecap="round" filter="url(#b1)"/>
<path d="M586.5 614 C586 618 584.9 630.5 583.3 638 C581.7 645.4 578 655.3 576.9 658.8" fill="none" stroke="#333" stroke-width="1.3" opacity="0.45" stroke-linecap="round" filter="url(#b1)"/>
<path d="M621.7 622 C622.5 626 624.4 639.3 626.5 646 C628.6 652.6 631.8 657.4 634.5 662 C637.2 666.5 641.2 671.3 642.5 673.1" fill="none" stroke="#333" stroke-width="1.8" opacity="0.6" stroke-linecap="round" filter="url(#b1)"/>
<path d="M485.8 789.9 C488.2 793.9 495.6 805.6 500.2 813.9 C504.7 822.1 510.8 835.2 513 839.4" fill="none" stroke="#333" stroke-width="1.2" opacity="0.4" stroke-linecap="round" filter="url(#b1)"/>
<path d="M469.8 662 C471.1 666 475.1 679.3 477.8 685.9 C480.5 692.6 484.5 699.3 485.8 701.9" fill="none" stroke="#333" stroke-width="1.4" opacity="0.5" stroke-linecap="round" filter="url(#b1)"/>
<path d="M505 630 C507.1 634.5 513.2 648.9 517.8 657.2 C522.3 665.4 529.8 675.8 532.2 679.5" fill="none" stroke="#333" stroke-width="1.0" opacity="0.35" stroke-linecap="round" filter="url(#b1)"/>
<path d="M605.7 733.9 C607 739.2 611.6 755.8 613.7 765.9 C615.8 776 617.7 789.9 618.5 794.7" fill="none" stroke="#333" stroke-width="1.0" opacity="0.35" stroke-linecap="round" filter="url(#b1)"/>
<path d="M471.4 885.8 C475.7 882.6 488.7 870.6 497 866.6 C505.2 862.6 512.4 864.2 521 861.8 C529.5 859.4 538.8 857 548.1 852.2 C557.5 847.4 568.1 838.1 576.9 833 C585.7 828 592.9 825.6 600.9 821.9 C608.9 818.1 617.7 814.7 624.9 810.7 C632.1 806.7 640.9 800 644.1 797.9" fill="none" stroke="#333" stroke-width="1.6" opacity="0.75" stroke-linecap="round" filter="url(#b1)"/>
<ellipse cx="532.2" cy="852.2" rx="10.4" ry="7.2" fill="#262626" opacity="0.85" filter="url(#b2)"/>
<ellipse cx="559.3" cy="836.2" rx="5.6" ry="7.2" fill="#262626" opacity="0.9" filter="url(#b2)"/>
<ellipse cx="586.5" cy="825" rx="8" ry="4.8" fill="#262626" opacity="0.6" filter="url(#b2)"/>
<ellipse cx="618.5" cy="809.1" rx="9.6" ry="8.8" fill="#262626" opacity="0.85" filter="url(#b2)"/>
<ellipse cx="473" cy="849" rx="4" ry="9.6" fill="#262626" opacity="0.6" filter="url(#b2)"/>
<ellipse cx="503.4" cy="865" rx="9.6" ry="1.9" fill="#262626" opacity="0.4" filter="url(#b2)"/>
<rect x="469" y="594.6" width="175" height="296" filter="url(#grain2)" opacity="0.13"/>
</g>
<rect x="603" y="877.1" width="35.2" height="8.2" fill="#111"/>
<g clip-path="url(#cc4)">
<rect x="469" y="898.8" width="175" height="295.6" fill="#c8c8c8"/>
<rect x="469" y="898.8" width="175" height="295.6" filter="url(#blot)" opacity="0.2"/>
<path d="M469.8 899.8 C498.8 879.3 615 881.9 644.1 899.8 C673.1 917.7 655.3 990.4 644.1 1006.9 C632.9 1023.5 598.8 996.3 576.9 998.9 C555.1 1001.6 530.8 1018.9 513 1022.9 C495.1 1026.9 477 1043.4 469.8 1022.9 C462.6 1002.4 440.7 920.3 469.8 899.8Z" fill="#cecece" filter="url(#b8)"/>
<path d="M469.8 1051.7 C472.2 1054.9 480.5 1063.7 484.2 1070.9 C487.9 1078.1 490.3 1086.9 492.2 1094.9 C494 1102.9 494.3 1112.2 495.4 1118.9 C496.4 1125.5 498 1132.2 498.6 1134.8" fill="none" stroke="#3a3a3a" stroke-width="1.5" opacity="0.6" stroke-linecap="round" filter="url(#b1)"/>
<path d="M551.3 994.1 C551.6 997.9 552.4 1009.1 552.9 1016.5 C553.5 1024 554.3 1035.2 554.5 1038.9" fill="none" stroke="#3a3a3a" stroke-width="1.0" opacity="0.4" stroke-linecap="round" filter="url(#b1)"/>
<path d="M586.5 1006.9 C586.8 1009.6 587.6 1017.6 588.1 1022.9 C588.7 1028.2 589.5 1036.2 589.7 1038.9" fill="none" stroke="#3a3a3a" stroke-width="1.0" opacity="0.4" stroke-linecap="round" filter="url(#b1)"/>
<path d="M573.7 1046.9 C574.3 1050.9 575.9 1062.9 576.9 1070.9 C578 1078.9 579.6 1090.9 580.1 1094.9" fill="none" stroke="#3a3a3a" stroke-width="1.2" opacity="0.45" stroke-linecap="round" filter="url(#b1)"/>
<path d="M620.1 1022.9 C620.5 1027.7 621.7 1042.4 622.5 1051.7 C623.3 1061 624.5 1074.4 624.9 1078.9" fill="none" stroke="#3a3a3a" stroke-width="1.2" opacity="0.45" stroke-linecap="round" filter="url(#b1)"/>
<path d="M537 1046.9 C537.4 1050.4 538.6 1061 539.4 1067.7 C540.2 1074.4 541.4 1083.7 541.8 1086.9" fill="none" stroke="#3a3a3a" stroke-width="1.0" opacity="0.35" stroke-linecap="round" filter="url(#b1)"/>
<path d="M628.1 998.9 C627.8 1004.3 627 1020.3 626.5 1030.9 C626 1041.6 625.2 1057.6 624.9 1062.9" fill="none" stroke="#3a3a3a" stroke-width="1.0" opacity="0.35" stroke-linecap="round" filter="url(#b1)"/>
<ellipse cx="495.4" cy="1154" rx="7.2" ry="4" fill="#262626" opacity="0.95" filter="url(#b2)"/>
<ellipse cx="500.2" cy="1138" rx="8" ry="6.4" fill="#262626" opacity="0.45" filter="url(#b2)"/>
<ellipse cx="527.4" cy="1146" rx="3.2" ry="3.2" fill="#262626" opacity="0.8" filter="url(#b2)"/>
<ellipse cx="576.9" cy="1134.8" rx="11.2" ry="8.8" fill="#262626" opacity="0.6" filter="url(#b2)"/>
<ellipse cx="586.5" cy="1099.7" rx="7.2" ry="9.6" fill="#262626" opacity="0.5" filter="url(#b2)"/>
<ellipse cx="624.9" cy="1086.9" rx="6.4" ry="7.2" fill="#262626" opacity="0.55" filter="url(#b2)"/>
<ellipse cx="636.1" cy="1110.9" rx="7.2" ry="9.6" fill="#262626" opacity="0.55" filter="url(#b2)"/>
<ellipse cx="596.1" cy="962.2" rx="4" ry="4" fill="#262626" opacity="0.4" filter="url(#b2)"/>
<ellipse cx="546.5" cy="981.3" rx="2.9" ry="2.9" fill="#262626" opacity="0.45" filter="url(#b2)"/>
<ellipse cx="513" cy="929.4" rx="4.8" ry="2.4" fill="#262626" opacity="0.3" filter="url(#b2)"/>
<circle cx="503.4" cy="1056.5" r="14" fill="#d6d6d6" stroke="#9a9a9a" stroke-width="2.2" filter="url(#b1)"/>
<circle cx="503.4" cy="1056.5" r="7" fill="none" stroke="#f0f0f0" stroke-width="3" filter="url(#b1)"/>
<circle cx="554.5" cy="1157.2" r="12" fill="#cfcfcf" stroke="#e6e6e6" stroke-width="1.5" filter="url(#b1)"/>
<circle cx="503.4" cy="909.4" r="3" fill="#1a1a1a"/>
<circle cx="505" cy="914.2" r="2" fill="#1a1a1a"/>
<circle cx="565.7" cy="927" r="2.2" fill="#1a1a1a"/>
<circle cx="519.4" cy="981.3" r="2.2" fill="#1a1a1a"/>
<circle cx="521.8" cy="984.5" r="1.6" fill="#1a1a1a"/>
<circle cx="521" cy="1014.1" r="2" fill="#1a1a1a"/>
<circle cx="589.7" cy="901.4" r="2.2" fill="#1a1a1a"/>
<rect x="469" y="898.8" width="175" height="295.6" filter="url(#grain2)" opacity="0.16"/>
</g>
<rect x="603" y="1181.8" width="35.2" height="8.2" fill="#111"/></svg></body></html>
